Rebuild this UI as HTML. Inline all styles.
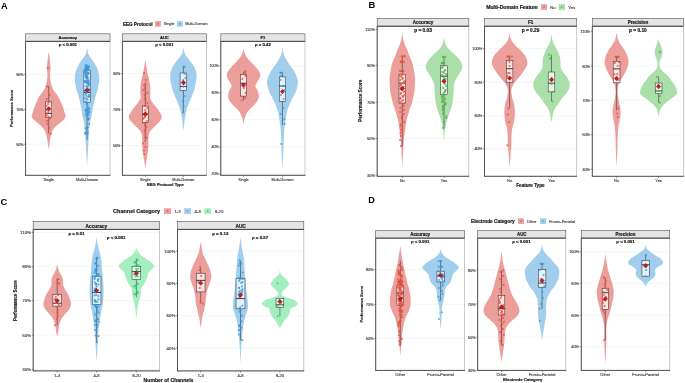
<!DOCTYPE html>
<html><head><meta charset="utf-8"><style>
html,body{margin:0;padding:0;background:#fff;width:685px;height:383px;overflow:hidden}
svg{display:block;will-change:transform}
</style></head><body>
<svg width="685" height="383" viewBox="0 0 685 383"><rect x="0" y="0" width="685" height="383" fill="#fff"/>
<text x="0.90" y="8.90" font-size="9.2" font-weight="bold" text-anchor="start" fill="#000" font-family="Liberation Sans, sans-serif" >A</text>
<text x="368.40" y="8.00" font-size="9.4" font-weight="bold" text-anchor="start" fill="#000" font-family="Liberation Sans, sans-serif" >B</text>
<text x="0.50" y="205.10" font-size="9.4" font-weight="bold" text-anchor="start" fill="#000" font-family="Liberation Sans, sans-serif" >C</text>
<text x="368.30" y="203.20" font-size="9.1" font-weight="bold" text-anchor="start" fill="#000" font-family="Liberation Sans, sans-serif" >D</text>
<line x1="25.6" y1="74.30" x2="110.0" y2="74.30" stroke="#EDEDED" stroke-width="0.5"/>
<line x1="25.6" y1="109.30" x2="110.0" y2="109.30" stroke="#EDEDED" stroke-width="0.5"/>
<line x1="25.6" y1="144.20" x2="110.0" y2="144.20" stroke="#EDEDED" stroke-width="0.5"/>
<path d="M48.70,52.20 C48.80,52.75 49.13,54.30 49.30,55.50 C49.47,56.70 49.52,57.80 49.70,59.40 C49.88,61.00 50.25,63.67 50.40,65.10 C50.55,66.53 50.67,66.55 50.60,68.00 C50.53,69.45 50.08,72.12 50.00,73.80 C49.92,75.48 50.03,77.07 50.10,78.10 C50.17,79.13 50.22,78.98 50.40,80.00 C50.58,81.02 50.83,82.80 51.20,84.20 C51.57,85.60 51.93,87.02 52.60,88.40 C53.27,89.78 54.25,91.12 55.20,92.50 C56.15,93.88 57.43,95.30 58.30,96.70 C59.17,98.10 59.75,99.50 60.40,100.90 C61.05,102.30 61.67,103.72 62.20,105.10 C62.73,106.48 63.15,107.82 63.60,109.20 C64.05,110.58 64.55,112.27 64.90,113.40 C65.25,114.53 65.83,115.03 65.70,116.00 C65.57,116.97 65.20,117.97 64.10,119.20 C63.00,120.43 60.67,122.02 59.10,123.40 C57.53,124.78 55.87,126.12 54.70,127.50 C53.53,128.88 52.75,130.30 52.10,131.70 C51.45,133.10 51.15,134.50 50.80,135.90 C50.45,137.30 50.22,138.72 50.00,140.10 C49.78,141.48 49.72,142.63 49.50,144.20 C49.28,145.77 48.83,148.62 48.70,149.50 L48.70,149.50 C48.57,148.62 48.12,145.77 47.90,144.20 C47.68,142.63 47.62,141.48 47.40,140.10 C47.18,138.72 46.95,137.30 46.60,135.90 C46.25,134.50 45.95,133.10 45.30,131.70 C44.65,130.30 43.87,128.88 42.70,127.50 C41.53,126.12 39.87,124.78 38.30,123.40 C36.73,122.02 34.40,120.43 33.30,119.20 C32.20,117.97 31.83,116.97 31.70,116.00 C31.57,115.03 32.15,114.53 32.50,113.40 C32.85,112.27 33.35,110.58 33.80,109.20 C34.25,107.82 34.67,106.48 35.20,105.10 C35.73,103.72 36.35,102.30 37.00,100.90 C37.65,99.50 38.23,98.10 39.10,96.70 C39.97,95.30 41.25,93.88 42.20,92.50 C43.15,91.12 44.13,89.78 44.80,88.40 C45.47,87.02 45.83,85.60 46.20,84.20 C46.57,82.80 46.82,81.02 47.00,80.00 C47.18,78.98 47.23,79.13 47.30,78.10 C47.37,77.07 47.48,75.48 47.40,73.80 C47.32,72.12 46.87,69.45 46.80,68.00 C46.73,66.55 46.85,66.53 47.00,65.10 C47.15,63.67 47.52,61.00 47.70,59.40 C47.88,57.80 47.93,56.70 48.10,55.50 C48.27,54.30 48.60,52.75 48.70,52.20 Z" fill="#EC9E9A" stroke="none"/>
<path d="M87.05,47.60 C87.13,48.00 87.38,49.03 87.55,50.00 C87.72,50.97 87.57,52.15 88.05,53.40 C88.53,54.65 89.53,56.12 90.45,57.50 C91.37,58.88 92.62,60.30 93.55,61.70 C94.48,63.10 95.33,64.50 96.05,65.90 C96.77,67.30 97.37,68.72 97.85,70.10 C98.33,71.48 98.72,72.82 98.95,74.20 C99.18,75.58 99.22,77.00 99.25,78.40 C99.28,79.80 99.25,81.63 99.15,82.60 C99.05,83.57 98.87,83.23 98.65,84.20 C98.43,85.17 98.17,87.02 97.85,88.40 C97.53,89.78 97.15,91.12 96.75,92.50 C96.35,93.88 95.85,95.30 95.45,96.70 C95.05,98.10 94.68,99.50 94.35,100.90 C94.02,102.30 93.73,103.72 93.45,105.10 C93.17,106.48 92.90,107.82 92.65,109.20 C92.40,110.58 92.18,112.00 91.95,113.40 C91.72,114.80 91.45,116.63 91.25,117.60 C91.05,118.57 90.97,118.23 90.75,119.20 C90.53,120.17 90.18,122.02 89.95,123.40 C89.72,124.78 89.48,126.12 89.35,127.50 C89.22,128.88 89.23,130.30 89.15,131.70 C89.07,133.10 88.95,134.50 88.85,135.90 C88.75,137.30 88.63,138.72 88.55,140.10 C88.47,141.48 88.43,142.82 88.35,144.20 C88.27,145.58 88.13,147.00 88.05,148.40 C87.97,149.80 87.93,151.00 87.85,152.60 C87.77,154.20 87.68,155.93 87.55,158.00 C87.42,160.07 87.13,163.83 87.05,165.00 L87.05,165.00 C86.97,163.83 86.68,160.07 86.55,158.00 C86.42,155.93 86.33,154.20 86.25,152.60 C86.17,151.00 86.13,149.80 86.05,148.40 C85.97,147.00 85.83,145.58 85.75,144.20 C85.67,142.82 85.63,141.48 85.55,140.10 C85.47,138.72 85.35,137.30 85.25,135.90 C85.15,134.50 85.03,133.10 84.95,131.70 C84.87,130.30 84.88,128.88 84.75,127.50 C84.62,126.12 84.38,124.78 84.15,123.40 C83.92,122.02 83.57,120.17 83.35,119.20 C83.13,118.23 83.05,118.57 82.85,117.60 C82.65,116.63 82.38,114.80 82.15,113.40 C81.92,112.00 81.70,110.58 81.45,109.20 C81.20,107.82 80.93,106.48 80.65,105.10 C80.37,103.72 80.08,102.30 79.75,100.90 C79.42,99.50 79.05,98.10 78.65,96.70 C78.25,95.30 77.75,93.88 77.35,92.50 C76.95,91.12 76.57,89.78 76.25,88.40 C75.93,87.02 75.67,85.17 75.45,84.20 C75.23,83.23 75.05,83.57 74.95,82.60 C74.85,81.63 74.82,79.80 74.85,78.40 C74.88,77.00 74.92,75.58 75.15,74.20 C75.38,72.82 75.77,71.48 76.25,70.10 C76.73,68.72 77.33,67.30 78.05,65.90 C78.77,64.50 79.62,63.10 80.55,61.70 C81.48,60.30 82.73,58.88 83.65,57.50 C84.57,56.12 85.57,54.65 86.05,53.40 C86.53,52.15 86.38,50.97 86.55,50.00 C86.72,49.03 86.97,48.00 87.05,47.60 Z" fill="#A0CEEC" stroke="none"/>
<line x1="48.70" y1="86.00" x2="48.70" y2="101.90" stroke="#222" stroke-width="0.5"/>
<line x1="48.70" y1="117.10" x2="48.70" y2="133.80" stroke="#222" stroke-width="0.5"/>
<rect x="45.65" y="101.90" width="6.10" height="15.20" fill="#fff" fill-opacity="0.7" stroke="#222" stroke-width="0.5"/>
<line x1="45.65" y1="113.40" x2="51.75" y2="113.40" stroke="#111" stroke-width="0.8"/>
<circle cx="47.85" cy="68.00" r="1.05" fill="#E74C3C" fill-opacity="0.8"/>
<circle cx="47.02" cy="86.50" r="1.05" fill="#E74C3C" fill-opacity="0.8"/>
<circle cx="49.42" cy="95.00" r="1.05" fill="#E74C3C" fill-opacity="0.8"/>
<circle cx="46.65" cy="99.00" r="1.05" fill="#E74C3C" fill-opacity="0.8"/>
<circle cx="48.87" cy="102.00" r="1.05" fill="#E74C3C" fill-opacity="0.8"/>
<circle cx="48.06" cy="104.00" r="1.05" fill="#E74C3C" fill-opacity="0.8"/>
<circle cx="46.58" cy="106.00" r="1.05" fill="#E74C3C" fill-opacity="0.8"/>
<circle cx="48.74" cy="108.00" r="1.05" fill="#E74C3C" fill-opacity="0.8"/>
<circle cx="46.48" cy="110.00" r="1.05" fill="#E74C3C" fill-opacity="0.8"/>
<circle cx="48.38" cy="112.00" r="1.05" fill="#E74C3C" fill-opacity="0.8"/>
<circle cx="46.64" cy="113.50" r="1.05" fill="#E74C3C" fill-opacity="0.8"/>
<circle cx="46.74" cy="115.00" r="1.05" fill="#E74C3C" fill-opacity="0.8"/>
<circle cx="48.34" cy="117.00" r="1.05" fill="#E74C3C" fill-opacity="0.8"/>
<circle cx="50.27" cy="118.50" r="1.05" fill="#E74C3C" fill-opacity="0.8"/>
<circle cx="46.89" cy="121.00" r="1.05" fill="#E74C3C" fill-opacity="0.8"/>
<circle cx="47.37" cy="124.00" r="1.05" fill="#E74C3C" fill-opacity="0.8"/>
<circle cx="49.31" cy="128.00" r="1.05" fill="#E74C3C" fill-opacity="0.8"/>
<circle cx="50.85" cy="133.80" r="1.05" fill="#E74C3C" fill-opacity="0.8"/>
<path d="M48.70,106.70 L50.90,108.90 L48.70,111.10 L46.50,108.90 Z" fill="#E8120C" stroke="#3a0a0a" stroke-width="0.45"/>
<line x1="87.05" y1="65.40" x2="87.05" y2="70.10" stroke="#222" stroke-width="0.5"/>
<line x1="87.05" y1="102.50" x2="87.05" y2="140.00" stroke="#222" stroke-width="0.5"/>
<rect x="83.90" y="70.10" width="6.30" height="32.40" fill="#fff" fill-opacity="0.7" stroke="#222" stroke-width="0.5"/>
<line x1="83.90" y1="92.50" x2="90.20" y2="92.50" stroke="#111" stroke-width="0.8"/>
<circle cx="86.60" cy="92.26" r="1.05" fill="#3498DB" fill-opacity="0.8"/>
<circle cx="85.05" cy="132.91" r="1.05" fill="#3498DB" fill-opacity="0.8"/>
<circle cx="86.12" cy="113.52" r="1.05" fill="#3498DB" fill-opacity="0.8"/>
<circle cx="85.37" cy="72.49" r="1.05" fill="#3498DB" fill-opacity="0.8"/>
<circle cx="88.44" cy="79.95" r="1.05" fill="#3498DB" fill-opacity="0.8"/>
<circle cx="87.41" cy="74.35" r="1.05" fill="#3498DB" fill-opacity="0.8"/>
<circle cx="86.49" cy="95.99" r="1.05" fill="#3498DB" fill-opacity="0.8"/>
<circle cx="85.13" cy="90.76" r="1.05" fill="#3498DB" fill-opacity="0.8"/>
<circle cx="85.76" cy="68.38" r="1.05" fill="#3498DB" fill-opacity="0.8"/>
<circle cx="86.73" cy="98.60" r="1.05" fill="#3498DB" fill-opacity="0.8"/>
<circle cx="87.43" cy="79.95" r="1.05" fill="#3498DB" fill-opacity="0.8"/>
<circle cx="86.17" cy="86.29" r="1.05" fill="#3498DB" fill-opacity="0.8"/>
<circle cx="87.93" cy="107.18" r="1.05" fill="#3498DB" fill-opacity="0.8"/>
<circle cx="87.38" cy="76.96" r="1.05" fill="#3498DB" fill-opacity="0.8"/>
<circle cx="88.70" cy="89.65" r="1.05" fill="#3498DB" fill-opacity="0.8"/>
<circle cx="86.12" cy="101.95" r="1.05" fill="#3498DB" fill-opacity="0.8"/>
<circle cx="85.37" cy="134.03" r="1.05" fill="#3498DB" fill-opacity="0.8"/>
<circle cx="88.18" cy="84.42" r="1.05" fill="#3498DB" fill-opacity="0.8"/>
<circle cx="87.00" cy="72.86" r="1.05" fill="#3498DB" fill-opacity="0.8"/>
<circle cx="87.79" cy="67.64" r="1.05" fill="#3498DB" fill-opacity="0.8"/>
<circle cx="87.37" cy="104.56" r="1.05" fill="#3498DB" fill-opacity="0.8"/>
<circle cx="86.23" cy="115.38" r="1.05" fill="#3498DB" fill-opacity="0.8"/>
<circle cx="87.47" cy="99.72" r="1.05" fill="#3498DB" fill-opacity="0.8"/>
<circle cx="86.86" cy="92.63" r="1.05" fill="#3498DB" fill-opacity="0.8"/>
<circle cx="89.01" cy="111.65" r="1.05" fill="#3498DB" fill-opacity="0.8"/>
<circle cx="87.77" cy="87.03" r="1.05" fill="#3498DB" fill-opacity="0.8"/>
<circle cx="87.94" cy="68.76" r="1.05" fill="#3498DB" fill-opacity="0.8"/>
<circle cx="89.22" cy="96.36" r="1.05" fill="#3498DB" fill-opacity="0.8"/>
<circle cx="86.10" cy="109.79" r="1.05" fill="#3498DB" fill-opacity="0.8"/>
<circle cx="87.79" cy="83.30" r="1.05" fill="#3498DB" fill-opacity="0.8"/>
<circle cx="86.88" cy="66.52" r="1.05" fill="#3498DB" fill-opacity="0.8"/>
<circle cx="85.37" cy="73.61" r="1.05" fill="#3498DB" fill-opacity="0.8"/>
<circle cx="88.23" cy="68.38" r="1.05" fill="#3498DB" fill-opacity="0.8"/>
<circle cx="85.94" cy="72.11" r="1.05" fill="#3498DB" fill-opacity="0.8"/>
<circle cx="88.68" cy="83.30" r="1.05" fill="#3498DB" fill-opacity="0.8"/>
<circle cx="86.83" cy="69.50" r="1.05" fill="#3498DB" fill-opacity="0.8"/>
<circle cx="88.74" cy="90.76" r="1.05" fill="#3498DB" fill-opacity="0.8"/>
<circle cx="88.65" cy="109.41" r="1.05" fill="#3498DB" fill-opacity="0.8"/>
<circle cx="86.68" cy="78.46" r="1.05" fill="#3498DB" fill-opacity="0.8"/>
<circle cx="88.74" cy="81.81" r="1.05" fill="#3498DB" fill-opacity="0.8"/>
<circle cx="85.51" cy="128.44" r="1.05" fill="#3498DB" fill-opacity="0.8"/>
<circle cx="85.87" cy="73.98" r="1.05" fill="#3498DB" fill-opacity="0.8"/>
<circle cx="86.98" cy="76.59" r="1.05" fill="#3498DB" fill-opacity="0.8"/>
<circle cx="86.01" cy="93.00" r="1.05" fill="#3498DB" fill-opacity="0.8"/>
<circle cx="86.69" cy="65.40" r="1.05" fill="#3498DB" fill-opacity="0.8"/>
<circle cx="87.34" cy="82.56" r="1.05" fill="#3498DB" fill-opacity="0.8"/>
<circle cx="87.89" cy="127.32" r="1.05" fill="#3498DB" fill-opacity="0.8"/>
<circle cx="87.57" cy="89.27" r="1.05" fill="#3498DB" fill-opacity="0.8"/>
<circle cx="85.09" cy="98.22" r="1.05" fill="#3498DB" fill-opacity="0.8"/>
<circle cx="88.28" cy="118.37" r="1.05" fill="#3498DB" fill-opacity="0.8"/>
<circle cx="88.36" cy="115.38" r="1.05" fill="#3498DB" fill-opacity="0.8"/>
<circle cx="86.61" cy="83.30" r="1.05" fill="#3498DB" fill-opacity="0.8"/>
<circle cx="87.64" cy="70.62" r="1.05" fill="#3498DB" fill-opacity="0.8"/>
<circle cx="85.15" cy="68.76" r="1.05" fill="#3498DB" fill-opacity="0.8"/>
<circle cx="85.56" cy="75.47" r="1.05" fill="#3498DB" fill-opacity="0.8"/>
<circle cx="85.08" cy="81.07" r="1.05" fill="#3498DB" fill-opacity="0.8"/>
<circle cx="85.52" cy="65.40" r="1.05" fill="#3498DB" fill-opacity="0.8"/>
<circle cx="86.45" cy="70.62" r="1.05" fill="#3498DB" fill-opacity="0.8"/>
<circle cx="88.70" cy="66.52" r="1.05" fill="#3498DB" fill-opacity="0.8"/>
<circle cx="85.50" cy="94.49" r="1.05" fill="#3498DB" fill-opacity="0.8"/>
<circle cx="86.38" cy="77.34" r="1.05" fill="#3498DB" fill-opacity="0.8"/>
<circle cx="85.39" cy="82.19" r="1.05" fill="#3498DB" fill-opacity="0.8"/>
<circle cx="89.22" cy="112.40" r="1.05" fill="#3498DB" fill-opacity="0.8"/>
<circle cx="86.98" cy="86.66" r="1.05" fill="#3498DB" fill-opacity="0.8"/>
<circle cx="85.30" cy="69.88" r="1.05" fill="#3498DB" fill-opacity="0.8"/>
<circle cx="86.01" cy="81.44" r="1.05" fill="#3498DB" fill-opacity="0.8"/>
<circle cx="85.56" cy="110.53" r="1.05" fill="#3498DB" fill-opacity="0.8"/>
<circle cx="89.03" cy="66.52" r="1.05" fill="#3498DB" fill-opacity="0.8"/>
<circle cx="85.50" cy="90.02" r="1.05" fill="#3498DB" fill-opacity="0.8"/>
<circle cx="84.97" cy="90.76" r="1.05" fill="#3498DB" fill-opacity="0.8"/>
<circle cx="89.16" cy="90.02" r="1.05" fill="#3498DB" fill-opacity="0.8"/>
<circle cx="87.91" cy="113.89" r="1.05" fill="#3498DB" fill-opacity="0.8"/>
<circle cx="86.46" cy="77.71" r="1.05" fill="#3498DB" fill-opacity="0.8"/>
<circle cx="88.25" cy="73.61" r="1.05" fill="#3498DB" fill-opacity="0.8"/>
<circle cx="88.28" cy="90.02" r="1.05" fill="#3498DB" fill-opacity="0.8"/>
<circle cx="85.83" cy="80.69" r="1.05" fill="#3498DB" fill-opacity="0.8"/>
<circle cx="89.18" cy="108.67" r="1.05" fill="#3498DB" fill-opacity="0.8"/>
<circle cx="88.40" cy="112.77" r="1.05" fill="#3498DB" fill-opacity="0.8"/>
<circle cx="88.11" cy="109.41" r="1.05" fill="#3498DB" fill-opacity="0.8"/>
<circle cx="87.13" cy="76.22" r="1.05" fill="#3498DB" fill-opacity="0.8"/>
<circle cx="84.98" cy="81.81" r="1.05" fill="#3498DB" fill-opacity="0.8"/>
<circle cx="86.08" cy="66.89" r="1.05" fill="#3498DB" fill-opacity="0.8"/>
<circle cx="87.90" cy="77.71" r="1.05" fill="#3498DB" fill-opacity="0.8"/>
<circle cx="86.82" cy="128.06" r="1.05" fill="#3498DB" fill-opacity="0.8"/>
<circle cx="89.20" cy="123.96" r="1.05" fill="#3498DB" fill-opacity="0.8"/>
<circle cx="86.45" cy="128.06" r="1.05" fill="#3498DB" fill-opacity="0.8"/>
<circle cx="85.85" cy="75.84" r="1.05" fill="#3498DB" fill-opacity="0.8"/>
<circle cx="85.75" cy="75.10" r="1.05" fill="#3498DB" fill-opacity="0.8"/>
<circle cx="88.81" cy="94.87" r="1.05" fill="#3498DB" fill-opacity="0.8"/>
<circle cx="86.96" cy="111.65" r="1.05" fill="#3498DB" fill-opacity="0.8"/>
<circle cx="88.37" cy="96.73" r="1.05" fill="#3498DB" fill-opacity="0.8"/>
<circle cx="87.76" cy="69.88" r="1.05" fill="#3498DB" fill-opacity="0.8"/>
<circle cx="88.29" cy="119.49" r="1.05" fill="#3498DB" fill-opacity="0.8"/>
<circle cx="86.95" cy="103.45" r="1.05" fill="#3498DB" fill-opacity="0.8"/>
<circle cx="88.32" cy="73.98" r="1.05" fill="#3498DB" fill-opacity="0.8"/>
<circle cx="88.37" cy="80.69" r="1.05" fill="#3498DB" fill-opacity="0.8"/>
<circle cx="86.59" cy="131.79" r="1.05" fill="#3498DB" fill-opacity="0.8"/>
<circle cx="89.02" cy="83.68" r="1.05" fill="#3498DB" fill-opacity="0.8"/>
<circle cx="85.60" cy="101.58" r="1.05" fill="#3498DB" fill-opacity="0.8"/>
<circle cx="85.52" cy="71.74" r="1.05" fill="#3498DB" fill-opacity="0.8"/>
<circle cx="88.40" cy="119.11" r="1.05" fill="#3498DB" fill-opacity="0.8"/>
<circle cx="88.49" cy="72.86" r="1.05" fill="#3498DB" fill-opacity="0.8"/>
<circle cx="87.74" cy="134.03" r="1.05" fill="#3498DB" fill-opacity="0.8"/>
<circle cx="87.26" cy="81.44" r="1.05" fill="#3498DB" fill-opacity="0.8"/>
<circle cx="84.91" cy="72.11" r="1.05" fill="#3498DB" fill-opacity="0.8"/>
<circle cx="87.71" cy="131.79" r="1.05" fill="#3498DB" fill-opacity="0.8"/>
<circle cx="88.96" cy="89.65" r="1.05" fill="#3498DB" fill-opacity="0.8"/>
<circle cx="88.69" cy="85.17" r="1.05" fill="#3498DB" fill-opacity="0.8"/>
<circle cx="85.78" cy="110.16" r="1.05" fill="#3498DB" fill-opacity="0.8"/>
<circle cx="86.14" cy="77.34" r="1.05" fill="#3498DB" fill-opacity="0.8"/>
<path d="M87.05,87.90 L89.25,90.10 L87.05,92.30 L84.85,90.10 Z" fill="#E8120C" stroke="#3a0a0a" stroke-width="0.45"/>
<rect x="25.6" y="41.3" width="84.40" height="134.00" fill="none" stroke="#BDBDBD" stroke-width="0.8"/>
<line x1="25.6" y1="41.3" x2="25.6" y2="175.3" stroke="#333" stroke-width="0.8"/>
<line x1="25.200000000000003" y1="175.3" x2="110.4" y2="175.3" stroke="#333" stroke-width="0.8"/>
<rect x="25.6" y="33.8" width="84.40" height="7.50" fill="#E4E4E4" stroke="#555" stroke-width="0.6"/>
<line x1="25.6" y1="41.3" x2="110.0" y2="41.3" stroke="#333" stroke-width="0.8"/>
<text x="67.80" y="39.03" font-size="4.1" font-weight="bold" text-anchor="middle" fill="#1a1a1a" stroke="#1a1a1a" stroke-width="0.2" font-family="Liberation Sans, sans-serif" >Accuracy</text>
<text x="67.80" y="46.35" font-size="4.3" font-weight="bold" text-anchor="middle" fill="#1a1a1a" stroke="#1a1a1a" stroke-width="0.2" font-family="Liberation Sans, sans-serif" >p &lt; 0.001</text>
<line x1="24.0" y1="74.30" x2="25.6" y2="74.30" stroke="#333" stroke-width="0.5"/>
<text x="23.40" y="75.80" font-size="3.6" font-weight="normal" text-anchor="end" fill="#333" stroke="#333" stroke-width="0.11" font-family="Liberation Sans, sans-serif" >90%</text>
<line x1="24.0" y1="109.30" x2="25.6" y2="109.30" stroke="#333" stroke-width="0.5"/>
<text x="23.40" y="110.80" font-size="3.6" font-weight="normal" text-anchor="end" fill="#333" stroke="#333" stroke-width="0.11" font-family="Liberation Sans, sans-serif" >70%</text>
<line x1="24.0" y1="144.20" x2="25.6" y2="144.20" stroke="#333" stroke-width="0.5"/>
<text x="23.40" y="145.70" font-size="3.6" font-weight="normal" text-anchor="end" fill="#333" stroke="#333" stroke-width="0.11" font-family="Liberation Sans, sans-serif" >50%</text>
<line x1="48.70" y1="175.3" x2="48.70" y2="176.9" stroke="#333" stroke-width="0.5"/>
<text x="48.70" y="180.65" font-size="3.75" font-weight="normal" text-anchor="middle" fill="#333" stroke="#333" stroke-width="0.11" font-family="Liberation Sans, sans-serif" >Single</text>
<line x1="87.05" y1="175.3" x2="87.05" y2="176.9" stroke="#333" stroke-width="0.5"/>
<text x="87.05" y="180.65" font-size="3.75" font-weight="normal" text-anchor="middle" fill="#333" stroke="#333" stroke-width="0.11" font-family="Liberation Sans, sans-serif" >Multi-Domain</text>
<line x1="122.4" y1="73.50" x2="206.4" y2="73.50" stroke="#EDEDED" stroke-width="0.5"/>
<line x1="122.4" y1="109.30" x2="206.4" y2="109.30" stroke="#EDEDED" stroke-width="0.5"/>
<line x1="122.4" y1="145.50" x2="206.4" y2="145.50" stroke="#EDEDED" stroke-width="0.5"/>
<path d="M145.30,59.00 C145.36,59.42 145.53,60.63 145.65,61.50 C145.77,62.37 145.82,63.05 146.00,64.20 C146.18,65.35 146.47,67.02 146.70,68.40 C146.93,69.78 147.12,71.12 147.40,72.50 C147.68,73.88 148.07,75.30 148.40,76.70 C148.73,78.10 149.13,79.50 149.40,80.90 C149.67,82.30 149.85,83.72 150.00,85.10 C150.15,86.48 150.27,87.82 150.30,89.20 C150.33,90.58 150.25,92.00 150.20,93.40 C150.15,94.80 149.95,96.63 150.00,97.60 C150.05,98.57 150.00,98.23 150.50,99.20 C151.00,100.17 152.00,102.02 153.00,103.40 C154.00,104.78 155.43,106.12 156.50,107.50 C157.57,108.88 158.53,110.30 159.40,111.70 C160.27,113.10 161.48,114.50 161.70,115.90 C161.92,117.30 161.48,118.72 160.70,120.10 C159.92,121.48 158.35,122.82 157.00,124.20 C155.65,125.58 153.72,127.27 152.60,128.40 C151.48,129.53 150.92,130.03 150.30,131.00 C149.68,131.97 149.22,132.97 148.90,134.20 C148.58,135.43 148.48,137.02 148.40,138.40 C148.32,139.78 148.40,141.12 148.40,142.50 C148.40,143.88 148.47,145.30 148.40,146.70 C148.33,148.10 148.18,149.50 148.00,150.90 C147.82,152.30 147.53,153.72 147.30,155.10 C147.07,156.48 146.82,157.82 146.60,159.20 C146.38,160.58 146.22,162.00 146.00,163.40 C145.78,164.80 145.42,166.90 145.30,167.60 L145.30,167.60 C145.18,166.90 144.82,164.80 144.60,163.40 C144.38,162.00 144.22,160.58 144.00,159.20 C143.78,157.82 143.53,156.48 143.30,155.10 C143.07,153.72 142.78,152.30 142.60,150.90 C142.42,149.50 142.27,148.10 142.20,146.70 C142.13,145.30 142.20,143.88 142.20,142.50 C142.20,141.12 142.28,139.78 142.20,138.40 C142.12,137.02 142.02,135.43 141.70,134.20 C141.38,132.97 140.92,131.97 140.30,131.00 C139.68,130.03 139.12,129.53 138.00,128.40 C136.88,127.27 134.95,125.58 133.60,124.20 C132.25,122.82 130.68,121.48 129.90,120.10 C129.12,118.72 128.68,117.30 128.90,115.90 C129.12,114.50 130.33,113.10 131.20,111.70 C132.07,110.30 133.03,108.88 134.10,107.50 C135.17,106.12 136.60,104.78 137.60,103.40 C138.60,102.02 139.60,100.17 140.10,99.20 C140.60,98.23 140.55,98.57 140.60,97.60 C140.65,96.63 140.45,94.80 140.40,93.40 C140.35,92.00 140.27,90.58 140.30,89.20 C140.33,87.82 140.45,86.48 140.60,85.10 C140.75,83.72 140.93,82.30 141.20,80.90 C141.47,79.50 141.87,78.10 142.20,76.70 C142.53,75.30 142.92,73.88 143.20,72.50 C143.48,71.12 143.67,69.78 143.90,68.40 C144.13,67.02 144.43,65.35 144.60,64.20 C144.78,63.05 144.83,62.37 144.95,61.50 C145.07,60.63 145.24,59.42 145.30,59.00 Z" fill="#EC9E9A" stroke="none"/>
<path d="M183.40,47.10 C183.48,47.58 183.68,48.95 183.90,50.00 C184.12,51.05 184.13,52.15 184.70,53.40 C185.27,54.65 186.30,56.12 187.30,57.50 C188.30,58.88 189.63,60.30 190.70,61.70 C191.77,63.10 192.88,64.50 193.70,65.90 C194.52,67.30 195.12,68.72 195.60,70.10 C196.08,71.48 196.45,72.82 196.60,74.20 C196.75,75.58 196.60,77.00 196.50,78.40 C196.40,79.80 196.17,81.63 196.00,82.60 C195.83,83.57 195.72,83.23 195.50,84.20 C195.28,85.17 195.05,87.02 194.70,88.40 C194.35,89.78 193.92,91.12 193.40,92.50 C192.88,93.88 192.20,95.30 191.60,96.70 C191.00,98.10 190.37,99.50 189.80,100.90 C189.23,102.30 188.70,103.72 188.20,105.10 C187.70,106.48 187.20,107.82 186.80,109.20 C186.40,110.58 186.10,112.00 185.80,113.40 C185.50,114.80 185.23,116.17 185.00,117.60 C184.77,119.03 184.57,120.60 184.40,122.00 C184.23,123.40 184.17,124.50 184.00,126.00 C183.83,127.50 183.50,130.17 183.40,131.00 L183.40,131.00 C183.30,130.17 182.97,127.50 182.80,126.00 C182.63,124.50 182.57,123.40 182.40,122.00 C182.23,120.60 182.03,119.03 181.80,117.60 C181.57,116.17 181.30,114.80 181.00,113.40 C180.70,112.00 180.40,110.58 180.00,109.20 C179.60,107.82 179.10,106.48 178.60,105.10 C178.10,103.72 177.57,102.30 177.00,100.90 C176.43,99.50 175.80,98.10 175.20,96.70 C174.60,95.30 173.92,93.88 173.40,92.50 C172.88,91.12 172.45,89.78 172.10,88.40 C171.75,87.02 171.52,85.17 171.30,84.20 C171.08,83.23 170.97,83.57 170.80,82.60 C170.63,81.63 170.40,79.80 170.30,78.40 C170.20,77.00 170.05,75.58 170.20,74.20 C170.35,72.82 170.72,71.48 171.20,70.10 C171.68,68.72 172.28,67.30 173.10,65.90 C173.92,64.50 175.03,63.10 176.10,61.70 C177.17,60.30 178.50,58.88 179.50,57.50 C180.50,56.12 181.53,54.65 182.10,53.40 C182.67,52.15 182.68,51.05 182.90,50.00 C183.12,48.95 183.32,47.58 183.40,47.10 Z" fill="#A0CEEC" stroke="none"/>
<line x1="145.30" y1="82.50" x2="145.30" y2="106.00" stroke="#222" stroke-width="0.5"/>
<line x1="145.30" y1="122.40" x2="145.30" y2="142.00" stroke="#222" stroke-width="0.5"/>
<rect x="142.30" y="106.00" width="6.00" height="16.40" fill="#fff" fill-opacity="0.7" stroke="#222" stroke-width="0.5"/>
<line x1="142.30" y1="114.00" x2="148.30" y2="114.00" stroke="#111" stroke-width="0.8"/>
<circle cx="144.05" cy="73.00" r="1.05" fill="#E74C3C" fill-opacity="0.8"/>
<circle cx="145.71" cy="80.00" r="1.05" fill="#E74C3C" fill-opacity="0.8"/>
<circle cx="144.14" cy="85.00" r="1.05" fill="#E74C3C" fill-opacity="0.8"/>
<circle cx="144.91" cy="88.00" r="1.05" fill="#E74C3C" fill-opacity="0.8"/>
<circle cx="143.53" cy="90.00" r="1.05" fill="#E74C3C" fill-opacity="0.8"/>
<circle cx="147.27" cy="93.00" r="1.05" fill="#E74C3C" fill-opacity="0.8"/>
<circle cx="144.60" cy="95.00" r="1.05" fill="#E74C3C" fill-opacity="0.8"/>
<circle cx="145.10" cy="98.00" r="1.05" fill="#E74C3C" fill-opacity="0.8"/>
<circle cx="145.70" cy="100.00" r="1.05" fill="#E74C3C" fill-opacity="0.8"/>
<circle cx="147.24" cy="103.00" r="1.05" fill="#E74C3C" fill-opacity="0.8"/>
<circle cx="144.92" cy="106.00" r="1.05" fill="#E74C3C" fill-opacity="0.8"/>
<circle cx="147.31" cy="108.00" r="1.05" fill="#E74C3C" fill-opacity="0.8"/>
<circle cx="145.31" cy="110.00" r="1.05" fill="#E74C3C" fill-opacity="0.8"/>
<circle cx="145.45" cy="112.00" r="1.05" fill="#E74C3C" fill-opacity="0.8"/>
<circle cx="145.41" cy="113.00" r="1.05" fill="#E74C3C" fill-opacity="0.8"/>
<circle cx="142.99" cy="115.00" r="1.05" fill="#E74C3C" fill-opacity="0.8"/>
<circle cx="145.01" cy="117.00" r="1.05" fill="#E74C3C" fill-opacity="0.8"/>
<circle cx="143.78" cy="118.00" r="1.05" fill="#E74C3C" fill-opacity="0.8"/>
<circle cx="142.92" cy="119.00" r="1.05" fill="#E74C3C" fill-opacity="0.8"/>
<circle cx="146.74" cy="121.00" r="1.05" fill="#E74C3C" fill-opacity="0.8"/>
<circle cx="143.73" cy="123.00" r="1.05" fill="#E74C3C" fill-opacity="0.8"/>
<circle cx="145.17" cy="125.00" r="1.05" fill="#E74C3C" fill-opacity="0.8"/>
<circle cx="146.38" cy="127.00" r="1.05" fill="#E74C3C" fill-opacity="0.8"/>
<circle cx="145.57" cy="129.00" r="1.05" fill="#E74C3C" fill-opacity="0.8"/>
<circle cx="144.46" cy="131.00" r="1.05" fill="#E74C3C" fill-opacity="0.8"/>
<circle cx="145.39" cy="134.00" r="1.05" fill="#E74C3C" fill-opacity="0.8"/>
<circle cx="145.57" cy="137.00" r="1.05" fill="#E74C3C" fill-opacity="0.8"/>
<circle cx="146.66" cy="138.00" r="1.05" fill="#E74C3C" fill-opacity="0.8"/>
<circle cx="143.41" cy="143.50" r="1.05" fill="#E74C3C" fill-opacity="0.8"/>
<circle cx="145.59" cy="147.00" r="1.05" fill="#E74C3C" fill-opacity="0.8"/>
<circle cx="144.09" cy="150.50" r="1.05" fill="#E74C3C" fill-opacity="0.8"/>
<circle cx="144.23" cy="154.00" r="1.05" fill="#E74C3C" fill-opacity="0.8"/>
<path d="M145.30,112.10 L147.50,114.30 L145.30,116.50 L143.10,114.30 Z" fill="#E8120C" stroke="#3a0a0a" stroke-width="0.45"/>
<line x1="183.40" y1="66.70" x2="183.40" y2="73.00" stroke="#222" stroke-width="0.5"/>
<line x1="183.40" y1="90.40" x2="183.40" y2="112.40" stroke="#222" stroke-width="0.5"/>
<rect x="180.10" y="73.00" width="6.60" height="17.40" fill="#fff" fill-opacity="0.7" stroke="#222" stroke-width="0.5"/>
<line x1="180.10" y1="86.50" x2="186.70" y2="86.50" stroke="#111" stroke-width="0.8"/>
<circle cx="184.71" cy="66.70" r="1.05" fill="#3498DB" fill-opacity="0.8"/>
<circle cx="183.44" cy="66.70" r="1.05" fill="#3498DB" fill-opacity="0.8"/>
<circle cx="183.70" cy="66.70" r="1.05" fill="#3498DB" fill-opacity="0.8"/>
<circle cx="184.65" cy="74.00" r="1.05" fill="#3498DB" fill-opacity="0.8"/>
<circle cx="185.38" cy="78.00" r="1.05" fill="#3498DB" fill-opacity="0.8"/>
<circle cx="183.13" cy="80.00" r="1.05" fill="#3498DB" fill-opacity="0.8"/>
<circle cx="183.94" cy="84.00" r="1.05" fill="#3498DB" fill-opacity="0.8"/>
<circle cx="183.43" cy="86.50" r="1.05" fill="#3498DB" fill-opacity="0.8"/>
<circle cx="183.46" cy="86.50" r="1.05" fill="#3498DB" fill-opacity="0.8"/>
<circle cx="184.33" cy="96.00" r="1.05" fill="#3498DB" fill-opacity="0.8"/>
<circle cx="183.17" cy="101.00" r="1.05" fill="#3498DB" fill-opacity="0.8"/>
<circle cx="183.56" cy="106.00" r="1.05" fill="#3498DB" fill-opacity="0.8"/>
<circle cx="183.29" cy="112.40" r="1.05" fill="#3498DB" fill-opacity="0.8"/>
<path d="M183.40,80.40 L185.60,82.60 L183.40,84.80 L181.20,82.60 Z" fill="#E8120C" stroke="#3a0a0a" stroke-width="0.45"/>
<rect x="122.4" y="41.3" width="84.00" height="134.00" fill="none" stroke="#BDBDBD" stroke-width="0.8"/>
<line x1="122.4" y1="41.3" x2="122.4" y2="175.3" stroke="#333" stroke-width="0.8"/>
<line x1="122.0" y1="175.3" x2="206.8" y2="175.3" stroke="#333" stroke-width="0.8"/>
<rect x="122.4" y="33.8" width="84.00" height="7.50" fill="#E4E4E4" stroke="#555" stroke-width="0.6"/>
<line x1="122.4" y1="41.3" x2="206.4" y2="41.3" stroke="#333" stroke-width="0.8"/>
<text x="164.40" y="39.03" font-size="4.1" font-weight="bold" text-anchor="middle" fill="#1a1a1a" stroke="#1a1a1a" stroke-width="0.2" font-family="Liberation Sans, sans-serif" >AUC</text>
<text x="164.40" y="46.35" font-size="4.3" font-weight="bold" text-anchor="middle" fill="#1a1a1a" stroke="#1a1a1a" stroke-width="0.2" font-family="Liberation Sans, sans-serif" >p &lt; 0.001</text>
<line x1="120.80000000000001" y1="73.50" x2="122.4" y2="73.50" stroke="#333" stroke-width="0.5"/>
<text x="120.20" y="75.00" font-size="3.6" font-weight="normal" text-anchor="end" fill="#333" stroke="#333" stroke-width="0.11" font-family="Liberation Sans, sans-serif" >90%</text>
<line x1="120.80000000000001" y1="109.30" x2="122.4" y2="109.30" stroke="#333" stroke-width="0.5"/>
<text x="120.20" y="110.80" font-size="3.6" font-weight="normal" text-anchor="end" fill="#333" stroke="#333" stroke-width="0.11" font-family="Liberation Sans, sans-serif" >70%</text>
<line x1="120.80000000000001" y1="145.50" x2="122.4" y2="145.50" stroke="#333" stroke-width="0.5"/>
<text x="120.20" y="147.00" font-size="3.6" font-weight="normal" text-anchor="end" fill="#333" stroke="#333" stroke-width="0.11" font-family="Liberation Sans, sans-serif" >50%</text>
<line x1="145.30" y1="175.3" x2="145.30" y2="176.9" stroke="#333" stroke-width="0.5"/>
<text x="145.30" y="180.65" font-size="3.75" font-weight="normal" text-anchor="middle" fill="#333" stroke="#333" stroke-width="0.11" font-family="Liberation Sans, sans-serif" >Single</text>
<line x1="183.40" y1="175.3" x2="183.40" y2="176.9" stroke="#333" stroke-width="0.5"/>
<text x="183.40" y="180.65" font-size="3.75" font-weight="normal" text-anchor="middle" fill="#333" stroke="#333" stroke-width="0.11" font-family="Liberation Sans, sans-serif" >Multi-Domain</text>
<line x1="220.8" y1="65.80" x2="305.0" y2="65.80" stroke="#EDEDED" stroke-width="0.5"/>
<line x1="220.8" y1="92.80" x2="305.0" y2="92.80" stroke="#EDEDED" stroke-width="0.5"/>
<line x1="220.8" y1="119.70" x2="305.0" y2="119.70" stroke="#EDEDED" stroke-width="0.5"/>
<line x1="220.8" y1="146.90" x2="305.0" y2="146.90" stroke="#EDEDED" stroke-width="0.5"/>
<line x1="220.8" y1="173.80" x2="305.0" y2="173.80" stroke="#EDEDED" stroke-width="0.5"/>
<path d="M243.50,48.10 C243.58,48.58 243.78,50.12 244.00,51.00 C244.22,51.88 244.32,52.32 244.80,53.40 C245.28,54.48 245.95,56.12 246.90,57.50 C247.85,58.88 249.22,60.30 250.50,61.70 C251.78,63.10 253.33,64.50 254.60,65.90 C255.87,67.30 257.18,68.72 258.10,70.10 C259.02,71.48 259.88,72.82 260.10,74.20 C260.32,75.58 259.93,77.03 259.40,78.40 C258.87,79.77 257.55,81.22 256.90,82.40 C256.25,83.58 255.68,84.65 255.50,85.50 C255.32,86.35 255.45,86.68 255.80,87.50 C256.15,88.32 257.10,89.23 257.60,90.40 C258.10,91.57 258.67,93.12 258.80,94.50 C258.93,95.88 258.88,97.30 258.40,98.70 C257.92,100.10 256.95,101.50 255.90,102.90 C254.85,104.30 253.42,105.72 252.10,107.10 C250.78,108.48 249.08,109.82 248.00,111.20 C246.92,112.58 246.20,114.00 245.60,115.40 C245.00,116.80 244.75,118.17 244.40,119.60 C244.05,121.03 243.65,123.27 243.50,124.00 L243.50,124.00 C243.35,123.27 242.95,121.03 242.60,119.60 C242.25,118.17 242.00,116.80 241.40,115.40 C240.80,114.00 240.08,112.58 239.00,111.20 C237.92,109.82 236.22,108.48 234.90,107.10 C233.58,105.72 232.15,104.30 231.10,102.90 C230.05,101.50 229.08,100.10 228.60,98.70 C228.12,97.30 228.07,95.88 228.20,94.50 C228.33,93.12 228.90,91.57 229.40,90.40 C229.90,89.23 230.85,88.32 231.20,87.50 C231.55,86.68 231.68,86.35 231.50,85.50 C231.32,84.65 230.75,83.58 230.10,82.40 C229.45,81.22 228.13,79.77 227.60,78.40 C227.07,77.03 226.68,75.58 226.90,74.20 C227.12,72.82 227.98,71.48 228.90,70.10 C229.82,68.72 231.13,67.30 232.40,65.90 C233.67,64.50 235.22,63.10 236.50,61.70 C237.78,60.30 239.15,58.88 240.10,57.50 C241.05,56.12 241.72,54.48 242.20,53.40 C242.68,52.32 242.78,51.88 243.00,51.00 C243.22,50.12 243.42,48.58 243.50,48.10 Z" fill="#EC9E9A" stroke="none"/>
<path d="M282.50,47.10 C282.57,47.58 282.73,48.95 282.90,50.00 C283.07,51.05 283.13,52.15 283.50,53.40 C283.87,54.65 284.42,56.12 285.10,57.50 C285.78,58.88 286.72,60.30 287.60,61.70 C288.48,63.10 289.43,64.50 290.40,65.90 C291.37,67.30 292.52,68.72 293.40,70.10 C294.28,71.48 295.05,72.82 295.70,74.20 C296.35,75.58 296.92,77.05 297.30,78.40 C297.68,79.75 297.98,81.00 298.00,82.30 C298.02,83.60 297.70,84.85 297.40,86.20 C297.10,87.55 296.70,89.02 296.20,90.40 C295.70,91.78 295.05,93.12 294.40,94.50 C293.75,95.88 293.00,97.30 292.30,98.70 C291.60,100.10 290.83,101.50 290.20,102.90 C289.57,104.30 289.02,105.72 288.50,107.10 C287.98,108.48 287.48,109.82 287.10,111.20 C286.72,112.58 286.45,114.00 286.20,115.40 C285.95,116.80 285.82,118.20 285.60,119.60 C285.38,121.00 285.15,121.67 284.90,123.80 C284.65,125.93 284.30,129.53 284.10,132.40 C283.90,135.27 283.82,138.07 283.70,141.00 C283.58,143.93 283.52,146.83 283.40,150.00 C283.28,153.17 283.15,157.00 283.00,160.00 C282.85,163.00 282.58,166.67 282.50,168.00 L282.50,168.00 C282.42,166.67 282.15,163.00 282.00,160.00 C281.85,157.00 281.72,153.17 281.60,150.00 C281.48,146.83 281.42,143.93 281.30,141.00 C281.18,138.07 281.10,135.27 280.90,132.40 C280.70,129.53 280.35,125.93 280.10,123.80 C279.85,121.67 279.62,121.00 279.40,119.60 C279.18,118.20 279.05,116.80 278.80,115.40 C278.55,114.00 278.28,112.58 277.90,111.20 C277.52,109.82 277.02,108.48 276.50,107.10 C275.98,105.72 275.43,104.30 274.80,102.90 C274.17,101.50 273.40,100.10 272.70,98.70 C272.00,97.30 271.25,95.88 270.60,94.50 C269.95,93.12 269.30,91.78 268.80,90.40 C268.30,89.02 267.90,87.55 267.60,86.20 C267.30,84.85 266.98,83.60 267.00,82.30 C267.02,81.00 267.32,79.75 267.70,78.40 C268.08,77.05 268.65,75.58 269.30,74.20 C269.95,72.82 270.72,71.48 271.60,70.10 C272.48,68.72 273.63,67.30 274.60,65.90 C275.57,64.50 276.52,63.10 277.40,61.70 C278.28,60.30 279.22,58.88 279.90,57.50 C280.58,56.12 281.13,54.65 281.50,53.40 C281.87,52.15 281.93,51.05 282.10,50.00 C282.27,48.95 282.43,47.58 282.50,47.10 Z" fill="#A0CEEC" stroke="none"/>
<line x1="243.50" y1="72.00" x2="243.50" y2="74.50" stroke="#222" stroke-width="0.5"/>
<line x1="243.50" y1="96.10" x2="243.50" y2="100.30" stroke="#222" stroke-width="0.5"/>
<rect x="240.55" y="74.50" width="5.90" height="21.60" fill="#fff" fill-opacity="0.7" stroke="#222" stroke-width="0.5"/>
<line x1="240.55" y1="83.30" x2="246.45" y2="83.30" stroke="#111" stroke-width="0.8"/>
<circle cx="245.62" cy="71.00" r="1.05" fill="#E74C3C" fill-opacity="0.8"/>
<circle cx="244.46" cy="72.00" r="1.05" fill="#E74C3C" fill-opacity="0.8"/>
<circle cx="245.31" cy="73.00" r="1.05" fill="#E74C3C" fill-opacity="0.8"/>
<circle cx="245.62" cy="76.00" r="1.05" fill="#E74C3C" fill-opacity="0.8"/>
<circle cx="242.35" cy="79.00" r="1.05" fill="#E74C3C" fill-opacity="0.8"/>
<circle cx="243.79" cy="88.00" r="1.05" fill="#E74C3C" fill-opacity="0.8"/>
<circle cx="245.63" cy="93.00" r="1.05" fill="#E74C3C" fill-opacity="0.8"/>
<circle cx="245.13" cy="98.00" r="1.05" fill="#E74C3C" fill-opacity="0.8"/>
<circle cx="241.76" cy="100.30" r="1.05" fill="#E74C3C" fill-opacity="0.8"/>
<path d="M243.50,82.90 L245.70,85.10 L243.50,87.30 L241.30,85.10 Z" fill="#E8120C" stroke="#3a0a0a" stroke-width="0.45"/>
<line x1="282.50" y1="72.70" x2="282.50" y2="76.90" stroke="#222" stroke-width="0.5"/>
<line x1="282.50" y1="101.30" x2="282.50" y2="125.20" stroke="#222" stroke-width="0.5"/>
<rect x="279.35" y="76.90" width="6.30" height="24.40" fill="#fff" fill-opacity="0.7" stroke="#222" stroke-width="0.5"/>
<line x1="279.35" y1="86.00" x2="285.65" y2="86.00" stroke="#111" stroke-width="0.8"/>
<circle cx="280.68" cy="72.70" r="1.05" fill="#3498DB" fill-opacity="0.8"/>
<circle cx="282.22" cy="72.70" r="1.05" fill="#3498DB" fill-opacity="0.8"/>
<circle cx="280.45" cy="72.70" r="1.05" fill="#3498DB" fill-opacity="0.8"/>
<circle cx="281.26" cy="76.00" r="1.05" fill="#3498DB" fill-opacity="0.8"/>
<circle cx="280.45" cy="80.00" r="1.05" fill="#3498DB" fill-opacity="0.8"/>
<circle cx="283.31" cy="86.00" r="1.05" fill="#3498DB" fill-opacity="0.8"/>
<circle cx="283.86" cy="86.00" r="1.05" fill="#3498DB" fill-opacity="0.8"/>
<circle cx="284.41" cy="90.00" r="1.05" fill="#3498DB" fill-opacity="0.8"/>
<circle cx="280.84" cy="95.00" r="1.05" fill="#3498DB" fill-opacity="0.8"/>
<circle cx="283.54" cy="99.00" r="1.05" fill="#3498DB" fill-opacity="0.8"/>
<circle cx="283.27" cy="108.00" r="1.05" fill="#3498DB" fill-opacity="0.8"/>
<circle cx="280.79" cy="114.00" r="1.05" fill="#3498DB" fill-opacity="0.8"/>
<circle cx="284.34" cy="119.00" r="1.05" fill="#3498DB" fill-opacity="0.8"/>
<circle cx="284.74" cy="124.00" r="1.05" fill="#3498DB" fill-opacity="0.8"/>
<circle cx="281.15" cy="144.00" r="1.05" fill="#3498DB" fill-opacity="0.8"/>
<path d="M282.50,89.40 L284.70,91.60 L282.50,93.80 L280.30,91.60 Z" fill="#E8120C" stroke="#3a0a0a" stroke-width="0.45"/>
<rect x="220.8" y="41.3" width="84.20" height="134.00" fill="none" stroke="#BDBDBD" stroke-width="0.8"/>
<line x1="220.8" y1="41.3" x2="220.8" y2="175.3" stroke="#333" stroke-width="0.8"/>
<line x1="220.4" y1="175.3" x2="305.4" y2="175.3" stroke="#333" stroke-width="0.8"/>
<rect x="220.8" y="33.8" width="84.20" height="7.50" fill="#E4E4E4" stroke="#555" stroke-width="0.6"/>
<line x1="220.8" y1="41.3" x2="305.0" y2="41.3" stroke="#333" stroke-width="0.8"/>
<text x="262.90" y="39.03" font-size="4.1" font-weight="bold" text-anchor="middle" fill="#1a1a1a" stroke="#1a1a1a" stroke-width="0.2" font-family="Liberation Sans, sans-serif" >F1</text>
<text x="262.90" y="46.35" font-size="4.3" font-weight="bold" text-anchor="middle" fill="#1a1a1a" stroke="#1a1a1a" stroke-width="0.2" font-family="Liberation Sans, sans-serif" >p = 0.42</text>
<line x1="219.20000000000002" y1="65.80" x2="220.8" y2="65.80" stroke="#333" stroke-width="0.5"/>
<text x="218.60" y="67.30" font-size="3.6" font-weight="normal" text-anchor="end" fill="#333" stroke="#333" stroke-width="0.11" font-family="Liberation Sans, sans-serif" >100%</text>
<line x1="219.20000000000002" y1="92.80" x2="220.8" y2="92.80" stroke="#333" stroke-width="0.5"/>
<text x="218.60" y="94.30" font-size="3.6" font-weight="normal" text-anchor="end" fill="#333" stroke="#333" stroke-width="0.11" font-family="Liberation Sans, sans-serif" >80%</text>
<line x1="219.20000000000002" y1="119.70" x2="220.8" y2="119.70" stroke="#333" stroke-width="0.5"/>
<text x="218.60" y="121.20" font-size="3.6" font-weight="normal" text-anchor="end" fill="#333" stroke="#333" stroke-width="0.11" font-family="Liberation Sans, sans-serif" >60%</text>
<line x1="219.20000000000002" y1="146.90" x2="220.8" y2="146.90" stroke="#333" stroke-width="0.5"/>
<text x="218.60" y="148.40" font-size="3.6" font-weight="normal" text-anchor="end" fill="#333" stroke="#333" stroke-width="0.11" font-family="Liberation Sans, sans-serif" >40%</text>
<line x1="219.20000000000002" y1="173.80" x2="220.8" y2="173.80" stroke="#333" stroke-width="0.5"/>
<text x="218.60" y="175.30" font-size="3.6" font-weight="normal" text-anchor="end" fill="#333" stroke="#333" stroke-width="0.11" font-family="Liberation Sans, sans-serif" >20%</text>
<line x1="243.50" y1="175.3" x2="243.50" y2="176.9" stroke="#333" stroke-width="0.5"/>
<text x="243.50" y="180.65" font-size="3.75" font-weight="normal" text-anchor="middle" fill="#333" stroke="#333" stroke-width="0.11" font-family="Liberation Sans, sans-serif" >Single</text>
<line x1="282.50" y1="175.3" x2="282.50" y2="176.9" stroke="#333" stroke-width="0.5"/>
<text x="282.50" y="180.65" font-size="3.75" font-weight="normal" text-anchor="middle" fill="#333" stroke="#333" stroke-width="0.11" font-family="Liberation Sans, sans-serif" >Multi-Domain</text>
<line x1="377.2" y1="29.60" x2="468.8" y2="29.60" stroke="#EDEDED" stroke-width="0.5"/>
<line x1="377.2" y1="65.40" x2="468.8" y2="65.40" stroke="#EDEDED" stroke-width="0.5"/>
<line x1="377.2" y1="102.30" x2="468.8" y2="102.30" stroke="#EDEDED" stroke-width="0.5"/>
<line x1="377.2" y1="138.50" x2="468.8" y2="138.50" stroke="#EDEDED" stroke-width="0.5"/>
<line x1="377.2" y1="175.00" x2="468.8" y2="175.00" stroke="#EDEDED" stroke-width="0.5"/>
<path d="M402.30,33.00 C402.38,33.50 402.63,34.83 402.80,36.00 C402.97,37.17 402.93,38.50 403.30,40.00 C403.67,41.50 404.33,43.33 405.00,45.00 C405.67,46.67 406.63,48.33 407.30,50.00 C407.97,51.67 408.35,53.33 409.00,55.00 C409.65,56.67 410.68,58.80 411.20,60.00 C411.72,61.20 411.77,61.13 412.10,62.20 C412.43,63.27 412.90,65.02 413.20,66.40 C413.50,67.78 413.65,69.12 413.90,70.50 C414.15,71.88 414.52,73.30 414.70,74.70 C414.88,76.10 414.95,77.50 415.00,78.90 C415.05,80.30 415.05,81.72 415.00,83.10 C414.95,84.48 414.80,85.82 414.70,87.20 C414.60,88.58 414.58,90.00 414.40,91.40 C414.22,92.80 413.88,94.30 413.60,95.60 C413.32,96.90 413.02,97.90 412.70,99.20 C412.38,100.50 412.10,102.02 411.70,103.40 C411.30,104.78 410.75,106.12 410.30,107.50 C409.85,108.88 409.43,110.30 409.00,111.70 C408.57,113.10 408.10,114.50 407.70,115.90 C407.30,117.30 406.90,118.72 406.60,120.10 C406.30,121.48 406.12,122.82 405.90,124.20 C405.68,125.58 405.48,127.00 405.30,128.40 C405.12,129.80 405.03,130.77 404.80,132.60 C404.57,134.43 404.13,137.07 403.90,139.40 C403.67,141.73 403.55,144.20 403.40,146.60 C403.25,149.00 403.12,151.57 403.00,153.80 C402.88,156.03 402.82,157.85 402.70,160.00 C402.58,162.15 402.37,165.58 402.30,166.70 L402.30,166.70 C402.23,165.58 402.02,162.15 401.90,160.00 C401.78,157.85 401.72,156.03 401.60,153.80 C401.48,151.57 401.35,149.00 401.20,146.60 C401.05,144.20 400.93,141.73 400.70,139.40 C400.47,137.07 400.03,134.43 399.80,132.60 C399.57,130.77 399.48,129.80 399.30,128.40 C399.12,127.00 398.92,125.58 398.70,124.20 C398.48,122.82 398.30,121.48 398.00,120.10 C397.70,118.72 397.30,117.30 396.90,115.90 C396.50,114.50 396.03,113.10 395.60,111.70 C395.17,110.30 394.75,108.88 394.30,107.50 C393.85,106.12 393.30,104.78 392.90,103.40 C392.50,102.02 392.22,100.50 391.90,99.20 C391.58,97.90 391.28,96.90 391.00,95.60 C390.72,94.30 390.38,92.80 390.20,91.40 C390.02,90.00 390.00,88.58 389.90,87.20 C389.80,85.82 389.65,84.48 389.60,83.10 C389.55,81.72 389.55,80.30 389.60,78.90 C389.65,77.50 389.72,76.10 389.90,74.70 C390.08,73.30 390.45,71.88 390.70,70.50 C390.95,69.12 391.10,67.78 391.40,66.40 C391.70,65.02 392.17,63.27 392.50,62.20 C392.83,61.13 392.88,61.20 393.40,60.00 C393.92,58.80 394.95,56.67 395.60,55.00 C396.25,53.33 396.63,51.67 397.30,50.00 C397.97,48.33 398.93,46.67 399.60,45.00 C400.27,43.33 400.93,41.50 401.30,40.00 C401.67,38.50 401.63,37.17 401.80,36.00 C401.97,34.83 402.22,33.50 402.30,33.00 Z" fill="#EC9E9A" stroke="none"/>
<path d="M444.05,37.60 C444.13,38.00 444.33,39.03 444.55,40.00 C444.77,40.97 444.85,42.15 445.35,43.40 C445.85,44.65 446.53,46.12 447.55,47.50 C448.57,48.88 450.03,50.30 451.45,51.70 C452.87,53.10 454.67,54.50 456.05,55.90 C457.43,57.30 458.77,58.72 459.75,60.10 C460.73,61.48 461.55,62.82 461.95,64.20 C462.35,65.58 462.43,67.07 462.15,68.40 C461.87,69.73 461.00,70.90 460.25,72.20 C459.50,73.50 458.48,74.83 457.65,76.20 C456.82,77.57 455.87,79.02 455.25,80.40 C454.63,81.78 454.20,83.12 453.95,84.50 C453.70,85.88 453.83,87.30 453.75,88.70 C453.67,90.10 453.55,91.50 453.45,92.90 C453.35,94.30 453.27,95.72 453.15,97.10 C453.03,98.48 452.95,99.85 452.75,101.20 C452.55,102.55 452.28,103.83 451.95,105.20 C451.62,106.57 451.20,108.03 450.75,109.40 C450.30,110.77 449.72,112.05 449.25,113.40 C448.78,114.75 448.38,116.12 447.95,117.50 C447.52,118.88 447.03,120.30 446.65,121.70 C446.27,123.10 445.93,124.50 445.65,125.90 C445.37,127.30 445.12,128.72 444.95,130.10 C444.78,131.48 444.80,132.30 444.65,134.20 C444.50,136.10 444.15,140.28 444.05,141.50 L444.05,141.50 C443.95,140.28 443.60,136.10 443.45,134.20 C443.30,132.30 443.32,131.48 443.15,130.10 C442.98,128.72 442.73,127.30 442.45,125.90 C442.17,124.50 441.83,123.10 441.45,121.70 C441.07,120.30 440.58,118.88 440.15,117.50 C439.72,116.12 439.32,114.75 438.85,113.40 C438.38,112.05 437.80,110.77 437.35,109.40 C436.90,108.03 436.48,106.57 436.15,105.20 C435.82,103.83 435.55,102.55 435.35,101.20 C435.15,99.85 435.07,98.48 434.95,97.10 C434.83,95.72 434.75,94.30 434.65,92.90 C434.55,91.50 434.43,90.10 434.35,88.70 C434.27,87.30 434.40,85.88 434.15,84.50 C433.90,83.12 433.47,81.78 432.85,80.40 C432.23,79.02 431.28,77.57 430.45,76.20 C429.62,74.83 428.60,73.50 427.85,72.20 C427.10,70.90 426.23,69.73 425.95,68.40 C425.67,67.07 425.75,65.58 426.15,64.20 C426.55,62.82 427.37,61.48 428.35,60.10 C429.33,58.72 430.67,57.30 432.05,55.90 C433.43,54.50 435.23,53.10 436.65,51.70 C438.07,50.30 439.53,48.88 440.55,47.50 C441.57,46.12 442.25,44.65 442.75,43.40 C443.25,42.15 443.33,40.97 443.55,40.00 C443.77,39.03 443.97,38.00 444.05,37.60 Z" fill="#ABDFA9" stroke="none"/>
<line x1="402.30" y1="56.30" x2="402.30" y2="74.20" stroke="#222" stroke-width="0.5"/>
<line x1="402.30" y1="103.10" x2="402.30" y2="146.60" stroke="#222" stroke-width="0.5"/>
<rect x="399.00" y="74.20" width="6.60" height="28.90" fill="#fff" fill-opacity="0.7" stroke="#222" stroke-width="0.5"/>
<line x1="399.00" y1="83.10" x2="405.60" y2="83.10" stroke="#111" stroke-width="0.8"/>
<circle cx="404.47" cy="56.30" r="1.05" fill="#E74C3C" fill-opacity="0.8"/>
<circle cx="401.81" cy="56.30" r="1.05" fill="#E74C3C" fill-opacity="0.8"/>
<circle cx="402.24" cy="56.30" r="1.05" fill="#E74C3C" fill-opacity="0.8"/>
<circle cx="404.65" cy="56.30" r="1.05" fill="#E74C3C" fill-opacity="0.8"/>
<circle cx="403.90" cy="61.70" r="1.05" fill="#E74C3C" fill-opacity="0.8"/>
<circle cx="400.68" cy="61.70" r="1.05" fill="#E74C3C" fill-opacity="0.8"/>
<circle cx="401.97" cy="61.70" r="1.05" fill="#E74C3C" fill-opacity="0.8"/>
<circle cx="402.37" cy="61.70" r="1.05" fill="#E74C3C" fill-opacity="0.8"/>
<circle cx="401.53" cy="61.70" r="1.05" fill="#E74C3C" fill-opacity="0.8"/>
<circle cx="400.84" cy="61.70" r="1.05" fill="#E74C3C" fill-opacity="0.8"/>
<circle cx="401.43" cy="71.10" r="1.05" fill="#E74C3C" fill-opacity="0.8"/>
<circle cx="403.37" cy="71.10" r="1.05" fill="#E74C3C" fill-opacity="0.8"/>
<circle cx="399.99" cy="71.10" r="1.05" fill="#E74C3C" fill-opacity="0.8"/>
<circle cx="402.56" cy="71.10" r="1.05" fill="#E74C3C" fill-opacity="0.8"/>
<circle cx="402.01" cy="75.00" r="1.05" fill="#E74C3C" fill-opacity="0.8"/>
<circle cx="399.99" cy="76.00" r="1.05" fill="#E74C3C" fill-opacity="0.8"/>
<circle cx="401.49" cy="77.00" r="1.05" fill="#E74C3C" fill-opacity="0.8"/>
<circle cx="402.89" cy="78.00" r="1.05" fill="#E74C3C" fill-opacity="0.8"/>
<circle cx="402.36" cy="79.00" r="1.05" fill="#E74C3C" fill-opacity="0.8"/>
<circle cx="400.21" cy="80.00" r="1.05" fill="#E74C3C" fill-opacity="0.8"/>
<circle cx="404.63" cy="81.00" r="1.05" fill="#E74C3C" fill-opacity="0.8"/>
<circle cx="403.68" cy="82.00" r="1.05" fill="#E74C3C" fill-opacity="0.8"/>
<circle cx="404.56" cy="83.00" r="1.05" fill="#E74C3C" fill-opacity="0.8"/>
<circle cx="400.40" cy="84.00" r="1.05" fill="#E74C3C" fill-opacity="0.8"/>
<circle cx="401.17" cy="85.00" r="1.05" fill="#E74C3C" fill-opacity="0.8"/>
<circle cx="400.09" cy="86.00" r="1.05" fill="#E74C3C" fill-opacity="0.8"/>
<circle cx="403.64" cy="87.00" r="1.05" fill="#E74C3C" fill-opacity="0.8"/>
<circle cx="401.20" cy="88.00" r="1.05" fill="#E74C3C" fill-opacity="0.8"/>
<circle cx="400.52" cy="89.00" r="1.05" fill="#E74C3C" fill-opacity="0.8"/>
<circle cx="401.93" cy="90.00" r="1.05" fill="#E74C3C" fill-opacity="0.8"/>
<circle cx="404.27" cy="91.00" r="1.05" fill="#E74C3C" fill-opacity="0.8"/>
<circle cx="403.83" cy="92.00" r="1.05" fill="#E74C3C" fill-opacity="0.8"/>
<circle cx="401.14" cy="93.00" r="1.05" fill="#E74C3C" fill-opacity="0.8"/>
<circle cx="400.62" cy="94.00" r="1.05" fill="#E74C3C" fill-opacity="0.8"/>
<circle cx="404.31" cy="95.00" r="1.05" fill="#E74C3C" fill-opacity="0.8"/>
<circle cx="402.64" cy="96.00" r="1.05" fill="#E74C3C" fill-opacity="0.8"/>
<circle cx="403.26" cy="97.00" r="1.05" fill="#E74C3C" fill-opacity="0.8"/>
<circle cx="400.33" cy="98.00" r="1.05" fill="#E74C3C" fill-opacity="0.8"/>
<circle cx="400.18" cy="99.00" r="1.05" fill="#E74C3C" fill-opacity="0.8"/>
<circle cx="403.20" cy="100.00" r="1.05" fill="#E74C3C" fill-opacity="0.8"/>
<circle cx="401.94" cy="101.00" r="1.05" fill="#E74C3C" fill-opacity="0.8"/>
<circle cx="400.25" cy="102.00" r="1.05" fill="#E74C3C" fill-opacity="0.8"/>
<circle cx="404.40" cy="103.00" r="1.05" fill="#E74C3C" fill-opacity="0.8"/>
<circle cx="402.95" cy="104.00" r="1.05" fill="#E74C3C" fill-opacity="0.8"/>
<circle cx="403.75" cy="106.00" r="1.05" fill="#E74C3C" fill-opacity="0.8"/>
<circle cx="400.30" cy="108.00" r="1.05" fill="#E74C3C" fill-opacity="0.8"/>
<circle cx="404.01" cy="110.00" r="1.05" fill="#E74C3C" fill-opacity="0.8"/>
<circle cx="400.22" cy="112.00" r="1.05" fill="#E74C3C" fill-opacity="0.8"/>
<circle cx="404.04" cy="114.00" r="1.05" fill="#E74C3C" fill-opacity="0.8"/>
<circle cx="402.08" cy="116.00" r="1.05" fill="#E74C3C" fill-opacity="0.8"/>
<circle cx="401.53" cy="118.00" r="1.05" fill="#E74C3C" fill-opacity="0.8"/>
<circle cx="402.55" cy="120.00" r="1.05" fill="#E74C3C" fill-opacity="0.8"/>
<circle cx="404.35" cy="122.00" r="1.05" fill="#E74C3C" fill-opacity="0.8"/>
<circle cx="401.19" cy="124.00" r="1.05" fill="#E74C3C" fill-opacity="0.8"/>
<circle cx="400.52" cy="126.00" r="1.05" fill="#E74C3C" fill-opacity="0.8"/>
<circle cx="402.43" cy="128.00" r="1.05" fill="#E74C3C" fill-opacity="0.8"/>
<circle cx="401.04" cy="130.00" r="1.05" fill="#E74C3C" fill-opacity="0.8"/>
<circle cx="400.43" cy="133.00" r="1.05" fill="#E74C3C" fill-opacity="0.8"/>
<circle cx="400.67" cy="136.00" r="1.05" fill="#E74C3C" fill-opacity="0.8"/>
<circle cx="400.14" cy="140.00" r="1.05" fill="#E74C3C" fill-opacity="0.8"/>
<circle cx="400.87" cy="146.00" r="1.05" fill="#E74C3C" fill-opacity="0.8"/>
<path d="M402.30,86.30 L404.50,88.50 L402.30,90.70 L400.10,88.50 Z" fill="#E8120C" stroke="#3a0a0a" stroke-width="0.45"/>
<line x1="444.05" y1="56.90" x2="444.05" y2="65.80" stroke="#222" stroke-width="0.5"/>
<line x1="444.05" y1="94.50" x2="444.05" y2="128.50" stroke="#222" stroke-width="0.5"/>
<rect x="440.65" y="65.80" width="6.80" height="28.70" fill="#fff" fill-opacity="0.7" stroke="#222" stroke-width="0.5"/>
<line x1="440.65" y1="76.20" x2="447.45" y2="76.20" stroke="#111" stroke-width="0.8"/>
<circle cx="443.15" cy="56.90" r="1.05" fill="#4DB04A" fill-opacity="0.8"/>
<circle cx="443.11" cy="56.90" r="1.05" fill="#4DB04A" fill-opacity="0.8"/>
<circle cx="445.30" cy="56.90" r="1.05" fill="#4DB04A" fill-opacity="0.8"/>
<circle cx="443.04" cy="63.10" r="1.05" fill="#4DB04A" fill-opacity="0.8"/>
<circle cx="444.05" cy="63.10" r="1.05" fill="#4DB04A" fill-opacity="0.8"/>
<circle cx="442.50" cy="63.10" r="1.05" fill="#4DB04A" fill-opacity="0.8"/>
<circle cx="443.32" cy="63.10" r="1.05" fill="#4DB04A" fill-opacity="0.8"/>
<circle cx="441.74" cy="63.10" r="1.05" fill="#4DB04A" fill-opacity="0.8"/>
<circle cx="442.85" cy="67.00" r="1.05" fill="#4DB04A" fill-opacity="0.8"/>
<circle cx="441.72" cy="68.00" r="1.05" fill="#4DB04A" fill-opacity="0.8"/>
<circle cx="445.17" cy="70.00" r="1.05" fill="#4DB04A" fill-opacity="0.8"/>
<circle cx="444.30" cy="71.00" r="1.05" fill="#4DB04A" fill-opacity="0.8"/>
<circle cx="442.56" cy="72.00" r="1.05" fill="#4DB04A" fill-opacity="0.8"/>
<circle cx="443.93" cy="73.00" r="1.05" fill="#4DB04A" fill-opacity="0.8"/>
<circle cx="446.14" cy="74.00" r="1.05" fill="#4DB04A" fill-opacity="0.8"/>
<circle cx="442.16" cy="75.00" r="1.05" fill="#4DB04A" fill-opacity="0.8"/>
<circle cx="445.58" cy="76.00" r="1.05" fill="#4DB04A" fill-opacity="0.8"/>
<circle cx="443.72" cy="77.00" r="1.05" fill="#4DB04A" fill-opacity="0.8"/>
<circle cx="444.03" cy="78.00" r="1.05" fill="#4DB04A" fill-opacity="0.8"/>
<circle cx="445.66" cy="79.00" r="1.05" fill="#4DB04A" fill-opacity="0.8"/>
<circle cx="443.54" cy="80.00" r="1.05" fill="#4DB04A" fill-opacity="0.8"/>
<circle cx="444.08" cy="82.00" r="1.05" fill="#4DB04A" fill-opacity="0.8"/>
<circle cx="444.95" cy="84.00" r="1.05" fill="#4DB04A" fill-opacity="0.8"/>
<circle cx="446.37" cy="86.00" r="1.05" fill="#4DB04A" fill-opacity="0.8"/>
<circle cx="443.29" cy="88.00" r="1.05" fill="#4DB04A" fill-opacity="0.8"/>
<circle cx="445.64" cy="90.00" r="1.05" fill="#4DB04A" fill-opacity="0.8"/>
<circle cx="445.04" cy="91.00" r="1.05" fill="#4DB04A" fill-opacity="0.8"/>
<circle cx="444.70" cy="92.00" r="1.05" fill="#4DB04A" fill-opacity="0.8"/>
<circle cx="443.59" cy="93.00" r="1.05" fill="#4DB04A" fill-opacity="0.8"/>
<circle cx="443.32" cy="95.00" r="1.05" fill="#4DB04A" fill-opacity="0.8"/>
<circle cx="441.91" cy="96.00" r="1.05" fill="#4DB04A" fill-opacity="0.8"/>
<circle cx="442.27" cy="97.00" r="1.05" fill="#4DB04A" fill-opacity="0.8"/>
<circle cx="441.99" cy="98.00" r="1.05" fill="#4DB04A" fill-opacity="0.8"/>
<circle cx="445.21" cy="99.00" r="1.05" fill="#4DB04A" fill-opacity="0.8"/>
<circle cx="442.88" cy="100.00" r="1.05" fill="#4DB04A" fill-opacity="0.8"/>
<circle cx="442.43" cy="101.00" r="1.05" fill="#4DB04A" fill-opacity="0.8"/>
<circle cx="442.06" cy="102.00" r="1.05" fill="#4DB04A" fill-opacity="0.8"/>
<circle cx="445.69" cy="103.00" r="1.05" fill="#4DB04A" fill-opacity="0.8"/>
<circle cx="445.83" cy="104.00" r="1.05" fill="#4DB04A" fill-opacity="0.8"/>
<circle cx="444.87" cy="105.00" r="1.05" fill="#4DB04A" fill-opacity="0.8"/>
<circle cx="443.00" cy="106.00" r="1.05" fill="#4DB04A" fill-opacity="0.8"/>
<circle cx="442.81" cy="107.00" r="1.05" fill="#4DB04A" fill-opacity="0.8"/>
<circle cx="443.06" cy="108.00" r="1.05" fill="#4DB04A" fill-opacity="0.8"/>
<circle cx="443.86" cy="109.00" r="1.05" fill="#4DB04A" fill-opacity="0.8"/>
<circle cx="442.41" cy="110.00" r="1.05" fill="#4DB04A" fill-opacity="0.8"/>
<circle cx="443.79" cy="112.00" r="1.05" fill="#4DB04A" fill-opacity="0.8"/>
<circle cx="442.91" cy="114.00" r="1.05" fill="#4DB04A" fill-opacity="0.8"/>
<circle cx="446.27" cy="116.00" r="1.05" fill="#4DB04A" fill-opacity="0.8"/>
<circle cx="446.32" cy="118.00" r="1.05" fill="#4DB04A" fill-opacity="0.8"/>
<circle cx="444.28" cy="122.00" r="1.05" fill="#4DB04A" fill-opacity="0.8"/>
<circle cx="442.82" cy="128.00" r="1.05" fill="#4DB04A" fill-opacity="0.8"/>
<path d="M444.05,79.00 L446.25,81.20 L444.05,83.40 L441.85,81.20 Z" fill="#E8120C" stroke="#3a0a0a" stroke-width="0.45"/>
<rect x="377.2" y="26.2" width="91.60" height="150.10" fill="none" stroke="#BDBDBD" stroke-width="0.8"/>
<line x1="377.2" y1="26.2" x2="377.2" y2="176.3" stroke="#333" stroke-width="0.8"/>
<line x1="376.8" y1="176.3" x2="469.2" y2="176.3" stroke="#333" stroke-width="0.8"/>
<rect x="377.2" y="18.3" width="91.60" height="7.90" fill="#E4E4E4" stroke="#555" stroke-width="0.6"/>
<line x1="377.2" y1="26.2" x2="468.8" y2="26.2" stroke="#333" stroke-width="0.8"/>
<text x="423.00" y="23.90" font-size="4.57" font-weight="bold" text-anchor="middle" fill="#1a1a1a" stroke="#1a1a1a" stroke-width="0.2" font-family="Liberation Sans, sans-serif" >Accuracy</text>
<text x="423.00" y="31.93" font-size="4.8" font-weight="bold" text-anchor="middle" fill="#1a1a1a" stroke="#1a1a1a" stroke-width="0.2" font-family="Liberation Sans, sans-serif" >p = 0.03</text>
<line x1="375.59999999999997" y1="29.60" x2="377.2" y2="29.60" stroke="#333" stroke-width="0.5"/>
<text x="375.00" y="31.22" font-size="3.95" font-weight="normal" text-anchor="end" fill="#333" stroke="#333" stroke-width="0.11" font-family="Liberation Sans, sans-serif" >110%</text>
<line x1="375.59999999999997" y1="65.40" x2="377.2" y2="65.40" stroke="#333" stroke-width="0.5"/>
<text x="375.00" y="67.02" font-size="3.95" font-weight="normal" text-anchor="end" fill="#333" stroke="#333" stroke-width="0.11" font-family="Liberation Sans, sans-serif" >90%</text>
<line x1="375.59999999999997" y1="102.30" x2="377.2" y2="102.30" stroke="#333" stroke-width="0.5"/>
<text x="375.00" y="103.92" font-size="3.95" font-weight="normal" text-anchor="end" fill="#333" stroke="#333" stroke-width="0.11" font-family="Liberation Sans, sans-serif" >70%</text>
<line x1="375.59999999999997" y1="138.50" x2="377.2" y2="138.50" stroke="#333" stroke-width="0.5"/>
<text x="375.00" y="140.12" font-size="3.95" font-weight="normal" text-anchor="end" fill="#333" stroke="#333" stroke-width="0.11" font-family="Liberation Sans, sans-serif" >50%</text>
<line x1="375.59999999999997" y1="175.00" x2="377.2" y2="175.00" stroke="#333" stroke-width="0.5"/>
<text x="375.00" y="176.62" font-size="3.95" font-weight="normal" text-anchor="end" fill="#333" stroke="#333" stroke-width="0.11" font-family="Liberation Sans, sans-serif" >30%</text>
<line x1="402.30" y1="176.3" x2="402.30" y2="177.9" stroke="#333" stroke-width="0.5"/>
<text x="402.30" y="181.74" font-size="4.0" font-weight="normal" text-anchor="middle" fill="#333" stroke="#333" stroke-width="0.11" font-family="Liberation Sans, sans-serif" >No</text>
<line x1="444.05" y1="176.3" x2="444.05" y2="177.9" stroke="#333" stroke-width="0.5"/>
<text x="444.05" y="181.74" font-size="4.0" font-weight="normal" text-anchor="middle" fill="#333" stroke="#333" stroke-width="0.11" font-family="Liberation Sans, sans-serif" >Yes</text>
<line x1="484.5" y1="48.50" x2="576.7" y2="48.50" stroke="#EDEDED" stroke-width="0.5"/>
<line x1="484.5" y1="82.10" x2="576.7" y2="82.10" stroke="#EDEDED" stroke-width="0.5"/>
<line x1="484.5" y1="115.70" x2="576.7" y2="115.70" stroke="#EDEDED" stroke-width="0.5"/>
<line x1="484.5" y1="148.80" x2="576.7" y2="148.80" stroke="#EDEDED" stroke-width="0.5"/>
<path d="M509.60,32.60 C509.67,33.00 509.82,34.03 510.00,35.00 C510.18,35.97 510.23,37.15 510.70,38.40 C511.17,39.65 511.82,41.12 512.80,42.50 C513.78,43.88 515.22,45.30 516.60,46.70 C517.98,48.10 519.77,49.50 521.10,50.90 C522.43,52.30 523.65,53.72 524.60,55.10 C525.55,56.48 526.33,57.82 526.80,59.20 C527.27,60.58 527.43,62.27 527.40,63.40 C527.37,64.53 527.02,65.03 526.60,66.00 C526.18,66.97 525.67,67.97 524.90,69.20 C524.13,70.43 523.00,72.02 522.00,73.40 C521.00,74.78 520.02,76.12 518.90,77.50 C517.78,78.88 516.35,80.30 515.30,81.70 C514.25,83.10 513.27,84.50 512.60,85.90 C511.93,87.30 511.47,88.72 511.30,90.10 C511.13,91.48 511.42,92.82 511.60,94.20 C511.78,95.58 512.18,97.35 512.40,98.40 C512.62,99.45 512.62,99.53 512.90,100.50 C513.18,101.47 513.80,102.88 514.10,104.20 C514.40,105.52 514.57,107.02 514.70,108.40 C514.83,109.78 514.90,111.12 514.90,112.50 C514.90,113.88 514.83,115.30 514.70,116.70 C514.57,118.10 514.37,119.50 514.10,120.90 C513.83,122.30 513.43,123.72 513.10,125.10 C512.77,126.48 512.33,127.82 512.10,129.20 C511.87,130.58 511.82,132.00 511.70,133.40 C511.58,134.80 511.43,135.93 511.40,137.60 C511.37,139.27 511.53,141.75 511.50,143.40 C511.47,145.05 511.33,146.12 511.20,147.50 C511.07,148.88 510.82,150.30 510.70,151.70 C510.58,153.10 510.58,154.50 510.50,155.90 C510.42,157.30 510.35,158.02 510.20,160.10 C510.05,162.18 509.70,167.02 509.60,168.40 L509.60,168.40 C509.50,167.02 509.15,162.18 509.00,160.10 C508.85,158.02 508.78,157.30 508.70,155.90 C508.62,154.50 508.62,153.10 508.50,151.70 C508.38,150.30 508.13,148.88 508.00,147.50 C507.87,146.12 507.73,145.05 507.70,143.40 C507.67,141.75 507.83,139.27 507.80,137.60 C507.77,135.93 507.62,134.80 507.50,133.40 C507.38,132.00 507.33,130.58 507.10,129.20 C506.87,127.82 506.43,126.48 506.10,125.10 C505.77,123.72 505.37,122.30 505.10,120.90 C504.83,119.50 504.63,118.10 504.50,116.70 C504.37,115.30 504.30,113.88 504.30,112.50 C504.30,111.12 504.37,109.78 504.50,108.40 C504.63,107.02 504.80,105.52 505.10,104.20 C505.40,102.88 506.02,101.47 506.30,100.50 C506.58,99.53 506.58,99.45 506.80,98.40 C507.02,97.35 507.42,95.58 507.60,94.20 C507.78,92.82 508.07,91.48 507.90,90.10 C507.73,88.72 507.27,87.30 506.60,85.90 C505.93,84.50 504.95,83.10 503.90,81.70 C502.85,80.30 501.42,78.88 500.30,77.50 C499.18,76.12 498.20,74.78 497.20,73.40 C496.20,72.02 495.07,70.43 494.30,69.20 C493.53,67.97 493.02,66.97 492.60,66.00 C492.18,65.03 491.83,64.53 491.80,63.40 C491.77,62.27 491.93,60.58 492.40,59.20 C492.87,57.82 493.65,56.48 494.60,55.10 C495.55,53.72 496.77,52.30 498.10,50.90 C499.43,49.50 501.22,48.10 502.60,46.70 C503.98,45.30 505.42,43.88 506.40,42.50 C507.38,41.12 508.03,39.65 508.50,38.40 C508.97,37.15 509.02,35.97 509.20,35.00 C509.38,34.03 509.53,33.00 509.60,32.60 Z" fill="#EC9E9A" stroke="none"/>
<path d="M551.50,34.10 C551.57,34.58 551.73,35.95 551.90,37.00 C552.07,38.05 552.13,39.15 552.50,40.40 C552.87,41.65 553.43,43.12 554.10,44.50 C554.77,45.88 555.80,47.30 556.50,48.70 C557.20,50.10 557.73,51.50 558.30,52.90 C558.87,54.30 559.53,55.72 559.90,57.10 C560.27,58.48 560.40,59.82 560.50,61.20 C560.60,62.58 560.45,64.27 560.50,65.40 C560.55,66.53 560.48,67.03 560.80,68.00 C561.12,68.97 561.57,69.97 562.40,71.20 C563.23,72.43 564.80,74.02 565.80,75.40 C566.80,76.78 567.75,78.12 568.40,79.50 C569.05,80.88 569.55,82.30 569.70,83.70 C569.85,85.10 569.72,86.50 569.30,87.90 C568.88,89.30 568.10,90.72 567.20,92.10 C566.30,93.48 565.02,94.82 563.90,96.20 C562.78,97.58 561.52,99.00 560.50,100.40 C559.48,101.80 558.70,103.30 557.80,104.60 C556.90,105.90 555.85,106.88 555.10,108.20 C554.35,109.52 553.77,110.82 553.30,112.50 C552.83,114.18 552.60,116.62 552.30,118.30 C552.00,119.98 551.63,121.88 551.50,122.60 L551.50,122.60 C551.37,121.88 551.00,119.98 550.70,118.30 C550.40,116.62 550.17,114.18 549.70,112.50 C549.23,110.82 548.65,109.52 547.90,108.20 C547.15,106.88 546.10,105.90 545.20,104.60 C544.30,103.30 543.52,101.80 542.50,100.40 C541.48,99.00 540.22,97.58 539.10,96.20 C537.98,94.82 536.70,93.48 535.80,92.10 C534.90,90.72 534.12,89.30 533.70,87.90 C533.28,86.50 533.15,85.10 533.30,83.70 C533.45,82.30 533.95,80.88 534.60,79.50 C535.25,78.12 536.20,76.78 537.20,75.40 C538.20,74.02 539.77,72.43 540.60,71.20 C541.43,69.97 541.88,68.97 542.20,68.00 C542.52,67.03 542.45,66.53 542.50,65.40 C542.55,64.27 542.40,62.58 542.50,61.20 C542.60,59.82 542.73,58.48 543.10,57.10 C543.47,55.72 544.13,54.30 544.70,52.90 C545.27,51.50 545.80,50.10 546.50,48.70 C547.20,47.30 548.23,45.88 548.90,44.50 C549.57,43.12 550.13,41.65 550.50,40.40 C550.87,39.15 550.93,38.05 551.10,37.00 C551.27,35.95 551.43,34.58 551.50,34.10 Z" fill="#ABDFA9" stroke="none"/>
<line x1="509.60" y1="56.60" x2="509.60" y2="60.30" stroke="#222" stroke-width="0.5"/>
<line x1="509.60" y1="82.20" x2="509.60" y2="107.80" stroke="#222" stroke-width="0.5"/>
<rect x="506.30" y="60.30" width="6.60" height="21.90" fill="#fff" fill-opacity="0.7" stroke="#222" stroke-width="0.5"/>
<line x1="506.30" y1="68.70" x2="512.90" y2="68.70" stroke="#111" stroke-width="0.8"/>
<circle cx="511.84" cy="56.60" r="1.05" fill="#E74C3C" fill-opacity="0.8"/>
<circle cx="508.69" cy="56.60" r="1.05" fill="#E74C3C" fill-opacity="0.8"/>
<circle cx="508.91" cy="56.60" r="1.05" fill="#E74C3C" fill-opacity="0.8"/>
<circle cx="507.21" cy="56.60" r="1.05" fill="#E74C3C" fill-opacity="0.8"/>
<circle cx="509.03" cy="60.00" r="1.05" fill="#E74C3C" fill-opacity="0.8"/>
<circle cx="509.48" cy="62.00" r="1.05" fill="#E74C3C" fill-opacity="0.8"/>
<circle cx="509.61" cy="66.00" r="1.05" fill="#E74C3C" fill-opacity="0.8"/>
<circle cx="508.16" cy="73.10" r="1.05" fill="#E74C3C" fill-opacity="0.8"/>
<circle cx="509.62" cy="73.10" r="1.05" fill="#E74C3C" fill-opacity="0.8"/>
<circle cx="507.22" cy="76.00" r="1.05" fill="#E74C3C" fill-opacity="0.8"/>
<circle cx="508.47" cy="108.50" r="1.05" fill="#E74C3C" fill-opacity="0.8"/>
<circle cx="507.63" cy="114.60" r="1.05" fill="#E74C3C" fill-opacity="0.8"/>
<circle cx="509.12" cy="122.00" r="1.05" fill="#E74C3C" fill-opacity="0.8"/>
<circle cx="507.40" cy="145.40" r="1.05" fill="#E74C3C" fill-opacity="0.8"/>
<path d="M509.60,75.90 L511.80,78.10 L509.60,80.30 L507.40,78.10 Z" fill="#E8120C" stroke="#3a0a0a" stroke-width="0.45"/>
<line x1="551.50" y1="54.80" x2="551.50" y2="72.00" stroke="#222" stroke-width="0.5"/>
<line x1="551.50" y1="91.90" x2="551.50" y2="101.30" stroke="#222" stroke-width="0.5"/>
<rect x="548.20" y="72.00" width="6.60" height="19.90" fill="#fff" fill-opacity="0.7" stroke="#222" stroke-width="0.5"/>
<line x1="548.20" y1="83.20" x2="554.80" y2="83.20" stroke="#111" stroke-width="0.8"/>
<circle cx="549.21" cy="54.80" r="1.05" fill="#4DB04A" fill-opacity="0.8"/>
<circle cx="550.56" cy="58.60" r="1.05" fill="#4DB04A" fill-opacity="0.8"/>
<circle cx="550.22" cy="58.60" r="1.05" fill="#4DB04A" fill-opacity="0.8"/>
<circle cx="551.91" cy="78.00" r="1.05" fill="#4DB04A" fill-opacity="0.8"/>
<circle cx="551.64" cy="84.00" r="1.05" fill="#4DB04A" fill-opacity="0.8"/>
<circle cx="552.70" cy="91.90" r="1.05" fill="#4DB04A" fill-opacity="0.8"/>
<circle cx="552.26" cy="101.30" r="1.05" fill="#4DB04A" fill-opacity="0.8"/>
<path d="M551.50,77.50 L553.70,79.70 L551.50,81.90 L549.30,79.70 Z" fill="#E8120C" stroke="#3a0a0a" stroke-width="0.45"/>
<rect x="484.5" y="26.2" width="92.20" height="150.10" fill="none" stroke="#BDBDBD" stroke-width="0.8"/>
<line x1="484.5" y1="26.2" x2="484.5" y2="176.3" stroke="#333" stroke-width="0.8"/>
<line x1="484.1" y1="176.3" x2="577.1" y2="176.3" stroke="#333" stroke-width="0.8"/>
<rect x="484.5" y="18.3" width="92.20" height="7.90" fill="#E4E4E4" stroke="#555" stroke-width="0.6"/>
<line x1="484.5" y1="26.2" x2="576.7" y2="26.2" stroke="#333" stroke-width="0.8"/>
<text x="530.60" y="23.90" font-size="4.57" font-weight="bold" text-anchor="middle" fill="#1a1a1a" stroke="#1a1a1a" stroke-width="0.2" font-family="Liberation Sans, sans-serif" >F1</text>
<text x="530.60" y="31.93" font-size="4.8" font-weight="bold" text-anchor="middle" fill="#1a1a1a" stroke="#1a1a1a" stroke-width="0.2" font-family="Liberation Sans, sans-serif" >p = 0.29</text>
<line x1="482.9" y1="48.50" x2="484.5" y2="48.50" stroke="#333" stroke-width="0.5"/>
<text x="482.30" y="50.12" font-size="3.95" font-weight="normal" text-anchor="end" fill="#333" stroke="#333" stroke-width="0.11" font-family="Liberation Sans, sans-serif" >100%</text>
<line x1="482.9" y1="82.10" x2="484.5" y2="82.10" stroke="#333" stroke-width="0.5"/>
<text x="482.30" y="83.72" font-size="3.95" font-weight="normal" text-anchor="end" fill="#333" stroke="#333" stroke-width="0.11" font-family="Liberation Sans, sans-serif" >80%</text>
<line x1="482.9" y1="115.70" x2="484.5" y2="115.70" stroke="#333" stroke-width="0.5"/>
<text x="482.30" y="117.32" font-size="3.95" font-weight="normal" text-anchor="end" fill="#333" stroke="#333" stroke-width="0.11" font-family="Liberation Sans, sans-serif" >60%</text>
<line x1="482.9" y1="148.80" x2="484.5" y2="148.80" stroke="#333" stroke-width="0.5"/>
<text x="482.30" y="150.42" font-size="3.95" font-weight="normal" text-anchor="end" fill="#333" stroke="#333" stroke-width="0.11" font-family="Liberation Sans, sans-serif" >40%</text>
<line x1="509.60" y1="176.3" x2="509.60" y2="177.9" stroke="#333" stroke-width="0.5"/>
<text x="509.60" y="181.74" font-size="4.0" font-weight="normal" text-anchor="middle" fill="#333" stroke="#333" stroke-width="0.11" font-family="Liberation Sans, sans-serif" >No</text>
<line x1="551.50" y1="176.3" x2="551.50" y2="177.9" stroke="#333" stroke-width="0.5"/>
<text x="551.50" y="181.74" font-size="4.0" font-weight="normal" text-anchor="middle" fill="#333" stroke="#333" stroke-width="0.11" font-family="Liberation Sans, sans-serif" >Yes</text>
<line x1="592.3" y1="31.20" x2="683.5" y2="31.20" stroke="#EDEDED" stroke-width="0.5"/>
<line x1="592.3" y1="66.00" x2="683.5" y2="66.00" stroke="#EDEDED" stroke-width="0.5"/>
<line x1="592.3" y1="100.20" x2="683.5" y2="100.20" stroke="#EDEDED" stroke-width="0.5"/>
<line x1="592.3" y1="134.80" x2="683.5" y2="134.80" stroke="#EDEDED" stroke-width="0.5"/>
<line x1="592.3" y1="169.30" x2="683.5" y2="169.30" stroke="#EDEDED" stroke-width="0.5"/>
<path d="M616.60,32.60 C616.67,33.00 616.82,34.03 617.00,35.00 C617.18,35.97 617.30,37.15 617.70,38.40 C618.10,39.65 618.65,41.12 619.40,42.50 C620.15,43.88 621.27,45.30 622.20,46.70 C623.13,48.10 624.18,49.50 625.00,50.90 C625.82,52.30 626.57,53.72 627.10,55.10 C627.63,56.48 627.97,57.82 628.20,59.20 C628.43,60.58 628.50,62.43 628.50,63.40 C628.50,64.37 628.48,64.03 628.20,65.00 C627.92,65.97 627.38,67.80 626.80,69.20 C626.22,70.60 625.45,72.02 624.70,73.40 C623.95,74.78 623.12,76.12 622.30,77.50 C621.48,78.88 620.47,80.30 619.80,81.70 C619.13,83.10 618.65,84.50 618.30,85.90 C617.95,87.30 617.80,88.72 617.70,90.10 C617.60,91.48 617.60,92.82 617.70,94.20 C617.80,95.58 618.13,97.35 618.30,98.40 C618.47,99.45 618.48,99.53 618.70,100.50 C618.92,101.47 619.33,102.88 619.60,104.20 C619.87,105.52 620.13,107.02 620.30,108.40 C620.47,109.78 620.60,111.12 620.60,112.50 C620.60,113.88 620.48,115.30 620.30,116.70 C620.12,118.10 619.77,119.50 619.50,120.90 C619.23,122.30 618.92,123.72 618.70,125.10 C618.48,126.48 618.33,127.82 618.20,129.20 C618.07,130.58 617.98,132.00 617.90,133.40 C617.82,134.80 617.77,135.67 617.70,137.60 C617.63,139.53 617.58,142.10 617.50,145.00 C617.42,147.90 617.35,151.33 617.20,155.00 C617.05,158.67 616.70,165.00 616.60,167.00 L616.60,167.00 C616.50,165.00 616.15,158.67 616.00,155.00 C615.85,151.33 615.78,147.90 615.70,145.00 C615.62,142.10 615.57,139.53 615.50,137.60 C615.43,135.67 615.38,134.80 615.30,133.40 C615.22,132.00 615.13,130.58 615.00,129.20 C614.87,127.82 614.72,126.48 614.50,125.10 C614.28,123.72 613.97,122.30 613.70,120.90 C613.43,119.50 613.08,118.10 612.90,116.70 C612.72,115.30 612.60,113.88 612.60,112.50 C612.60,111.12 612.73,109.78 612.90,108.40 C613.07,107.02 613.33,105.52 613.60,104.20 C613.87,102.88 614.28,101.47 614.50,100.50 C614.72,99.53 614.73,99.45 614.90,98.40 C615.07,97.35 615.40,95.58 615.50,94.20 C615.60,92.82 615.60,91.48 615.50,90.10 C615.40,88.72 615.25,87.30 614.90,85.90 C614.55,84.50 614.07,83.10 613.40,81.70 C612.73,80.30 611.72,78.88 610.90,77.50 C610.08,76.12 609.25,74.78 608.50,73.40 C607.75,72.02 606.98,70.60 606.40,69.20 C605.82,67.80 605.28,65.97 605.00,65.00 C604.72,64.03 604.70,64.37 604.70,63.40 C604.70,62.43 604.77,60.58 605.00,59.20 C605.23,57.82 605.57,56.48 606.10,55.10 C606.63,53.72 607.38,52.30 608.20,50.90 C609.02,49.50 610.07,48.10 611.00,46.70 C611.93,45.30 613.05,43.88 613.80,42.50 C614.55,41.12 615.10,39.65 615.50,38.40 C615.90,37.15 616.02,35.97 616.20,35.00 C616.38,34.03 616.53,33.00 616.60,32.60 Z" fill="#EC9E9A" stroke="none"/>
<path d="M658.60,38.60 C658.67,38.92 658.83,39.88 659.00,40.50 C659.17,41.12 659.23,41.32 659.60,42.30 C659.97,43.28 660.73,45.02 661.20,46.40 C661.67,47.78 662.18,49.55 662.40,50.60 C662.62,51.65 662.63,51.65 662.50,52.70 C662.37,53.75 662.03,55.50 661.60,56.90 C661.17,58.30 660.25,59.72 659.90,61.10 C659.55,62.48 659.30,63.82 659.50,65.20 C659.70,66.58 660.27,68.10 661.10,69.40 C661.93,70.70 663.30,71.87 664.50,73.00 C665.70,74.13 667.17,74.97 668.30,76.20 C669.43,77.43 670.30,79.02 671.30,80.40 C672.30,81.78 673.45,83.12 674.30,84.50 C675.15,85.88 675.95,87.30 676.40,88.70 C676.85,90.10 677.05,91.85 677.00,92.90 C676.95,93.95 676.68,94.30 676.10,95.00 C675.52,95.70 674.42,96.43 673.50,97.10 C672.58,97.77 671.58,98.32 670.60,99.00 C669.62,99.68 668.85,100.13 667.60,101.20 C666.35,102.27 664.33,104.00 663.10,105.40 C661.87,106.80 660.87,108.17 660.20,109.60 C659.53,111.03 659.37,112.77 659.10,114.00 C658.83,115.23 658.68,116.50 658.60,117.00 L658.60,117.00 C658.52,116.50 658.37,115.23 658.10,114.00 C657.83,112.77 657.67,111.03 657.00,109.60 C656.33,108.17 655.33,106.80 654.10,105.40 C652.87,104.00 650.85,102.27 649.60,101.20 C648.35,100.13 647.58,99.68 646.60,99.00 C645.62,98.32 644.62,97.77 643.70,97.10 C642.78,96.43 641.68,95.70 641.10,95.00 C640.52,94.30 640.25,93.95 640.20,92.90 C640.15,91.85 640.35,90.10 640.80,88.70 C641.25,87.30 642.05,85.88 642.90,84.50 C643.75,83.12 644.90,81.78 645.90,80.40 C646.90,79.02 647.77,77.43 648.90,76.20 C650.03,74.97 651.50,74.13 652.70,73.00 C653.90,71.87 655.27,70.70 656.10,69.40 C656.93,68.10 657.50,66.58 657.70,65.20 C657.90,63.82 657.65,62.48 657.30,61.10 C656.95,59.72 656.03,58.30 655.60,56.90 C655.17,55.50 654.83,53.75 654.70,52.70 C654.57,51.65 654.58,51.65 654.80,50.60 C655.02,49.55 655.53,47.78 656.00,46.40 C656.47,45.02 657.23,43.28 657.60,42.30 C657.97,41.32 658.03,41.12 658.20,40.50 C658.37,39.88 658.53,38.92 658.60,38.60 Z" fill="#ABDFA9" stroke="none"/>
<line x1="616.60" y1="56.90" x2="616.60" y2="61.30" stroke="#222" stroke-width="0.5"/>
<line x1="616.60" y1="82.80" x2="616.60" y2="110.40" stroke="#222" stroke-width="0.5"/>
<rect x="613.20" y="61.30" width="6.80" height="21.50" fill="#fff" fill-opacity="0.7" stroke="#222" stroke-width="0.5"/>
<line x1="613.20" y1="68.90" x2="620.00" y2="68.90" stroke="#111" stroke-width="0.8"/>
<circle cx="617.64" cy="56.90" r="1.05" fill="#E74C3C" fill-opacity="0.8"/>
<circle cx="618.42" cy="56.90" r="1.05" fill="#E74C3C" fill-opacity="0.8"/>
<circle cx="616.07" cy="56.90" r="1.05" fill="#E74C3C" fill-opacity="0.8"/>
<circle cx="615.77" cy="56.90" r="1.05" fill="#E74C3C" fill-opacity="0.8"/>
<circle cx="618.93" cy="62.00" r="1.05" fill="#E74C3C" fill-opacity="0.8"/>
<circle cx="614.92" cy="63.00" r="1.05" fill="#E74C3C" fill-opacity="0.8"/>
<circle cx="617.68" cy="66.00" r="1.05" fill="#E74C3C" fill-opacity="0.8"/>
<circle cx="617.29" cy="74.20" r="1.05" fill="#E74C3C" fill-opacity="0.8"/>
<circle cx="614.41" cy="74.20" r="1.05" fill="#E74C3C" fill-opacity="0.8"/>
<circle cx="618.21" cy="80.00" r="1.05" fill="#E74C3C" fill-opacity="0.8"/>
<circle cx="618.48" cy="108.50" r="1.05" fill="#E74C3C" fill-opacity="0.8"/>
<circle cx="617.21" cy="113.50" r="1.05" fill="#E74C3C" fill-opacity="0.8"/>
<circle cx="617.72" cy="117.00" r="1.05" fill="#E74C3C" fill-opacity="0.8"/>
<path d="M616.60,76.20 L618.80,78.40 L616.60,80.60 L614.40,78.40 Z" fill="#E8120C" stroke="#3a0a0a" stroke-width="0.45"/>
<line x1="658.60" y1="76.70" x2="658.60" y2="83.00" stroke="#222" stroke-width="0.5"/>
<line x1="658.60" y1="93.70" x2="658.60" y2="102.80" stroke="#222" stroke-width="0.5"/>
<rect x="655.20" y="83.00" width="6.80" height="10.70" fill="#fff" fill-opacity="0.7" stroke="#222" stroke-width="0.5"/>
<line x1="655.20" y1="91.00" x2="662.00" y2="91.00" stroke="#111" stroke-width="0.8"/>
<circle cx="660.10" cy="51.90" r="1.05" fill="#4DB04A" fill-opacity="0.8"/>
<circle cx="656.87" cy="76.70" r="1.05" fill="#4DB04A" fill-opacity="0.8"/>
<circle cx="658.71" cy="85.00" r="1.05" fill="#4DB04A" fill-opacity="0.8"/>
<circle cx="658.62" cy="91.00" r="1.05" fill="#4DB04A" fill-opacity="0.8"/>
<circle cx="660.21" cy="96.00" r="1.05" fill="#4DB04A" fill-opacity="0.8"/>
<circle cx="660.06" cy="102.80" r="1.05" fill="#4DB04A" fill-opacity="0.8"/>
<path d="M658.60,84.40 L660.80,86.60 L658.60,88.80 L656.40,86.60 Z" fill="#E8120C" stroke="#3a0a0a" stroke-width="0.45"/>
<rect x="592.3" y="26.2" width="91.20" height="150.10" fill="none" stroke="#BDBDBD" stroke-width="0.8"/>
<line x1="592.3" y1="26.2" x2="592.3" y2="176.3" stroke="#333" stroke-width="0.8"/>
<line x1="591.9" y1="176.3" x2="683.9" y2="176.3" stroke="#333" stroke-width="0.8"/>
<rect x="592.3" y="18.3" width="91.20" height="7.90" fill="#E4E4E4" stroke="#555" stroke-width="0.6"/>
<line x1="592.3" y1="26.2" x2="683.5" y2="26.2" stroke="#333" stroke-width="0.8"/>
<text x="637.90" y="23.90" font-size="4.57" font-weight="bold" text-anchor="middle" fill="#1a1a1a" stroke="#1a1a1a" stroke-width="0.2" font-family="Liberation Sans, sans-serif" >Precision</text>
<text x="637.90" y="31.93" font-size="4.8" font-weight="bold" text-anchor="middle" fill="#1a1a1a" stroke="#1a1a1a" stroke-width="0.2" font-family="Liberation Sans, sans-serif" >p = 0.10</text>
<line x1="590.6999999999999" y1="31.20" x2="592.3" y2="31.20" stroke="#333" stroke-width="0.5"/>
<text x="590.10" y="32.82" font-size="3.95" font-weight="normal" text-anchor="end" fill="#333" stroke="#333" stroke-width="0.11" font-family="Liberation Sans, sans-serif" >110%</text>
<line x1="590.6999999999999" y1="66.00" x2="592.3" y2="66.00" stroke="#333" stroke-width="0.5"/>
<text x="590.10" y="67.62" font-size="3.95" font-weight="normal" text-anchor="end" fill="#333" stroke="#333" stroke-width="0.11" font-family="Liberation Sans, sans-serif" >90%</text>
<line x1="590.6999999999999" y1="100.20" x2="592.3" y2="100.20" stroke="#333" stroke-width="0.5"/>
<text x="590.10" y="101.82" font-size="3.95" font-weight="normal" text-anchor="end" fill="#333" stroke="#333" stroke-width="0.11" font-family="Liberation Sans, sans-serif" >70%</text>
<line x1="590.6999999999999" y1="134.80" x2="592.3" y2="134.80" stroke="#333" stroke-width="0.5"/>
<text x="590.10" y="136.42" font-size="3.95" font-weight="normal" text-anchor="end" fill="#333" stroke="#333" stroke-width="0.11" font-family="Liberation Sans, sans-serif" >50%</text>
<line x1="590.6999999999999" y1="169.30" x2="592.3" y2="169.30" stroke="#333" stroke-width="0.5"/>
<text x="590.10" y="170.92" font-size="3.95" font-weight="normal" text-anchor="end" fill="#333" stroke="#333" stroke-width="0.11" font-family="Liberation Sans, sans-serif" >30%</text>
<line x1="616.60" y1="176.3" x2="616.60" y2="177.9" stroke="#333" stroke-width="0.5"/>
<text x="616.60" y="181.74" font-size="4.0" font-weight="normal" text-anchor="middle" fill="#333" stroke="#333" stroke-width="0.11" font-family="Liberation Sans, sans-serif" >No</text>
<line x1="658.60" y1="176.3" x2="658.60" y2="177.9" stroke="#333" stroke-width="0.5"/>
<text x="658.60" y="181.74" font-size="4.0" font-weight="normal" text-anchor="middle" fill="#333" stroke="#333" stroke-width="0.11" font-family="Liberation Sans, sans-serif" >Yes</text>
<line x1="33.2" y1="232.40" x2="159.5" y2="232.40" stroke="#EDEDED" stroke-width="0.5"/>
<line x1="33.2" y1="266.60" x2="159.5" y2="266.60" stroke="#EDEDED" stroke-width="0.5"/>
<line x1="33.2" y1="300.60" x2="159.5" y2="300.60" stroke="#EDEDED" stroke-width="0.5"/>
<line x1="33.2" y1="335.20" x2="159.5" y2="335.20" stroke="#EDEDED" stroke-width="0.5"/>
<line x1="33.2" y1="369.40" x2="159.5" y2="369.40" stroke="#EDEDED" stroke-width="0.5"/>
<path d="M57.20,264.10 C57.27,264.42 57.45,265.30 57.60,266.00 C57.75,266.70 57.77,267.23 58.10,268.30 C58.43,269.37 58.95,271.02 59.60,272.40 C60.25,273.78 61.43,275.20 62.00,276.60 C62.57,278.00 62.83,279.40 63.00,280.80 C63.17,282.20 62.68,283.60 63.00,285.00 C63.32,286.40 64.15,287.82 64.90,289.20 C65.65,290.58 66.77,291.92 67.50,293.30 C68.23,294.68 68.77,296.10 69.30,297.50 C69.83,298.90 70.43,300.62 70.70,301.70 C70.97,302.78 70.92,303.22 70.90,304.00 C70.88,304.78 71.03,305.32 70.60,306.40 C70.17,307.48 69.32,309.12 68.30,310.50 C67.28,311.88 65.65,313.30 64.50,314.70 C63.35,316.10 62.20,317.50 61.40,318.90 C60.60,320.30 60.12,321.72 59.70,323.10 C59.28,324.48 59.13,325.82 58.90,327.20 C58.67,328.58 58.58,329.83 58.30,331.40 C58.02,332.97 57.38,335.73 57.20,336.60 L57.20,336.60 C57.02,335.73 56.38,332.97 56.10,331.40 C55.82,329.83 55.73,328.58 55.50,327.20 C55.27,325.82 55.12,324.48 54.70,323.10 C54.28,321.72 53.80,320.30 53.00,318.90 C52.20,317.50 51.05,316.10 49.90,314.70 C48.75,313.30 47.12,311.88 46.10,310.50 C45.08,309.12 44.23,307.48 43.80,306.40 C43.37,305.32 43.52,304.78 43.50,304.00 C43.48,303.22 43.43,302.78 43.70,301.70 C43.97,300.62 44.57,298.90 45.10,297.50 C45.63,296.10 46.17,294.68 46.90,293.30 C47.63,291.92 48.75,290.58 49.50,289.20 C50.25,287.82 51.08,286.40 51.40,285.00 C51.72,283.60 51.23,282.20 51.40,280.80 C51.57,279.40 51.83,278.00 52.40,276.60 C52.97,275.20 54.15,273.78 54.80,272.40 C55.45,271.02 55.97,269.37 56.30,268.30 C56.63,267.23 56.65,266.70 56.80,266.00 C56.95,265.30 57.13,264.42 57.20,264.10 Z" fill="#EC9E9A" stroke="none"/>
<path d="M96.60,237.00 C96.67,237.50 96.87,239.12 97.00,240.00 C97.13,240.88 97.20,241.23 97.40,242.30 C97.60,243.37 97.90,245.02 98.20,246.40 C98.50,247.78 98.83,249.20 99.20,250.60 C99.57,252.00 100.08,253.40 100.40,254.80 C100.72,256.20 100.88,257.60 101.10,259.00 C101.32,260.40 101.57,261.82 101.70,263.20 C101.83,264.58 101.82,265.92 101.90,267.30 C101.98,268.68 102.08,270.10 102.20,271.50 C102.32,272.90 102.45,274.22 102.60,275.70 C102.75,277.18 102.97,278.93 103.10,280.40 C103.23,281.87 103.32,283.12 103.40,284.50 C103.48,285.88 103.57,287.30 103.60,288.70 C103.63,290.10 103.63,291.50 103.60,292.90 C103.57,294.30 103.48,295.72 103.40,297.10 C103.32,298.48 103.23,299.82 103.10,301.20 C102.97,302.58 102.83,304.00 102.60,305.40 C102.37,306.80 102.00,308.10 101.70,309.60 C101.40,311.10 101.08,312.92 100.80,314.40 C100.52,315.88 100.22,317.12 100.00,318.50 C99.78,319.88 99.70,321.30 99.50,322.70 C99.30,324.10 98.98,325.50 98.80,326.90 C98.62,328.30 98.50,329.72 98.40,331.10 C98.30,332.48 98.28,333.82 98.20,335.20 C98.12,336.58 97.98,338.00 97.90,339.40 C97.82,340.80 97.80,341.83 97.70,343.60 C97.60,345.37 97.42,347.93 97.30,350.00 C97.18,352.07 97.12,354.05 97.00,356.00 C96.88,357.95 96.67,360.75 96.60,361.70 L96.60,361.70 C96.53,360.75 96.32,357.95 96.20,356.00 C96.08,354.05 96.02,352.07 95.90,350.00 C95.78,347.93 95.60,345.37 95.50,343.60 C95.40,341.83 95.38,340.80 95.30,339.40 C95.22,338.00 95.08,336.58 95.00,335.20 C94.92,333.82 94.90,332.48 94.80,331.10 C94.70,329.72 94.58,328.30 94.40,326.90 C94.22,325.50 93.90,324.10 93.70,322.70 C93.50,321.30 93.42,319.88 93.20,318.50 C92.98,317.12 92.68,315.88 92.40,314.40 C92.12,312.92 91.80,311.10 91.50,309.60 C91.20,308.10 90.83,306.80 90.60,305.40 C90.37,304.00 90.23,302.58 90.10,301.20 C89.97,299.82 89.88,298.48 89.80,297.10 C89.72,295.72 89.63,294.30 89.60,292.90 C89.57,291.50 89.57,290.10 89.60,288.70 C89.63,287.30 89.72,285.88 89.80,284.50 C89.88,283.12 89.97,281.87 90.10,280.40 C90.23,278.93 90.45,277.18 90.60,275.70 C90.75,274.22 90.88,272.90 91.00,271.50 C91.12,270.10 91.22,268.68 91.30,267.30 C91.38,265.92 91.37,264.58 91.50,263.20 C91.63,261.82 91.88,260.40 92.10,259.00 C92.32,257.60 92.48,256.20 92.80,254.80 C93.12,253.40 93.63,252.00 94.00,250.60 C94.37,249.20 94.70,247.78 95.00,246.40 C95.30,245.02 95.60,243.37 95.80,242.30 C96.00,241.23 96.07,240.88 96.20,240.00 C96.33,239.12 96.53,237.50 96.60,237.00 Z" fill="#A0CEEC" stroke="none"/>
<path d="M136.40,247.60 C136.50,247.92 136.73,248.88 137.00,249.50 C137.27,250.12 137.32,250.32 138.00,251.30 C138.68,252.28 139.50,254.02 141.10,255.40 C142.70,256.78 145.68,258.20 147.60,259.60 C149.52,261.00 151.52,262.75 152.60,263.80 C153.68,264.85 154.02,265.20 154.10,265.90 C154.18,266.60 153.97,266.95 153.10,268.00 C152.23,269.05 149.85,270.82 148.90,272.20 C147.95,273.58 147.88,274.95 147.40,276.30 C146.92,277.65 146.58,278.93 146.00,280.30 C145.42,281.67 144.68,283.15 143.90,284.50 C143.12,285.85 141.83,287.07 141.30,288.40 C140.77,289.73 140.87,291.12 140.70,292.50 C140.53,293.88 140.57,295.30 140.30,296.70 C140.03,298.10 139.47,299.50 139.10,300.90 C138.73,302.30 138.38,303.72 138.10,305.10 C137.82,306.48 137.58,307.82 137.40,309.20 C137.22,310.58 137.17,311.83 137.00,313.40 C136.83,314.97 136.50,317.73 136.40,318.60 L136.40,318.60 C136.30,317.73 135.97,314.97 135.80,313.40 C135.63,311.83 135.58,310.58 135.40,309.20 C135.22,307.82 134.98,306.48 134.70,305.10 C134.42,303.72 134.07,302.30 133.70,300.90 C133.33,299.50 132.77,298.10 132.50,296.70 C132.23,295.30 132.27,293.88 132.10,292.50 C131.93,291.12 132.03,289.73 131.50,288.40 C130.97,287.07 129.68,285.85 128.90,284.50 C128.12,283.15 127.38,281.67 126.80,280.30 C126.22,278.93 125.88,277.65 125.40,276.30 C124.92,274.95 124.85,273.58 123.90,272.20 C122.95,270.82 120.57,269.05 119.70,268.00 C118.83,266.95 118.62,266.60 118.70,265.90 C118.78,265.20 119.12,264.85 120.20,263.80 C121.28,262.75 123.28,261.00 125.20,259.60 C127.12,258.20 130.10,256.78 131.70,255.40 C133.30,254.02 134.12,252.28 134.80,251.30 C135.48,250.32 135.53,250.12 135.80,249.50 C136.07,248.88 136.30,247.92 136.40,247.60 Z" fill="#A5EEBF" stroke="none"/>
<line x1="57.20" y1="279.20" x2="57.20" y2="294.40" stroke="#222" stroke-width="0.5"/>
<line x1="57.20" y1="306.10" x2="57.20" y2="325.20" stroke="#222" stroke-width="0.5"/>
<rect x="52.90" y="294.40" width="8.60" height="11.70" fill="#fff" fill-opacity="0.7" stroke="#222" stroke-width="0.5"/>
<line x1="52.90" y1="303.20" x2="61.50" y2="303.20" stroke="#111" stroke-width="0.8"/>
<circle cx="58.77" cy="279.20" r="1.05" fill="#E74C3C" fill-opacity="0.8"/>
<circle cx="57.60" cy="279.20" r="1.05" fill="#E74C3C" fill-opacity="0.8"/>
<circle cx="59.09" cy="283.40" r="1.05" fill="#E74C3C" fill-opacity="0.8"/>
<circle cx="58.08" cy="283.40" r="1.05" fill="#E74C3C" fill-opacity="0.8"/>
<circle cx="58.13" cy="295.00" r="1.05" fill="#E74C3C" fill-opacity="0.8"/>
<circle cx="55.90" cy="297.00" r="1.05" fill="#E74C3C" fill-opacity="0.8"/>
<circle cx="54.95" cy="299.00" r="1.05" fill="#E74C3C" fill-opacity="0.8"/>
<circle cx="55.44" cy="300.00" r="1.05" fill="#E74C3C" fill-opacity="0.8"/>
<circle cx="56.53" cy="302.00" r="1.05" fill="#E74C3C" fill-opacity="0.8"/>
<circle cx="55.30" cy="303.00" r="1.05" fill="#E74C3C" fill-opacity="0.8"/>
<circle cx="58.81" cy="305.00" r="1.05" fill="#E74C3C" fill-opacity="0.8"/>
<circle cx="57.48" cy="307.00" r="1.05" fill="#E74C3C" fill-opacity="0.8"/>
<circle cx="57.81" cy="310.00" r="1.05" fill="#E74C3C" fill-opacity="0.8"/>
<circle cx="57.81" cy="313.00" r="1.05" fill="#E74C3C" fill-opacity="0.8"/>
<circle cx="58.07" cy="316.00" r="1.05" fill="#E74C3C" fill-opacity="0.8"/>
<circle cx="57.15" cy="319.00" r="1.05" fill="#E74C3C" fill-opacity="0.8"/>
<circle cx="54.82" cy="325.20" r="1.05" fill="#E74C3C" fill-opacity="0.8"/>
<path d="M57.20,298.40 L59.40,300.60 L57.20,302.80 L55.00,300.60 Z" fill="#E8120C" stroke="#3a0a0a" stroke-width="0.45"/>
<line x1="96.60" y1="257.90" x2="96.60" y2="276.20" stroke="#222" stroke-width="0.5"/>
<line x1="96.60" y1="304.60" x2="96.60" y2="342.30" stroke="#222" stroke-width="0.5"/>
<rect x="92.25" y="276.20" width="8.70" height="28.40" fill="#fff" fill-opacity="0.7" stroke="#222" stroke-width="0.5"/>
<line x1="92.25" y1="292.50" x2="100.95" y2="292.50" stroke="#111" stroke-width="0.8"/>
<circle cx="97.69" cy="310.65" r="1.05" fill="#3498DB" fill-opacity="0.8"/>
<circle cx="96.75" cy="292.08" r="1.05" fill="#3498DB" fill-opacity="0.8"/>
<circle cx="94.69" cy="300.94" r="1.05" fill="#3498DB" fill-opacity="0.8"/>
<circle cx="95.51" cy="306.01" r="1.05" fill="#3498DB" fill-opacity="0.8"/>
<circle cx="95.57" cy="263.81" r="1.05" fill="#3498DB" fill-opacity="0.8"/>
<circle cx="95.30" cy="305.59" r="1.05" fill="#3498DB" fill-opacity="0.8"/>
<circle cx="98.69" cy="306.43" r="1.05" fill="#3498DB" fill-opacity="0.8"/>
<circle cx="96.08" cy="291.24" r="1.05" fill="#3498DB" fill-opacity="0.8"/>
<circle cx="97.41" cy="290.39" r="1.05" fill="#3498DB" fill-opacity="0.8"/>
<circle cx="97.11" cy="308.12" r="1.05" fill="#3498DB" fill-opacity="0.8"/>
<circle cx="94.74" cy="300.10" r="1.05" fill="#3498DB" fill-opacity="0.8"/>
<circle cx="95.52" cy="269.72" r="1.05" fill="#3498DB" fill-opacity="0.8"/>
<circle cx="95.74" cy="306.43" r="1.05" fill="#3498DB" fill-opacity="0.8"/>
<circle cx="94.45" cy="295.46" r="1.05" fill="#3498DB" fill-opacity="0.8"/>
<circle cx="95.58" cy="262.96" r="1.05" fill="#3498DB" fill-opacity="0.8"/>
<circle cx="97.45" cy="301.79" r="1.05" fill="#3498DB" fill-opacity="0.8"/>
<circle cx="95.68" cy="302.21" r="1.05" fill="#3498DB" fill-opacity="0.8"/>
<circle cx="96.44" cy="292.50" r="1.05" fill="#3498DB" fill-opacity="0.8"/>
<circle cx="94.92" cy="289.97" r="1.05" fill="#3498DB" fill-opacity="0.8"/>
<circle cx="95.28" cy="320.36" r="1.05" fill="#3498DB" fill-opacity="0.8"/>
<circle cx="98.52" cy="335.97" r="1.05" fill="#3498DB" fill-opacity="0.8"/>
<circle cx="96.42" cy="259.17" r="1.05" fill="#3498DB" fill-opacity="0.8"/>
<circle cx="98.66" cy="312.76" r="1.05" fill="#3498DB" fill-opacity="0.8"/>
<circle cx="95.58" cy="288.71" r="1.05" fill="#3498DB" fill-opacity="0.8"/>
<circle cx="98.56" cy="273.94" r="1.05" fill="#3498DB" fill-opacity="0.8"/>
<circle cx="96.96" cy="273.94" r="1.05" fill="#3498DB" fill-opacity="0.8"/>
<circle cx="96.71" cy="269.29" r="1.05" fill="#3498DB" fill-opacity="0.8"/>
<circle cx="94.98" cy="330.06" r="1.05" fill="#3498DB" fill-opacity="0.8"/>
<circle cx="96.64" cy="312.76" r="1.05" fill="#3498DB" fill-opacity="0.8"/>
<circle cx="97.49" cy="319.51" r="1.05" fill="#3498DB" fill-opacity="0.8"/>
<circle cx="98.35" cy="275.62" r="1.05" fill="#3498DB" fill-opacity="0.8"/>
<circle cx="94.51" cy="290.82" r="1.05" fill="#3498DB" fill-opacity="0.8"/>
<circle cx="96.56" cy="257.90" r="1.05" fill="#3498DB" fill-opacity="0.8"/>
<circle cx="95.73" cy="288.71" r="1.05" fill="#3498DB" fill-opacity="0.8"/>
<circle cx="95.91" cy="268.87" r="1.05" fill="#3498DB" fill-opacity="0.8"/>
<circle cx="98.10" cy="281.11" r="1.05" fill="#3498DB" fill-opacity="0.8"/>
<circle cx="97.70" cy="257.90" r="1.05" fill="#3498DB" fill-opacity="0.8"/>
<circle cx="94.93" cy="314.45" r="1.05" fill="#3498DB" fill-opacity="0.8"/>
<circle cx="97.54" cy="325.00" r="1.05" fill="#3498DB" fill-opacity="0.8"/>
<circle cx="95.68" cy="321.62" r="1.05" fill="#3498DB" fill-opacity="0.8"/>
<circle cx="96.13" cy="284.49" r="1.05" fill="#3498DB" fill-opacity="0.8"/>
<circle cx="96.99" cy="342.30" r="1.05" fill="#3498DB" fill-opacity="0.8"/>
<circle cx="96.28" cy="283.64" r="1.05" fill="#3498DB" fill-opacity="0.8"/>
<circle cx="94.61" cy="278.16" r="1.05" fill="#3498DB" fill-opacity="0.8"/>
<circle cx="98.07" cy="265.92" r="1.05" fill="#3498DB" fill-opacity="0.8"/>
<circle cx="98.52" cy="279.00" r="1.05" fill="#3498DB" fill-opacity="0.8"/>
<circle cx="95.57" cy="276.47" r="1.05" fill="#3498DB" fill-opacity="0.8"/>
<circle cx="95.24" cy="292.50" r="1.05" fill="#3498DB" fill-opacity="0.8"/>
<circle cx="98.61" cy="284.49" r="1.05" fill="#3498DB" fill-opacity="0.8"/>
<circle cx="97.97" cy="319.09" r="1.05" fill="#3498DB" fill-opacity="0.8"/>
<circle cx="98.42" cy="299.26" r="1.05" fill="#3498DB" fill-opacity="0.8"/>
<circle cx="96.82" cy="327.53" r="1.05" fill="#3498DB" fill-opacity="0.8"/>
<circle cx="94.62" cy="305.16" r="1.05" fill="#3498DB" fill-opacity="0.8"/>
<circle cx="96.38" cy="306.01" r="1.05" fill="#3498DB" fill-opacity="0.8"/>
<circle cx="97.24" cy="307.27" r="1.05" fill="#3498DB" fill-opacity="0.8"/>
<circle cx="94.62" cy="279.00" r="1.05" fill="#3498DB" fill-opacity="0.8"/>
<circle cx="94.96" cy="325.00" r="1.05" fill="#3498DB" fill-opacity="0.8"/>
<circle cx="95.91" cy="289.97" r="1.05" fill="#3498DB" fill-opacity="0.8"/>
<circle cx="97.65" cy="279.84" r="1.05" fill="#3498DB" fill-opacity="0.8"/>
<circle cx="95.54" cy="335.55" r="1.05" fill="#3498DB" fill-opacity="0.8"/>
<circle cx="95.72" cy="300.94" r="1.05" fill="#3498DB" fill-opacity="0.8"/>
<circle cx="96.14" cy="295.04" r="1.05" fill="#3498DB" fill-opacity="0.8"/>
<circle cx="95.11" cy="270.98" r="1.05" fill="#3498DB" fill-opacity="0.8"/>
<circle cx="98.39" cy="273.94" r="1.05" fill="#3498DB" fill-opacity="0.8"/>
<circle cx="95.37" cy="291.66" r="1.05" fill="#3498DB" fill-opacity="0.8"/>
<circle cx="98.78" cy="322.04" r="1.05" fill="#3498DB" fill-opacity="0.8"/>
<circle cx="95.01" cy="288.71" r="1.05" fill="#3498DB" fill-opacity="0.8"/>
<circle cx="94.80" cy="272.67" r="1.05" fill="#3498DB" fill-opacity="0.8"/>
<circle cx="94.80" cy="282.38" r="1.05" fill="#3498DB" fill-opacity="0.8"/>
<circle cx="95.54" cy="276.05" r="1.05" fill="#3498DB" fill-opacity="0.8"/>
<circle cx="98.30" cy="295.88" r="1.05" fill="#3498DB" fill-opacity="0.8"/>
<circle cx="96.22" cy="306.85" r="1.05" fill="#3498DB" fill-opacity="0.8"/>
<circle cx="96.71" cy="286.60" r="1.05" fill="#3498DB" fill-opacity="0.8"/>
<circle cx="95.89" cy="284.49" r="1.05" fill="#3498DB" fill-opacity="0.8"/>
<circle cx="95.62" cy="262.96" r="1.05" fill="#3498DB" fill-opacity="0.8"/>
<path d="M96.60,288.40 L98.80,290.60 L96.60,292.80 L94.40,290.60 Z" fill="#E8120C" stroke="#3a0a0a" stroke-width="0.45"/>
<line x1="136.40" y1="258.60" x2="136.40" y2="266.40" stroke="#222" stroke-width="0.5"/>
<line x1="136.40" y1="279.50" x2="136.40" y2="297.20" stroke="#222" stroke-width="0.5"/>
<rect x="132.05" y="266.40" width="8.70" height="13.10" fill="#fff" fill-opacity="0.7" stroke="#222" stroke-width="0.5"/>
<line x1="132.05" y1="271.60" x2="140.75" y2="271.60" stroke="#111" stroke-width="0.8"/>
<circle cx="134.75" cy="294.11" r="1.05" fill="#2ECC71" fill-opacity="0.8"/>
<circle cx="136.97" cy="271.72" r="1.05" fill="#2ECC71" fill-opacity="0.8"/>
<circle cx="135.15" cy="285.81" r="1.05" fill="#2ECC71" fill-opacity="0.8"/>
<circle cx="135.29" cy="265.93" r="1.05" fill="#2ECC71" fill-opacity="0.8"/>
<circle cx="136.16" cy="269.02" r="1.05" fill="#2ECC71" fill-opacity="0.8"/>
<circle cx="137.93" cy="292.95" r="1.05" fill="#2ECC71" fill-opacity="0.8"/>
<circle cx="134.30" cy="286.39" r="1.05" fill="#2ECC71" fill-opacity="0.8"/>
<circle cx="137.32" cy="259.76" r="1.05" fill="#2ECC71" fill-opacity="0.8"/>
<circle cx="136.28" cy="287.94" r="1.05" fill="#2ECC71" fill-opacity="0.8"/>
<circle cx="134.20" cy="274.43" r="1.05" fill="#2ECC71" fill-opacity="0.8"/>
<circle cx="138.28" cy="268.83" r="1.05" fill="#2ECC71" fill-opacity="0.8"/>
<circle cx="137.96" cy="283.88" r="1.05" fill="#2ECC71" fill-opacity="0.8"/>
<circle cx="135.29" cy="294.50" r="1.05" fill="#2ECC71" fill-opacity="0.8"/>
<circle cx="134.88" cy="262.07" r="1.05" fill="#2ECC71" fill-opacity="0.8"/>
<circle cx="137.20" cy="272.30" r="1.05" fill="#2ECC71" fill-opacity="0.8"/>
<circle cx="137.38" cy="291.80" r="1.05" fill="#2ECC71" fill-opacity="0.8"/>
<circle cx="137.57" cy="276.55" r="1.05" fill="#2ECC71" fill-opacity="0.8"/>
<circle cx="136.63" cy="270.37" r="1.05" fill="#2ECC71" fill-opacity="0.8"/>
<circle cx="137.64" cy="259.95" r="1.05" fill="#2ECC71" fill-opacity="0.8"/>
<circle cx="138.25" cy="265.16" r="1.05" fill="#2ECC71" fill-opacity="0.8"/>
<circle cx="135.54" cy="276.36" r="1.05" fill="#2ECC71" fill-opacity="0.8"/>
<circle cx="135.31" cy="262.65" r="1.05" fill="#2ECC71" fill-opacity="0.8"/>
<circle cx="137.27" cy="276.16" r="1.05" fill="#2ECC71" fill-opacity="0.8"/>
<circle cx="134.51" cy="262.07" r="1.05" fill="#2ECC71" fill-opacity="0.8"/>
<circle cx="136.76" cy="272.30" r="1.05" fill="#2ECC71" fill-opacity="0.8"/>
<path d="M136.40,271.00 L138.60,273.20 L136.40,275.40 L134.20,273.20 Z" fill="#E8120C" stroke="#3a0a0a" stroke-width="0.45"/>
<rect x="33.2" y="229.4" width="126.30" height="141.50" fill="none" stroke="#BDBDBD" stroke-width="0.8"/>
<line x1="33.2" y1="229.4" x2="33.2" y2="370.9" stroke="#333" stroke-width="0.8"/>
<line x1="32.800000000000004" y1="370.9" x2="159.9" y2="370.9" stroke="#333" stroke-width="0.8"/>
<rect x="33.2" y="221.6" width="126.30" height="7.80" fill="#E4E4E4" stroke="#555" stroke-width="0.6"/>
<line x1="33.2" y1="229.4" x2="159.5" y2="229.4" stroke="#333" stroke-width="0.8"/>
<text x="96.35" y="227.93" font-size="4.8" font-weight="bold" text-anchor="middle" fill="#1a1a1a" stroke="#1a1a1a" stroke-width="0.2" font-family="Liberation Sans, sans-serif" >Accuracy</text>
<text x="76.50" y="235.08" font-size="4.4" font-weight="bold" text-anchor="middle" fill="#1a1a1a" stroke="#1a1a1a" stroke-width="0.2" font-family="Liberation Sans, sans-serif" >p = 0.01</text>
<text x="116.20" y="238.98" font-size="4.4" font-weight="bold" text-anchor="middle" fill="#1a1a1a" stroke="#1a1a1a" stroke-width="0.2" font-family="Liberation Sans, sans-serif" >p &lt; 0.001</text>
<line x1="31.6" y1="232.40" x2="33.2" y2="232.40" stroke="#333" stroke-width="0.5"/>
<text x="31.00" y="234.18" font-size="4.4" font-weight="normal" text-anchor="end" fill="#333" stroke="#333" stroke-width="0.11" font-family="Liberation Sans, sans-serif" >110%</text>
<line x1="31.6" y1="266.60" x2="33.2" y2="266.60" stroke="#333" stroke-width="0.5"/>
<text x="31.00" y="268.38" font-size="4.4" font-weight="normal" text-anchor="end" fill="#333" stroke="#333" stroke-width="0.11" font-family="Liberation Sans, sans-serif" >90%</text>
<line x1="31.6" y1="300.60" x2="33.2" y2="300.60" stroke="#333" stroke-width="0.5"/>
<text x="31.00" y="302.38" font-size="4.4" font-weight="normal" text-anchor="end" fill="#333" stroke="#333" stroke-width="0.11" font-family="Liberation Sans, sans-serif" >70%</text>
<line x1="31.6" y1="335.20" x2="33.2" y2="335.20" stroke="#333" stroke-width="0.5"/>
<text x="31.00" y="336.98" font-size="4.4" font-weight="normal" text-anchor="end" fill="#333" stroke="#333" stroke-width="0.11" font-family="Liberation Sans, sans-serif" >50%</text>
<line x1="31.6" y1="369.40" x2="33.2" y2="369.40" stroke="#333" stroke-width="0.5"/>
<text x="31.00" y="371.18" font-size="4.4" font-weight="normal" text-anchor="end" fill="#333" stroke="#333" stroke-width="0.11" font-family="Liberation Sans, sans-serif" >30%</text>
<line x1="57.20" y1="370.9" x2="57.20" y2="372.5" stroke="#333" stroke-width="0.5"/>
<text x="57.20" y="376.81" font-size="4.2" font-weight="normal" text-anchor="middle" fill="#333" stroke="#333" stroke-width="0.11" font-family="Liberation Sans, sans-serif" >1-3</text>
<line x1="96.60" y1="370.9" x2="96.60" y2="372.5" stroke="#333" stroke-width="0.5"/>
<text x="96.60" y="376.81" font-size="4.2" font-weight="normal" text-anchor="middle" fill="#333" stroke="#333" stroke-width="0.11" font-family="Liberation Sans, sans-serif" >4-8</text>
<line x1="136.40" y1="370.9" x2="136.40" y2="372.5" stroke="#333" stroke-width="0.5"/>
<text x="136.40" y="376.81" font-size="4.2" font-weight="normal" text-anchor="middle" fill="#333" stroke="#333" stroke-width="0.11" font-family="Liberation Sans, sans-serif" >9-20</text>
<line x1="177.5" y1="251.20" x2="303.8" y2="251.20" stroke="#EDEDED" stroke-width="0.5"/>
<line x1="177.5" y1="283.30" x2="303.8" y2="283.30" stroke="#EDEDED" stroke-width="0.5"/>
<line x1="177.5" y1="315.70" x2="303.8" y2="315.70" stroke="#EDEDED" stroke-width="0.5"/>
<line x1="177.5" y1="347.90" x2="303.8" y2="347.90" stroke="#EDEDED" stroke-width="0.5"/>
<path d="M200.70,241.60 C200.77,242.00 200.97,243.22 201.10,244.00 C201.23,244.78 201.33,245.23 201.50,246.30 C201.67,247.37 201.80,249.02 202.10,250.40 C202.40,251.78 202.80,253.20 203.30,254.60 C203.80,256.00 204.45,257.40 205.10,258.80 C205.75,260.20 206.53,261.60 207.20,263.00 C207.87,264.40 208.55,265.82 209.10,267.20 C209.65,268.58 210.15,269.92 210.50,271.30 C210.85,272.68 211.07,274.38 211.20,275.50 C211.33,276.62 211.40,277.22 211.30,278.00 C211.20,278.78 210.93,279.13 210.60,280.20 C210.27,281.27 209.77,283.02 209.30,284.40 C208.83,285.78 208.22,287.12 207.80,288.50 C207.38,289.88 207.10,291.30 206.80,292.70 C206.50,294.10 206.17,295.50 206.00,296.90 C205.83,298.30 205.93,299.72 205.80,301.10 C205.67,302.48 205.47,303.82 205.20,305.20 C204.93,306.58 204.53,308.00 204.20,309.40 C203.87,310.80 203.55,312.17 203.20,313.60 C202.85,315.03 202.40,316.43 202.10,318.00 C201.80,319.57 201.63,321.30 201.40,323.00 C201.17,324.70 200.82,327.33 200.70,328.20 L200.70,328.20 C200.58,327.33 200.23,324.70 200.00,323.00 C199.77,321.30 199.60,319.57 199.30,318.00 C199.00,316.43 198.55,315.03 198.20,313.60 C197.85,312.17 197.53,310.80 197.20,309.40 C196.87,308.00 196.47,306.58 196.20,305.20 C195.93,303.82 195.73,302.48 195.60,301.10 C195.47,299.72 195.57,298.30 195.40,296.90 C195.23,295.50 194.90,294.10 194.60,292.70 C194.30,291.30 194.02,289.88 193.60,288.50 C193.18,287.12 192.57,285.78 192.10,284.40 C191.63,283.02 191.13,281.27 190.80,280.20 C190.47,279.13 190.20,278.78 190.10,278.00 C190.00,277.22 190.07,276.62 190.20,275.50 C190.33,274.38 190.55,272.68 190.90,271.30 C191.25,269.92 191.75,268.58 192.30,267.20 C192.85,265.82 193.53,264.40 194.20,263.00 C194.87,261.60 195.65,260.20 196.30,258.80 C196.95,257.40 197.60,256.00 198.10,254.60 C198.60,253.20 199.00,251.78 199.30,250.40 C199.60,249.02 199.73,247.37 199.90,246.30 C200.07,245.23 200.17,244.78 200.30,244.00 C200.43,243.22 200.63,242.00 200.70,241.60 Z" fill="#EC9E9A" stroke="none"/>
<path d="M240.50,237.00 C240.55,237.50 240.70,239.12 240.80,240.00 C240.90,240.88 240.95,241.23 241.10,242.30 C241.25,243.37 241.48,245.02 241.70,246.40 C241.92,247.78 242.15,249.20 242.40,250.60 C242.65,252.00 242.97,253.40 243.20,254.80 C243.43,256.20 243.63,257.60 243.80,259.00 C243.97,260.40 244.10,261.82 244.20,263.20 C244.30,264.58 244.32,265.92 244.40,267.30 C244.48,268.68 244.60,270.10 244.70,271.50 C244.80,272.90 244.85,274.22 245.00,275.70 C245.15,277.18 245.45,278.93 245.60,280.40 C245.75,281.87 245.82,283.12 245.90,284.50 C245.98,285.88 245.98,287.30 246.10,288.70 C246.22,290.10 246.42,291.50 246.60,292.90 C246.78,294.30 247.02,295.72 247.20,297.10 C247.38,298.48 247.57,299.82 247.70,301.20 C247.83,302.58 247.97,304.27 248.00,305.40 C248.03,306.53 248.00,307.20 247.90,308.00 C247.80,308.80 247.70,309.13 247.40,310.20 C247.10,311.27 246.53,313.02 246.10,314.40 C245.67,315.78 245.18,317.12 244.80,318.50 C244.42,319.88 244.10,321.30 243.80,322.70 C243.50,324.10 243.20,325.50 243.00,326.90 C242.80,328.30 242.72,329.72 242.60,331.10 C242.48,332.48 242.40,333.82 242.30,335.20 C242.20,336.58 242.13,338.00 242.00,339.40 C241.87,340.80 241.65,341.83 241.50,343.60 C241.35,345.37 241.22,347.77 241.10,350.00 C240.98,352.23 240.90,354.67 240.80,357.00 C240.70,359.33 240.55,362.83 240.50,364.00 L240.50,364.00 C240.45,362.83 240.30,359.33 240.20,357.00 C240.10,354.67 240.02,352.23 239.90,350.00 C239.78,347.77 239.65,345.37 239.50,343.60 C239.35,341.83 239.13,340.80 239.00,339.40 C238.87,338.00 238.80,336.58 238.70,335.20 C238.60,333.82 238.52,332.48 238.40,331.10 C238.28,329.72 238.20,328.30 238.00,326.90 C237.80,325.50 237.50,324.10 237.20,322.70 C236.90,321.30 236.58,319.88 236.20,318.50 C235.82,317.12 235.33,315.78 234.90,314.40 C234.47,313.02 233.90,311.27 233.60,310.20 C233.30,309.13 233.20,308.80 233.10,308.00 C233.00,307.20 232.97,306.53 233.00,305.40 C233.03,304.27 233.17,302.58 233.30,301.20 C233.43,299.82 233.62,298.48 233.80,297.10 C233.98,295.72 234.22,294.30 234.40,292.90 C234.58,291.50 234.78,290.10 234.90,288.70 C235.02,287.30 235.02,285.88 235.10,284.50 C235.18,283.12 235.25,281.87 235.40,280.40 C235.55,278.93 235.85,277.18 236.00,275.70 C236.15,274.22 236.20,272.90 236.30,271.50 C236.40,270.10 236.52,268.68 236.60,267.30 C236.68,265.92 236.70,264.58 236.80,263.20 C236.90,261.82 237.03,260.40 237.20,259.00 C237.37,257.60 237.57,256.20 237.80,254.80 C238.03,253.40 238.35,252.00 238.60,250.60 C238.85,249.20 239.08,247.78 239.30,246.40 C239.52,245.02 239.75,243.37 239.90,242.30 C240.05,241.23 240.10,240.88 240.20,240.00 C240.30,239.12 240.45,237.50 240.50,237.00 Z" fill="#A0CEEC" stroke="none"/>
<path d="M279.90,270.10 C279.97,270.42 280.13,271.30 280.30,272.00 C280.47,272.70 280.05,273.23 280.90,274.30 C281.75,275.37 284.13,277.02 285.40,278.40 C286.67,279.78 287.93,281.55 288.50,282.60 C289.07,283.65 288.98,284.05 288.80,284.70 C288.62,285.35 288.03,285.80 287.40,286.50 C286.77,287.20 285.75,288.15 285.00,288.90 C284.25,289.65 283.45,290.30 282.90,291.00 C282.35,291.70 281.83,292.40 281.70,293.10 C281.57,293.80 281.57,294.58 282.10,295.20 C282.63,295.82 283.70,296.28 284.90,296.80 C286.10,297.32 287.75,297.75 289.30,298.30 C290.85,298.85 292.90,299.45 294.20,300.10 C295.50,300.75 296.50,301.50 297.10,302.20 C297.70,302.90 298.15,303.60 297.80,304.30 C297.45,305.00 296.15,305.72 295.00,306.40 C293.85,307.08 291.72,307.72 290.90,308.40 C290.08,309.08 290.28,309.80 290.10,310.50 C289.92,311.20 290.20,311.55 289.80,312.60 C289.40,313.65 288.65,315.40 287.70,316.80 C286.75,318.20 285.13,319.60 284.10,321.00 C283.07,322.40 282.20,323.98 281.50,325.20 C280.80,326.42 280.17,327.78 279.90,328.30 L279.90,328.30 C279.63,327.78 279.00,326.42 278.30,325.20 C277.60,323.98 276.73,322.40 275.70,321.00 C274.67,319.60 273.05,318.20 272.10,316.80 C271.15,315.40 270.40,313.65 270.00,312.60 C269.60,311.55 269.88,311.20 269.70,310.50 C269.52,309.80 269.72,309.08 268.90,308.40 C268.08,307.72 265.95,307.08 264.80,306.40 C263.65,305.72 262.35,305.00 262.00,304.30 C261.65,303.60 262.10,302.90 262.70,302.20 C263.30,301.50 264.30,300.75 265.60,300.10 C266.90,299.45 268.95,298.85 270.50,298.30 C272.05,297.75 273.70,297.32 274.90,296.80 C276.10,296.28 277.17,295.82 277.70,295.20 C278.23,294.58 278.23,293.80 278.10,293.10 C277.97,292.40 277.45,291.70 276.90,291.00 C276.35,290.30 275.55,289.65 274.80,288.90 C274.05,288.15 273.03,287.20 272.40,286.50 C271.77,285.80 271.18,285.35 271.00,284.70 C270.82,284.05 270.73,283.65 271.30,282.60 C271.87,281.55 273.13,279.78 274.40,278.40 C275.67,277.02 278.05,275.37 278.90,274.30 C279.75,273.23 279.33,272.70 279.50,272.00 C279.67,271.30 279.83,270.42 279.90,270.10 Z" fill="#A5EEBF" stroke="none"/>
<line x1="200.70" y1="267.40" x2="200.70" y2="273.20" stroke="#222" stroke-width="0.5"/>
<line x1="200.70" y1="291.90" x2="200.70" y2="303.70" stroke="#222" stroke-width="0.5"/>
<rect x="196.35" y="273.20" width="8.70" height="18.70" fill="#fff" fill-opacity="0.7" stroke="#222" stroke-width="0.5"/>
<line x1="196.35" y1="280.40" x2="205.05" y2="280.40" stroke="#111" stroke-width="0.8"/>
<circle cx="200.16" cy="266.80" r="1.05" fill="#E74C3C" fill-opacity="0.8"/>
<circle cx="199.37" cy="270.00" r="1.05" fill="#E74C3C" fill-opacity="0.8"/>
<circle cx="201.19" cy="276.00" r="1.05" fill="#E74C3C" fill-opacity="0.8"/>
<circle cx="198.35" cy="282.00" r="1.05" fill="#E74C3C" fill-opacity="0.8"/>
<circle cx="199.75" cy="288.00" r="1.05" fill="#E74C3C" fill-opacity="0.8"/>
<circle cx="200.51" cy="302.00" r="1.05" fill="#E74C3C" fill-opacity="0.8"/>
<circle cx="202.90" cy="303.70" r="1.05" fill="#E74C3C" fill-opacity="0.8"/>
<path d="M200.70,280.90 L202.90,283.10 L200.70,285.30 L198.50,283.10 Z" fill="#E8120C" stroke="#3a0a0a" stroke-width="0.45"/>
<line x1="240.50" y1="260.50" x2="240.50" y2="278.50" stroke="#222" stroke-width="0.5"/>
<line x1="240.50" y1="308.80" x2="240.50" y2="340.50" stroke="#222" stroke-width="0.5"/>
<rect x="236.05" y="278.50" width="8.90" height="30.30" fill="#fff" fill-opacity="0.7" stroke="#222" stroke-width="0.5"/>
<line x1="236.05" y1="298.60" x2="244.95" y2="298.60" stroke="#111" stroke-width="0.8"/>
<circle cx="242.19" cy="305.70" r="1.05" fill="#3498DB" fill-opacity="0.8"/>
<circle cx="239.33" cy="296.90" r="1.05" fill="#3498DB" fill-opacity="0.8"/>
<circle cx="242.53" cy="282.10" r="1.05" fill="#3498DB" fill-opacity="0.8"/>
<circle cx="239.65" cy="308.90" r="1.05" fill="#3498DB" fill-opacity="0.8"/>
<circle cx="240.49" cy="262.50" r="1.05" fill="#3498DB" fill-opacity="0.8"/>
<circle cx="240.15" cy="307.30" r="1.05" fill="#3498DB" fill-opacity="0.8"/>
<circle cx="241.24" cy="282.90" r="1.05" fill="#3498DB" fill-opacity="0.8"/>
<circle cx="239.30" cy="326.10" r="1.05" fill="#3498DB" fill-opacity="0.8"/>
<circle cx="239.79" cy="263.70" r="1.05" fill="#3498DB" fill-opacity="0.8"/>
<circle cx="241.30" cy="293.70" r="1.05" fill="#3498DB" fill-opacity="0.8"/>
<circle cx="241.81" cy="278.50" r="1.05" fill="#3498DB" fill-opacity="0.8"/>
<circle cx="240.52" cy="310.50" r="1.05" fill="#3498DB" fill-opacity="0.8"/>
<circle cx="242.57" cy="278.90" r="1.05" fill="#3498DB" fill-opacity="0.8"/>
<circle cx="241.91" cy="286.50" r="1.05" fill="#3498DB" fill-opacity="0.8"/>
<circle cx="239.27" cy="280.90" r="1.05" fill="#3498DB" fill-opacity="0.8"/>
<circle cx="239.60" cy="311.70" r="1.05" fill="#3498DB" fill-opacity="0.8"/>
<circle cx="240.48" cy="330.50" r="1.05" fill="#3498DB" fill-opacity="0.8"/>
<circle cx="239.28" cy="277.70" r="1.05" fill="#3498DB" fill-opacity="0.8"/>
<circle cx="241.23" cy="293.30" r="1.05" fill="#3498DB" fill-opacity="0.8"/>
<circle cx="238.94" cy="330.10" r="1.05" fill="#3498DB" fill-opacity="0.8"/>
<circle cx="239.24" cy="292.10" r="1.05" fill="#3498DB" fill-opacity="0.8"/>
<circle cx="238.92" cy="334.50" r="1.05" fill="#3498DB" fill-opacity="0.8"/>
<circle cx="238.56" cy="265.70" r="1.05" fill="#3498DB" fill-opacity="0.8"/>
<circle cx="242.25" cy="292.10" r="1.05" fill="#3498DB" fill-opacity="0.8"/>
<circle cx="241.52" cy="321.30" r="1.05" fill="#3498DB" fill-opacity="0.8"/>
<circle cx="242.40" cy="340.10" r="1.05" fill="#3498DB" fill-opacity="0.8"/>
<circle cx="239.12" cy="287.70" r="1.05" fill="#3498DB" fill-opacity="0.8"/>
<circle cx="241.58" cy="327.70" r="1.05" fill="#3498DB" fill-opacity="0.8"/>
<circle cx="241.22" cy="263.70" r="1.05" fill="#3498DB" fill-opacity="0.8"/>
<circle cx="239.95" cy="290.90" r="1.05" fill="#3498DB" fill-opacity="0.8"/>
<circle cx="239.04" cy="288.10" r="1.05" fill="#3498DB" fill-opacity="0.8"/>
<circle cx="239.53" cy="260.50" r="1.05" fill="#3498DB" fill-opacity="0.8"/>
<circle cx="242.50" cy="289.30" r="1.05" fill="#3498DB" fill-opacity="0.8"/>
<circle cx="242.54" cy="272.50" r="1.05" fill="#3498DB" fill-opacity="0.8"/>
<circle cx="239.87" cy="279.30" r="1.05" fill="#3498DB" fill-opacity="0.8"/>
<circle cx="241.92" cy="315.70" r="1.05" fill="#3498DB" fill-opacity="0.8"/>
<circle cx="238.52" cy="294.50" r="1.05" fill="#3498DB" fill-opacity="0.8"/>
<circle cx="239.94" cy="296.90" r="1.05" fill="#3498DB" fill-opacity="0.8"/>
<circle cx="239.15" cy="325.30" r="1.05" fill="#3498DB" fill-opacity="0.8"/>
<circle cx="242.25" cy="290.10" r="1.05" fill="#3498DB" fill-opacity="0.8"/>
<path d="M240.50,292.80 L242.70,295.00 L240.50,297.20 L238.30,295.00 Z" fill="#E8120C" stroke="#3a0a0a" stroke-width="0.45"/>
<line x1="279.90" y1="298.30" x2="279.90" y2="298.30" stroke="#222" stroke-width="0.5"/>
<line x1="279.90" y1="307.20" x2="279.90" y2="316.30" stroke="#222" stroke-width="0.5"/>
<rect x="276.05" y="298.30" width="7.70" height="8.90" fill="#fff" fill-opacity="0.7" stroke="#222" stroke-width="0.5"/>
<line x1="276.05" y1="304.80" x2="283.75" y2="304.80" stroke="#111" stroke-width="0.8"/>
<circle cx="277.65" cy="283.30" r="1.05" fill="#2ECC71" fill-opacity="0.8"/>
<circle cx="279.47" cy="300.00" r="1.05" fill="#2ECC71" fill-opacity="0.8"/>
<circle cx="281.40" cy="302.00" r="1.05" fill="#2ECC71" fill-opacity="0.8"/>
<circle cx="281.18" cy="304.00" r="1.05" fill="#2ECC71" fill-opacity="0.8"/>
<circle cx="277.70" cy="306.00" r="1.05" fill="#2ECC71" fill-opacity="0.8"/>
<circle cx="277.67" cy="316.30" r="1.05" fill="#2ECC71" fill-opacity="0.8"/>
<path d="M279.90,299.40 L282.10,301.60 L279.90,303.80 L277.70,301.60 Z" fill="#E8120C" stroke="#3a0a0a" stroke-width="0.45"/>
<rect x="177.5" y="229.4" width="126.30" height="141.50" fill="none" stroke="#BDBDBD" stroke-width="0.8"/>
<line x1="177.5" y1="229.4" x2="177.5" y2="370.9" stroke="#333" stroke-width="0.8"/>
<line x1="177.1" y1="370.9" x2="304.2" y2="370.9" stroke="#333" stroke-width="0.8"/>
<rect x="177.5" y="221.6" width="126.30" height="7.80" fill="#E4E4E4" stroke="#555" stroke-width="0.6"/>
<line x1="177.5" y1="229.4" x2="303.8" y2="229.4" stroke="#333" stroke-width="0.8"/>
<text x="240.65" y="227.93" font-size="4.8" font-weight="bold" text-anchor="middle" fill="#1a1a1a" stroke="#1a1a1a" stroke-width="0.2" font-family="Liberation Sans, sans-serif" >AUC</text>
<text x="220.30" y="234.98" font-size="4.4" font-weight="bold" text-anchor="middle" fill="#1a1a1a" stroke="#1a1a1a" stroke-width="0.2" font-family="Liberation Sans, sans-serif" >p = 0.12</text>
<text x="260.10" y="239.18" font-size="4.4" font-weight="bold" text-anchor="middle" fill="#1a1a1a" stroke="#1a1a1a" stroke-width="0.2" font-family="Liberation Sans, sans-serif" >p = 0.57</text>
<line x1="175.9" y1="251.20" x2="177.5" y2="251.20" stroke="#333" stroke-width="0.5"/>
<text x="175.30" y="252.98" font-size="4.4" font-weight="normal" text-anchor="end" fill="#333" stroke="#333" stroke-width="0.11" font-family="Liberation Sans, sans-serif" >100%</text>
<line x1="175.9" y1="283.30" x2="177.5" y2="283.30" stroke="#333" stroke-width="0.5"/>
<text x="175.30" y="285.08" font-size="4.4" font-weight="normal" text-anchor="end" fill="#333" stroke="#333" stroke-width="0.11" font-family="Liberation Sans, sans-serif" >80%</text>
<line x1="175.9" y1="315.70" x2="177.5" y2="315.70" stroke="#333" stroke-width="0.5"/>
<text x="175.30" y="317.48" font-size="4.4" font-weight="normal" text-anchor="end" fill="#333" stroke="#333" stroke-width="0.11" font-family="Liberation Sans, sans-serif" >60%</text>
<line x1="175.9" y1="347.90" x2="177.5" y2="347.90" stroke="#333" stroke-width="0.5"/>
<text x="175.30" y="349.68" font-size="4.4" font-weight="normal" text-anchor="end" fill="#333" stroke="#333" stroke-width="0.11" font-family="Liberation Sans, sans-serif" >40%</text>
<line x1="200.70" y1="370.9" x2="200.70" y2="372.5" stroke="#333" stroke-width="0.5"/>
<text x="200.70" y="376.81" font-size="4.2" font-weight="normal" text-anchor="middle" fill="#333" stroke="#333" stroke-width="0.11" font-family="Liberation Sans, sans-serif" >1-3</text>
<line x1="240.50" y1="370.9" x2="240.50" y2="372.5" stroke="#333" stroke-width="0.5"/>
<text x="240.50" y="376.81" font-size="4.2" font-weight="normal" text-anchor="middle" fill="#333" stroke="#333" stroke-width="0.11" font-family="Liberation Sans, sans-serif" >4-8</text>
<line x1="279.90" y1="370.9" x2="279.90" y2="372.5" stroke="#333" stroke-width="0.5"/>
<text x="279.90" y="376.81" font-size="4.2" font-weight="normal" text-anchor="middle" fill="#333" stroke="#333" stroke-width="0.11" font-family="Liberation Sans, sans-serif" >9-20</text>
<line x1="375.7" y1="269.80" x2="464.6" y2="269.80" stroke="#EDEDED" stroke-width="0.5"/>
<line x1="375.7" y1="304.40" x2="464.6" y2="304.40" stroke="#EDEDED" stroke-width="0.5"/>
<line x1="375.7" y1="338.20" x2="464.6" y2="338.20" stroke="#EDEDED" stroke-width="0.5"/>
<path d="M400.30,246.00 C400.37,246.42 400.58,247.62 400.70,248.50 C400.82,249.38 400.82,250.15 401.00,251.30 C401.18,252.45 401.57,254.02 401.80,255.40 C402.03,256.78 402.18,258.20 402.40,259.60 C402.62,261.00 402.83,262.40 403.10,263.80 C403.37,265.20 403.68,266.60 404.00,268.00 C404.32,269.40 404.70,270.82 405.00,272.20 C405.30,273.58 405.48,274.92 405.80,276.30 C406.12,277.68 406.58,279.10 406.90,280.50 C407.22,281.90 407.47,283.75 407.70,284.70 C407.93,285.65 408.02,285.25 408.30,286.20 C408.58,287.15 409.08,289.02 409.40,290.40 C409.72,291.78 409.98,293.12 410.20,294.50 C410.42,295.88 410.62,297.30 410.70,298.70 C410.78,300.10 410.78,301.50 410.70,302.90 C410.62,304.30 410.53,305.72 410.20,307.10 C409.87,308.48 409.30,309.82 408.70,311.20 C408.10,312.58 407.12,314.27 406.60,315.40 C406.08,316.53 406.00,316.87 405.60,318.00 C405.20,319.13 404.58,320.80 404.20,322.20 C403.82,323.60 403.55,325.02 403.30,326.40 C403.05,327.78 402.90,329.12 402.70,330.50 C402.50,331.88 402.23,333.30 402.10,334.70 C401.97,336.10 401.98,337.50 401.90,338.90 C401.82,340.30 401.73,341.72 401.60,343.10 C401.47,344.48 401.25,345.88 401.10,347.20 C400.95,348.52 400.83,349.60 400.70,351.00 C400.57,352.40 400.37,354.83 400.30,355.60 L400.30,355.60 C400.23,354.83 400.03,352.40 399.90,351.00 C399.77,349.60 399.65,348.52 399.50,347.20 C399.35,345.88 399.13,344.48 399.00,343.10 C398.87,341.72 398.78,340.30 398.70,338.90 C398.62,337.50 398.63,336.10 398.50,334.70 C398.37,333.30 398.10,331.88 397.90,330.50 C397.70,329.12 397.55,327.78 397.30,326.40 C397.05,325.02 396.78,323.60 396.40,322.20 C396.02,320.80 395.40,319.13 395.00,318.00 C394.60,316.87 394.52,316.53 394.00,315.40 C393.48,314.27 392.50,312.58 391.90,311.20 C391.30,309.82 390.73,308.48 390.40,307.10 C390.07,305.72 389.98,304.30 389.90,302.90 C389.82,301.50 389.82,300.10 389.90,298.70 C389.98,297.30 390.18,295.88 390.40,294.50 C390.62,293.12 390.88,291.78 391.20,290.40 C391.52,289.02 392.02,287.15 392.30,286.20 C392.58,285.25 392.67,285.65 392.90,284.70 C393.13,283.75 393.38,281.90 393.70,280.50 C394.02,279.10 394.48,277.68 394.80,276.30 C395.12,274.92 395.30,273.58 395.60,272.20 C395.90,270.82 396.28,269.40 396.60,268.00 C396.92,266.60 397.23,265.20 397.50,263.80 C397.77,262.40 397.98,261.00 398.20,259.60 C398.42,258.20 398.57,256.78 398.80,255.40 C399.03,254.02 399.42,252.45 399.60,251.30 C399.78,250.15 399.78,249.38 399.90,248.50 C400.02,247.62 400.23,246.42 400.30,246.00 Z" fill="#EC9E9A" stroke="none"/>
<path d="M440.60,249.10 C440.68,249.42 440.88,250.30 441.10,251.00 C441.32,251.70 441.07,252.23 441.90,253.30 C442.73,254.37 444.27,256.02 446.10,257.40 C447.93,258.78 450.95,260.20 452.90,261.60 C454.85,263.00 456.82,264.75 457.80,265.80 C458.78,266.85 458.93,267.20 458.80,267.90 C458.67,268.60 457.97,268.95 457.00,270.00 C456.03,271.05 453.85,272.82 453.00,274.20 C452.15,275.58 452.30,277.00 451.90,278.30 C451.50,279.60 451.07,281.03 450.60,282.00 C450.13,282.97 449.72,283.40 449.10,284.10 C448.48,284.80 447.53,285.50 446.90,286.20 C446.27,286.90 445.70,287.27 445.30,288.30 C444.90,289.33 444.67,291.02 444.50,292.40 C444.33,293.78 444.47,295.20 444.30,296.60 C444.13,298.00 443.82,299.40 443.50,300.80 C443.18,302.20 442.68,303.60 442.40,305.00 C442.12,306.40 441.92,307.82 441.80,309.20 C441.68,310.58 441.75,311.92 441.70,313.30 C441.65,314.68 441.58,316.10 441.50,317.50 C441.42,318.90 441.30,320.28 441.20,321.70 C441.10,323.12 441.00,324.62 440.90,326.00 C440.80,327.38 440.65,329.33 440.60,330.00 L440.60,330.00 C440.55,329.33 440.40,327.38 440.30,326.00 C440.20,324.62 440.10,323.12 440.00,321.70 C439.90,320.28 439.78,318.90 439.70,317.50 C439.62,316.10 439.55,314.68 439.50,313.30 C439.45,311.92 439.52,310.58 439.40,309.20 C439.28,307.82 439.08,306.40 438.80,305.00 C438.52,303.60 438.02,302.20 437.70,300.80 C437.38,299.40 437.07,298.00 436.90,296.60 C436.73,295.20 436.87,293.78 436.70,292.40 C436.53,291.02 436.30,289.33 435.90,288.30 C435.50,287.27 434.93,286.90 434.30,286.20 C433.67,285.50 432.72,284.80 432.10,284.10 C431.48,283.40 431.07,282.97 430.60,282.00 C430.13,281.03 429.70,279.60 429.30,278.30 C428.90,277.00 429.05,275.58 428.20,274.20 C427.35,272.82 425.17,271.05 424.20,270.00 C423.23,268.95 422.53,268.60 422.40,267.90 C422.27,267.20 422.42,266.85 423.40,265.80 C424.38,264.75 426.35,263.00 428.30,261.60 C430.25,260.20 433.27,258.78 435.10,257.40 C436.93,256.02 438.47,254.37 439.30,253.30 C440.13,252.23 439.88,251.70 440.10,251.00 C440.32,250.30 440.52,249.42 440.60,249.10 Z" fill="#A0CEEC" stroke="none"/>
<line x1="400.30" y1="260.70" x2="400.30" y2="285.10" stroke="#222" stroke-width="0.5"/>
<line x1="400.30" y1="305.50" x2="400.30" y2="345.70" stroke="#222" stroke-width="0.5"/>
<rect x="396.90" y="285.10" width="6.80" height="20.40" fill="#fff" fill-opacity="0.7" stroke="#222" stroke-width="0.5"/>
<line x1="396.90" y1="293.00" x2="403.70" y2="293.00" stroke="#111" stroke-width="0.8"/>
<circle cx="402.15" cy="270.05" r="1.05" fill="#E74C3C" fill-opacity="0.8"/>
<circle cx="401.39" cy="285.77" r="1.05" fill="#E74C3C" fill-opacity="0.8"/>
<circle cx="399.59" cy="322.75" r="1.05" fill="#E74C3C" fill-opacity="0.8"/>
<circle cx="402.31" cy="286.62" r="1.05" fill="#E74C3C" fill-opacity="0.8"/>
<circle cx="399.25" cy="304.05" r="1.05" fill="#E74C3C" fill-opacity="0.8"/>
<circle cx="399.49" cy="308.72" r="1.05" fill="#E74C3C" fill-opacity="0.8"/>
<circle cx="398.12" cy="287.05" r="1.05" fill="#E74C3C" fill-opacity="0.8"/>
<circle cx="402.13" cy="310.85" r="1.05" fill="#E74C3C" fill-opacity="0.8"/>
<circle cx="402.25" cy="304.90" r="1.05" fill="#E74C3C" fill-opacity="0.8"/>
<circle cx="399.13" cy="264.95" r="1.05" fill="#E74C3C" fill-opacity="0.8"/>
<circle cx="402.31" cy="297.25" r="1.05" fill="#E74C3C" fill-opacity="0.8"/>
<circle cx="399.80" cy="331.67" r="1.05" fill="#E74C3C" fill-opacity="0.8"/>
<circle cx="399.99" cy="285.35" r="1.05" fill="#E74C3C" fill-opacity="0.8"/>
<circle cx="402.18" cy="298.10" r="1.05" fill="#E74C3C" fill-opacity="0.8"/>
<circle cx="401.63" cy="281.10" r="1.05" fill="#E74C3C" fill-opacity="0.8"/>
<circle cx="401.72" cy="310.00" r="1.05" fill="#E74C3C" fill-opacity="0.8"/>
<circle cx="400.77" cy="312.12" r="1.05" fill="#E74C3C" fill-opacity="0.8"/>
<circle cx="399.51" cy="290.02" r="1.05" fill="#E74C3C" fill-opacity="0.8"/>
<circle cx="401.54" cy="291.72" r="1.05" fill="#E74C3C" fill-opacity="0.8"/>
<circle cx="398.97" cy="271.75" r="1.05" fill="#E74C3C" fill-opacity="0.8"/>
<circle cx="399.19" cy="310.85" r="1.05" fill="#E74C3C" fill-opacity="0.8"/>
<circle cx="398.25" cy="270.47" r="1.05" fill="#E74C3C" fill-opacity="0.8"/>
<circle cx="399.53" cy="301.07" r="1.05" fill="#E74C3C" fill-opacity="0.8"/>
<circle cx="401.99" cy="338.90" r="1.05" fill="#E74C3C" fill-opacity="0.8"/>
<circle cx="399.27" cy="341.02" r="1.05" fill="#E74C3C" fill-opacity="0.8"/>
<circle cx="398.52" cy="272.60" r="1.05" fill="#E74C3C" fill-opacity="0.8"/>
<circle cx="401.22" cy="298.52" r="1.05" fill="#E74C3C" fill-opacity="0.8"/>
<circle cx="399.13" cy="295.97" r="1.05" fill="#E74C3C" fill-opacity="0.8"/>
<circle cx="400.83" cy="294.70" r="1.05" fill="#E74C3C" fill-opacity="0.8"/>
<circle cx="401.39" cy="306.60" r="1.05" fill="#E74C3C" fill-opacity="0.8"/>
<circle cx="401.02" cy="317.22" r="1.05" fill="#E74C3C" fill-opacity="0.8"/>
<circle cx="401.80" cy="276.00" r="1.05" fill="#E74C3C" fill-opacity="0.8"/>
<circle cx="400.59" cy="287.90" r="1.05" fill="#E74C3C" fill-opacity="0.8"/>
<circle cx="401.35" cy="292.15" r="1.05" fill="#E74C3C" fill-opacity="0.8"/>
<circle cx="399.19" cy="281.95" r="1.05" fill="#E74C3C" fill-opacity="0.8"/>
<circle cx="398.77" cy="285.35" r="1.05" fill="#E74C3C" fill-opacity="0.8"/>
<circle cx="400.64" cy="321.05" r="1.05" fill="#E74C3C" fill-opacity="0.8"/>
<circle cx="399.84" cy="290.02" r="1.05" fill="#E74C3C" fill-opacity="0.8"/>
<circle cx="400.33" cy="342.73" r="1.05" fill="#E74C3C" fill-opacity="0.8"/>
<circle cx="401.66" cy="284.07" r="1.05" fill="#E74C3C" fill-opacity="0.8"/>
<circle cx="402.46" cy="305.75" r="1.05" fill="#E74C3C" fill-opacity="0.8"/>
<circle cx="400.19" cy="274.30" r="1.05" fill="#E74C3C" fill-opacity="0.8"/>
<circle cx="401.80" cy="315.10" r="1.05" fill="#E74C3C" fill-opacity="0.8"/>
<circle cx="398.28" cy="324.88" r="1.05" fill="#E74C3C" fill-opacity="0.8"/>
<circle cx="398.62" cy="287.90" r="1.05" fill="#E74C3C" fill-opacity="0.8"/>
<circle cx="402.38" cy="281.52" r="1.05" fill="#E74C3C" fill-opacity="0.8"/>
<circle cx="402.19" cy="302.35" r="1.05" fill="#E74C3C" fill-opacity="0.8"/>
<circle cx="401.91" cy="292.15" r="1.05" fill="#E74C3C" fill-opacity="0.8"/>
<circle cx="399.24" cy="295.97" r="1.05" fill="#E74C3C" fill-opacity="0.8"/>
<circle cx="402.26" cy="312.12" r="1.05" fill="#E74C3C" fill-opacity="0.8"/>
<circle cx="400.72" cy="274.72" r="1.05" fill="#E74C3C" fill-opacity="0.8"/>
<circle cx="399.06" cy="304.05" r="1.05" fill="#E74C3C" fill-opacity="0.8"/>
<circle cx="398.72" cy="292.15" r="1.05" fill="#E74C3C" fill-opacity="0.8"/>
<circle cx="399.22" cy="282.38" r="1.05" fill="#E74C3C" fill-opacity="0.8"/>
<circle cx="400.97" cy="303.20" r="1.05" fill="#E74C3C" fill-opacity="0.8"/>
<circle cx="398.15" cy="282.38" r="1.05" fill="#E74C3C" fill-opacity="0.8"/>
<circle cx="401.08" cy="290.02" r="1.05" fill="#E74C3C" fill-opacity="0.8"/>
<circle cx="399.47" cy="281.10" r="1.05" fill="#E74C3C" fill-opacity="0.8"/>
<circle cx="401.60" cy="282.38" r="1.05" fill="#E74C3C" fill-opacity="0.8"/>
<circle cx="398.38" cy="300.65" r="1.05" fill="#E74C3C" fill-opacity="0.8"/>
<circle cx="399.84" cy="274.30" r="1.05" fill="#E74C3C" fill-opacity="0.8"/>
<circle cx="400.91" cy="300.65" r="1.05" fill="#E74C3C" fill-opacity="0.8"/>
<circle cx="398.82" cy="273.02" r="1.05" fill="#E74C3C" fill-opacity="0.8"/>
<circle cx="399.90" cy="307.88" r="1.05" fill="#E74C3C" fill-opacity="0.8"/>
<circle cx="399.45" cy="287.47" r="1.05" fill="#E74C3C" fill-opacity="0.8"/>
<circle cx="399.47" cy="331.67" r="1.05" fill="#E74C3C" fill-opacity="0.8"/>
<circle cx="399.67" cy="301.50" r="1.05" fill="#E74C3C" fill-opacity="0.8"/>
<circle cx="401.90" cy="294.70" r="1.05" fill="#E74C3C" fill-opacity="0.8"/>
<circle cx="399.70" cy="344.42" r="1.05" fill="#E74C3C" fill-opacity="0.8"/>
<circle cx="401.30" cy="281.95" r="1.05" fill="#E74C3C" fill-opacity="0.8"/>
<circle cx="398.13" cy="282.38" r="1.05" fill="#E74C3C" fill-opacity="0.8"/>
<circle cx="399.96" cy="323.18" r="1.05" fill="#E74C3C" fill-opacity="0.8"/>
<circle cx="399.89" cy="315.10" r="1.05" fill="#E74C3C" fill-opacity="0.8"/>
<circle cx="400.13" cy="320.62" r="1.05" fill="#E74C3C" fill-opacity="0.8"/>
<circle cx="398.17" cy="279.40" r="1.05" fill="#E74C3C" fill-opacity="0.8"/>
<circle cx="400.92" cy="301.07" r="1.05" fill="#E74C3C" fill-opacity="0.8"/>
<circle cx="398.49" cy="324.02" r="1.05" fill="#E74C3C" fill-opacity="0.8"/>
<circle cx="399.73" cy="304.05" r="1.05" fill="#E74C3C" fill-opacity="0.8"/>
<circle cx="398.74" cy="298.52" r="1.05" fill="#E74C3C" fill-opacity="0.8"/>
<circle cx="400.39" cy="287.47" r="1.05" fill="#E74C3C" fill-opacity="0.8"/>
<circle cx="398.58" cy="326.57" r="1.05" fill="#E74C3C" fill-opacity="0.8"/>
<circle cx="401.64" cy="298.10" r="1.05" fill="#E74C3C" fill-opacity="0.8"/>
<circle cx="398.97" cy="335.07" r="1.05" fill="#E74C3C" fill-opacity="0.8"/>
<circle cx="402.25" cy="276.43" r="1.05" fill="#E74C3C" fill-opacity="0.8"/>
<circle cx="400.22" cy="337.20" r="1.05" fill="#E74C3C" fill-opacity="0.8"/>
<circle cx="402.18" cy="269.20" r="1.05" fill="#E74C3C" fill-opacity="0.8"/>
<circle cx="402.08" cy="293.00" r="1.05" fill="#E74C3C" fill-opacity="0.8"/>
<circle cx="401.73" cy="304.05" r="1.05" fill="#E74C3C" fill-opacity="0.8"/>
<circle cx="401.56" cy="279.40" r="1.05" fill="#E74C3C" fill-opacity="0.8"/>
<circle cx="399.88" cy="283.65" r="1.05" fill="#E74C3C" fill-opacity="0.8"/>
<circle cx="401.75" cy="317.22" r="1.05" fill="#E74C3C" fill-opacity="0.8"/>
<circle cx="399.06" cy="281.10" r="1.05" fill="#E74C3C" fill-opacity="0.8"/>
<circle cx="400.38" cy="293.85" r="1.05" fill="#E74C3C" fill-opacity="0.8"/>
<circle cx="398.64" cy="293.00" r="1.05" fill="#E74C3C" fill-opacity="0.8"/>
<circle cx="401.29" cy="285.35" r="1.05" fill="#E74C3C" fill-opacity="0.8"/>
<circle cx="398.28" cy="322.32" r="1.05" fill="#E74C3C" fill-opacity="0.8"/>
<circle cx="401.43" cy="301.50" r="1.05" fill="#E74C3C" fill-opacity="0.8"/>
<circle cx="401.79" cy="267.07" r="1.05" fill="#E74C3C" fill-opacity="0.8"/>
<circle cx="400.74" cy="275.57" r="1.05" fill="#E74C3C" fill-opacity="0.8"/>
<circle cx="400.86" cy="300.65" r="1.05" fill="#E74C3C" fill-opacity="0.8"/>
<circle cx="399.95" cy="288.75" r="1.05" fill="#E74C3C" fill-opacity="0.8"/>
<circle cx="399.97" cy="302.35" r="1.05" fill="#E74C3C" fill-opacity="0.8"/>
<circle cx="400.07" cy="305.75" r="1.05" fill="#E74C3C" fill-opacity="0.8"/>
<circle cx="398.20" cy="295.55" r="1.05" fill="#E74C3C" fill-opacity="0.8"/>
<circle cx="400.25" cy="304.05" r="1.05" fill="#E74C3C" fill-opacity="0.8"/>
<circle cx="401.46" cy="284.50" r="1.05" fill="#E74C3C" fill-opacity="0.8"/>
<circle cx="400.12" cy="312.55" r="1.05" fill="#E74C3C" fill-opacity="0.8"/>
<circle cx="400.18" cy="280.68" r="1.05" fill="#E74C3C" fill-opacity="0.8"/>
<circle cx="398.67" cy="274.72" r="1.05" fill="#E74C3C" fill-opacity="0.8"/>
<circle cx="398.50" cy="295.12" r="1.05" fill="#E74C3C" fill-opacity="0.8"/>
<path d="M400.30,296.50 L402.50,298.70 L400.30,300.90 L398.10,298.70 Z" fill="#E8120C" stroke="#3a0a0a" stroke-width="0.45"/>
<line x1="440.60" y1="261.10" x2="440.60" y2="271.20" stroke="#222" stroke-width="0.5"/>
<line x1="440.60" y1="282.00" x2="440.60" y2="300.30" stroke="#222" stroke-width="0.5"/>
<rect x="436.95" y="271.20" width="7.30" height="10.80" fill="#fff" fill-opacity="0.7" stroke="#222" stroke-width="0.5"/>
<line x1="436.95" y1="276.00" x2="444.25" y2="276.00" stroke="#111" stroke-width="0.8"/>
<circle cx="440.32" cy="261.10" r="1.05" fill="#3498DB" fill-opacity="0.8"/>
<circle cx="440.65" cy="261.10" r="1.05" fill="#3498DB" fill-opacity="0.8"/>
<circle cx="438.40" cy="261.10" r="1.05" fill="#3498DB" fill-opacity="0.8"/>
<circle cx="441.25" cy="261.10" r="1.05" fill="#3498DB" fill-opacity="0.8"/>
<circle cx="438.59" cy="266.80" r="1.05" fill="#3498DB" fill-opacity="0.8"/>
<circle cx="441.72" cy="266.80" r="1.05" fill="#3498DB" fill-opacity="0.8"/>
<circle cx="441.93" cy="266.80" r="1.05" fill="#3498DB" fill-opacity="0.8"/>
<circle cx="440.66" cy="266.80" r="1.05" fill="#3498DB" fill-opacity="0.8"/>
<circle cx="438.46" cy="271.00" r="1.05" fill="#3498DB" fill-opacity="0.8"/>
<circle cx="440.62" cy="272.00" r="1.05" fill="#3498DB" fill-opacity="0.8"/>
<circle cx="440.01" cy="273.00" r="1.05" fill="#3498DB" fill-opacity="0.8"/>
<circle cx="442.76" cy="274.00" r="1.05" fill="#3498DB" fill-opacity="0.8"/>
<circle cx="438.85" cy="275.00" r="1.05" fill="#3498DB" fill-opacity="0.8"/>
<circle cx="442.31" cy="276.00" r="1.05" fill="#3498DB" fill-opacity="0.8"/>
<circle cx="442.98" cy="277.00" r="1.05" fill="#3498DB" fill-opacity="0.8"/>
<circle cx="441.71" cy="278.00" r="1.05" fill="#3498DB" fill-opacity="0.8"/>
<circle cx="442.11" cy="279.00" r="1.05" fill="#3498DB" fill-opacity="0.8"/>
<circle cx="439.13" cy="280.00" r="1.05" fill="#3498DB" fill-opacity="0.8"/>
<circle cx="442.91" cy="281.00" r="1.05" fill="#3498DB" fill-opacity="0.8"/>
<circle cx="440.56" cy="282.00" r="1.05" fill="#3498DB" fill-opacity="0.8"/>
<circle cx="442.79" cy="284.00" r="1.05" fill="#3498DB" fill-opacity="0.8"/>
<circle cx="442.60" cy="286.00" r="1.05" fill="#3498DB" fill-opacity="0.8"/>
<circle cx="438.99" cy="288.00" r="1.05" fill="#3498DB" fill-opacity="0.8"/>
<circle cx="441.98" cy="291.00" r="1.05" fill="#3498DB" fill-opacity="0.8"/>
<circle cx="442.67" cy="294.00" r="1.05" fill="#3498DB" fill-opacity="0.8"/>
<circle cx="438.51" cy="297.00" r="1.05" fill="#3498DB" fill-opacity="0.8"/>
<circle cx="439.88" cy="300.30" r="1.05" fill="#3498DB" fill-opacity="0.8"/>
<circle cx="441.83" cy="312.20" r="1.05" fill="#3498DB" fill-opacity="0.8"/>
<circle cx="438.96" cy="319.00" r="1.05" fill="#3498DB" fill-opacity="0.8"/>
<path d="M440.60,273.20 L442.80,275.40 L440.60,277.60 L438.40,275.40 Z" fill="#E8120C" stroke="#3a0a0a" stroke-width="0.45"/>
<rect x="375.7" y="238.1" width="88.90" height="132.30" fill="none" stroke="#BDBDBD" stroke-width="0.8"/>
<line x1="375.7" y1="238.1" x2="375.7" y2="370.4" stroke="#333" stroke-width="0.8"/>
<line x1="375.3" y1="370.4" x2="465.0" y2="370.4" stroke="#333" stroke-width="0.8"/>
<rect x="375.7" y="230.5" width="88.90" height="7.60" fill="#E4E4E4" stroke="#555" stroke-width="0.6"/>
<line x1="375.7" y1="238.1" x2="464.6" y2="238.1" stroke="#333" stroke-width="0.8"/>
<text x="420.15" y="235.89" font-size="4.42" font-weight="bold" text-anchor="middle" fill="#1a1a1a" stroke="#1a1a1a" stroke-width="0.2" font-family="Liberation Sans, sans-serif" >Accuracy</text>
<text x="420.10" y="242.76" font-size="4.33" font-weight="bold" text-anchor="middle" fill="#1a1a1a" stroke="#1a1a1a" stroke-width="0.2" font-family="Liberation Sans, sans-serif" >p &lt; 0.001</text>
<line x1="374.09999999999997" y1="269.80" x2="375.7" y2="269.80" stroke="#333" stroke-width="0.5"/>
<text x="373.50" y="271.40" font-size="3.9" font-weight="normal" text-anchor="end" fill="#333" stroke="#333" stroke-width="0.11" font-family="Liberation Sans, sans-serif" >90%</text>
<line x1="374.09999999999997" y1="304.40" x2="375.7" y2="304.40" stroke="#333" stroke-width="0.5"/>
<text x="373.50" y="306.00" font-size="3.9" font-weight="normal" text-anchor="end" fill="#333" stroke="#333" stroke-width="0.11" font-family="Liberation Sans, sans-serif" >70%</text>
<line x1="374.09999999999997" y1="338.20" x2="375.7" y2="338.20" stroke="#333" stroke-width="0.5"/>
<text x="373.50" y="339.80" font-size="3.9" font-weight="normal" text-anchor="end" fill="#333" stroke="#333" stroke-width="0.11" font-family="Liberation Sans, sans-serif" >50%</text>
<line x1="400.30" y1="370.4" x2="400.30" y2="372.0" stroke="#333" stroke-width="0.5"/>
<text x="400.30" y="375.94" font-size="4.0" font-weight="normal" text-anchor="middle" fill="#333" stroke="#333" stroke-width="0.11" font-family="Liberation Sans, sans-serif" >Other</text>
<line x1="440.60" y1="370.4" x2="440.60" y2="372.0" stroke="#333" stroke-width="0.5"/>
<text x="440.60" y="375.94" font-size="4.0" font-weight="normal" text-anchor="middle" fill="#333" stroke="#333" stroke-width="0.11" font-family="Liberation Sans, sans-serif" >Fronto-Parietal</text>
<line x1="477.7" y1="270.10" x2="565.8" y2="270.10" stroke="#EDEDED" stroke-width="0.5"/>
<line x1="477.7" y1="303.90" x2="565.8" y2="303.90" stroke="#EDEDED" stroke-width="0.5"/>
<line x1="477.7" y1="337.20" x2="565.8" y2="337.20" stroke="#EDEDED" stroke-width="0.5"/>
<line x1="477.7" y1="370.40" x2="565.8" y2="370.40" stroke="#EDEDED" stroke-width="0.5"/>
<path d="M501.50,251.60 C501.57,252.00 501.78,253.22 501.90,254.00 C502.02,254.78 502.08,255.23 502.20,256.30 C502.32,257.37 502.38,259.02 502.60,260.40 C502.82,261.78 503.18,263.20 503.50,264.60 C503.82,266.00 504.13,267.40 504.50,268.80 C504.87,270.20 505.32,271.60 505.70,273.00 C506.08,274.40 506.43,275.82 506.80,277.20 C507.17,278.58 507.53,279.92 507.90,281.30 C508.27,282.68 508.63,284.10 509.00,285.50 C509.37,286.90 509.62,288.22 510.10,289.70 C510.58,291.18 511.25,292.93 511.90,294.40 C512.55,295.87 513.22,297.12 514.00,298.50 C514.78,299.88 515.80,301.30 516.60,302.70 C517.40,304.10 518.33,305.50 518.80,306.90 C519.27,308.30 519.55,309.72 519.40,311.10 C519.25,312.48 518.90,313.82 517.90,315.20 C516.90,316.58 514.63,318.27 513.40,319.40 C512.17,320.53 511.33,321.20 510.50,322.00 C509.67,322.80 509.20,323.13 508.40,324.20 C507.60,325.27 506.27,327.02 505.70,328.40 C505.13,329.78 505.17,331.12 505.00,332.50 C504.83,333.88 504.78,335.30 504.70,336.70 C504.62,338.10 504.60,339.50 504.50,340.90 C504.40,342.30 504.28,343.72 504.10,345.10 C503.92,346.48 503.62,347.82 503.40,349.20 C503.18,350.58 503.00,352.00 502.80,353.40 C502.60,354.80 502.42,356.17 502.20,357.60 C501.98,359.03 501.62,361.27 501.50,362.00 L501.50,362.00 C501.38,361.27 501.02,359.03 500.80,357.60 C500.58,356.17 500.40,354.80 500.20,353.40 C500.00,352.00 499.82,350.58 499.60,349.20 C499.38,347.82 499.08,346.48 498.90,345.10 C498.72,343.72 498.60,342.30 498.50,340.90 C498.40,339.50 498.38,338.10 498.30,336.70 C498.22,335.30 498.17,333.88 498.00,332.50 C497.83,331.12 497.87,329.78 497.30,328.40 C496.73,327.02 495.40,325.27 494.60,324.20 C493.80,323.13 493.33,322.80 492.50,322.00 C491.67,321.20 490.83,320.53 489.60,319.40 C488.37,318.27 486.10,316.58 485.10,315.20 C484.10,313.82 483.75,312.48 483.60,311.10 C483.45,309.72 483.73,308.30 484.20,306.90 C484.67,305.50 485.60,304.10 486.40,302.70 C487.20,301.30 488.22,299.88 489.00,298.50 C489.78,297.12 490.45,295.87 491.10,294.40 C491.75,292.93 492.42,291.18 492.90,289.70 C493.38,288.22 493.63,286.90 494.00,285.50 C494.37,284.10 494.73,282.68 495.10,281.30 C495.47,279.92 495.83,278.58 496.20,277.20 C496.57,275.82 496.92,274.40 497.30,273.00 C497.68,271.60 498.13,270.20 498.50,268.80 C498.87,267.40 499.18,266.00 499.50,264.60 C499.82,263.20 500.18,261.78 500.40,260.40 C500.62,259.02 500.68,257.37 500.80,256.30 C500.92,255.23 500.98,254.78 501.10,254.00 C501.22,253.22 501.43,252.00 501.50,251.60 Z" fill="#EC9E9A" stroke="none"/>
<path d="M542.05,244.10 C542.13,244.58 542.32,245.95 542.55,247.00 C542.78,248.05 542.80,249.15 543.45,250.40 C544.10,251.65 545.25,253.12 546.45,254.50 C547.65,255.88 549.35,257.30 550.65,258.70 C551.95,260.10 553.05,261.50 554.25,262.90 C555.45,264.30 557.02,265.72 557.85,267.10 C558.68,268.48 559.07,269.82 559.25,271.20 C559.43,272.58 559.15,274.00 558.95,275.40 C558.75,276.80 558.43,278.47 558.05,279.60 C557.67,280.73 557.25,281.07 556.65,282.20 C556.05,283.33 555.35,285.02 554.45,286.40 C553.55,287.78 552.20,289.12 551.25,290.50 C550.30,291.88 549.48,293.30 548.75,294.70 C548.02,296.10 547.25,297.50 546.85,298.90 C546.45,300.30 546.48,301.72 546.35,303.10 C546.22,304.48 546.08,305.82 546.05,307.20 C546.02,308.58 546.17,310.00 546.15,311.40 C546.13,312.80 546.07,314.25 545.95,315.60 C545.83,316.95 545.73,317.77 545.45,319.50 C545.17,321.23 544.65,323.75 544.25,326.00 C543.85,328.25 543.42,330.73 543.05,333.00 C542.68,335.27 542.22,338.50 542.05,339.60 L542.05,339.60 C541.88,338.50 541.42,335.27 541.05,333.00 C540.68,330.73 540.25,328.25 539.85,326.00 C539.45,323.75 538.93,321.23 538.65,319.50 C538.37,317.77 538.27,316.95 538.15,315.60 C538.03,314.25 537.97,312.80 537.95,311.40 C537.93,310.00 538.08,308.58 538.05,307.20 C538.02,305.82 537.88,304.48 537.75,303.10 C537.62,301.72 537.65,300.30 537.25,298.90 C536.85,297.50 536.08,296.10 535.35,294.70 C534.62,293.30 533.80,291.88 532.85,290.50 C531.90,289.12 530.55,287.78 529.65,286.40 C528.75,285.02 528.05,283.33 527.45,282.20 C526.85,281.07 526.43,280.73 526.05,279.60 C525.67,278.47 525.35,276.80 525.15,275.40 C524.95,274.00 524.67,272.58 524.85,271.20 C525.03,269.82 525.42,268.48 526.25,267.10 C527.08,265.72 528.65,264.30 529.85,262.90 C531.05,261.50 532.15,260.10 533.45,258.70 C534.75,257.30 536.45,255.88 537.65,254.50 C538.85,253.12 540.00,251.65 540.65,250.40 C541.30,249.15 541.32,248.05 541.55,247.00 C541.78,245.95 541.97,244.58 542.05,244.10 Z" fill="#A0CEEC" stroke="none"/>
<line x1="501.50" y1="270.40" x2="501.50" y2="295.40" stroke="#222" stroke-width="0.5"/>
<line x1="501.50" y1="315.00" x2="501.50" y2="345.00" stroke="#222" stroke-width="0.5"/>
<rect x="498.20" y="295.40" width="6.60" height="19.60" fill="#fff" fill-opacity="0.7" stroke="#222" stroke-width="0.5"/>
<line x1="498.20" y1="308.50" x2="504.80" y2="308.50" stroke="#111" stroke-width="0.8"/>
<circle cx="503.40" cy="270.40" r="1.05" fill="#E74C3C" fill-opacity="0.8"/>
<circle cx="500.42" cy="272.00" r="1.05" fill="#E74C3C" fill-opacity="0.8"/>
<circle cx="503.02" cy="276.00" r="1.05" fill="#E74C3C" fill-opacity="0.8"/>
<circle cx="499.79" cy="279.00" r="1.05" fill="#E74C3C" fill-opacity="0.8"/>
<circle cx="501.51" cy="282.00" r="1.05" fill="#E74C3C" fill-opacity="0.8"/>
<circle cx="503.52" cy="285.00" r="1.05" fill="#E74C3C" fill-opacity="0.8"/>
<circle cx="500.10" cy="289.00" r="1.05" fill="#E74C3C" fill-opacity="0.8"/>
<circle cx="500.36" cy="292.00" r="1.05" fill="#E74C3C" fill-opacity="0.8"/>
<circle cx="501.53" cy="296.00" r="1.05" fill="#E74C3C" fill-opacity="0.8"/>
<circle cx="500.63" cy="298.00" r="1.05" fill="#E74C3C" fill-opacity="0.8"/>
<circle cx="499.28" cy="300.00" r="1.05" fill="#E74C3C" fill-opacity="0.8"/>
<circle cx="499.97" cy="302.00" r="1.05" fill="#E74C3C" fill-opacity="0.8"/>
<circle cx="499.87" cy="303.00" r="1.05" fill="#E74C3C" fill-opacity="0.8"/>
<circle cx="503.59" cy="305.00" r="1.05" fill="#E74C3C" fill-opacity="0.8"/>
<circle cx="502.36" cy="306.00" r="1.05" fill="#E74C3C" fill-opacity="0.8"/>
<circle cx="503.40" cy="307.00" r="1.05" fill="#E74C3C" fill-opacity="0.8"/>
<circle cx="499.91" cy="308.00" r="1.05" fill="#E74C3C" fill-opacity="0.8"/>
<circle cx="502.87" cy="309.00" r="1.05" fill="#E74C3C" fill-opacity="0.8"/>
<circle cx="499.65" cy="310.00" r="1.05" fill="#E74C3C" fill-opacity="0.8"/>
<circle cx="501.65" cy="311.00" r="1.05" fill="#E74C3C" fill-opacity="0.8"/>
<circle cx="502.15" cy="312.00" r="1.05" fill="#E74C3C" fill-opacity="0.8"/>
<circle cx="500.83" cy="313.00" r="1.05" fill="#E74C3C" fill-opacity="0.8"/>
<circle cx="503.29" cy="314.00" r="1.05" fill="#E74C3C" fill-opacity="0.8"/>
<circle cx="501.76" cy="315.00" r="1.05" fill="#E74C3C" fill-opacity="0.8"/>
<circle cx="501.88" cy="316.00" r="1.05" fill="#E74C3C" fill-opacity="0.8"/>
<circle cx="503.34" cy="318.00" r="1.05" fill="#E74C3C" fill-opacity="0.8"/>
<circle cx="499.60" cy="320.00" r="1.05" fill="#E74C3C" fill-opacity="0.8"/>
<circle cx="503.87" cy="322.00" r="1.05" fill="#E74C3C" fill-opacity="0.8"/>
<circle cx="502.12" cy="324.00" r="1.05" fill="#E74C3C" fill-opacity="0.8"/>
<circle cx="500.99" cy="326.00" r="1.05" fill="#E74C3C" fill-opacity="0.8"/>
<circle cx="502.93" cy="329.00" r="1.05" fill="#E74C3C" fill-opacity="0.8"/>
<circle cx="500.37" cy="332.00" r="1.05" fill="#E74C3C" fill-opacity="0.8"/>
<circle cx="503.85" cy="335.00" r="1.05" fill="#E74C3C" fill-opacity="0.8"/>
<circle cx="501.87" cy="338.00" r="1.05" fill="#E74C3C" fill-opacity="0.8"/>
<circle cx="500.83" cy="341.00" r="1.05" fill="#E74C3C" fill-opacity="0.8"/>
<circle cx="502.77" cy="345.00" r="1.05" fill="#E74C3C" fill-opacity="0.8"/>
<path d="M501.50,304.70 L503.70,306.90 L501.50,309.10 L499.30,306.90 Z" fill="#E8120C" stroke="#3a0a0a" stroke-width="0.45"/>
<line x1="542.05" y1="263.90" x2="542.05" y2="269.70" stroke="#222" stroke-width="0.5"/>
<line x1="542.05" y1="287.20" x2="542.05" y2="308.80" stroke="#222" stroke-width="0.5"/>
<rect x="538.25" y="269.70" width="7.60" height="17.50" fill="#fff" fill-opacity="0.7" stroke="#222" stroke-width="0.5"/>
<line x1="538.25" y1="283.00" x2="545.85" y2="283.00" stroke="#111" stroke-width="0.8"/>
<circle cx="541.77" cy="263.90" r="1.05" fill="#3498DB" fill-opacity="0.8"/>
<circle cx="540.50" cy="263.90" r="1.05" fill="#3498DB" fill-opacity="0.8"/>
<circle cx="543.22" cy="263.90" r="1.05" fill="#3498DB" fill-opacity="0.8"/>
<circle cx="539.88" cy="270.00" r="1.05" fill="#3498DB" fill-opacity="0.8"/>
<circle cx="543.59" cy="275.00" r="1.05" fill="#3498DB" fill-opacity="0.8"/>
<circle cx="540.87" cy="279.00" r="1.05" fill="#3498DB" fill-opacity="0.8"/>
<circle cx="542.72" cy="283.00" r="1.05" fill="#3498DB" fill-opacity="0.8"/>
<circle cx="544.37" cy="286.00" r="1.05" fill="#3498DB" fill-opacity="0.8"/>
<circle cx="542.46" cy="292.00" r="1.05" fill="#3498DB" fill-opacity="0.8"/>
<circle cx="542.84" cy="298.00" r="1.05" fill="#3498DB" fill-opacity="0.8"/>
<circle cx="541.15" cy="304.00" r="1.05" fill="#3498DB" fill-opacity="0.8"/>
<circle cx="539.66" cy="308.80" r="1.05" fill="#3498DB" fill-opacity="0.8"/>
<circle cx="539.81" cy="320.80" r="1.05" fill="#3498DB" fill-opacity="0.8"/>
<path d="M542.05,278.40 L544.25,280.60 L542.05,282.80 L539.85,280.60 Z" fill="#E8120C" stroke="#3a0a0a" stroke-width="0.45"/>
<rect x="477.7" y="238.1" width="88.10" height="132.30" fill="none" stroke="#BDBDBD" stroke-width="0.8"/>
<line x1="477.7" y1="238.1" x2="477.7" y2="370.4" stroke="#333" stroke-width="0.8"/>
<line x1="477.3" y1="370.4" x2="566.1999999999999" y2="370.4" stroke="#333" stroke-width="0.8"/>
<rect x="477.7" y="230.5" width="88.10" height="7.60" fill="#E4E4E4" stroke="#555" stroke-width="0.6"/>
<line x1="477.7" y1="238.1" x2="565.8" y2="238.1" stroke="#333" stroke-width="0.8"/>
<text x="521.75" y="235.89" font-size="4.42" font-weight="bold" text-anchor="middle" fill="#1a1a1a" stroke="#1a1a1a" stroke-width="0.2" font-family="Liberation Sans, sans-serif" >AUC</text>
<text x="521.40" y="243.16" font-size="4.33" font-weight="bold" text-anchor="middle" fill="#1a1a1a" stroke="#1a1a1a" stroke-width="0.2" font-family="Liberation Sans, sans-serif" >p &lt; 0.001</text>
<line x1="476.09999999999997" y1="270.10" x2="477.7" y2="270.10" stroke="#333" stroke-width="0.5"/>
<text x="475.50" y="271.70" font-size="3.9" font-weight="normal" text-anchor="end" fill="#333" stroke="#333" stroke-width="0.11" font-family="Liberation Sans, sans-serif" >90%</text>
<line x1="476.09999999999997" y1="303.90" x2="477.7" y2="303.90" stroke="#333" stroke-width="0.5"/>
<text x="475.50" y="305.50" font-size="3.9" font-weight="normal" text-anchor="end" fill="#333" stroke="#333" stroke-width="0.11" font-family="Liberation Sans, sans-serif" >70%</text>
<line x1="476.09999999999997" y1="337.20" x2="477.7" y2="337.20" stroke="#333" stroke-width="0.5"/>
<text x="475.50" y="338.80" font-size="3.9" font-weight="normal" text-anchor="end" fill="#333" stroke="#333" stroke-width="0.11" font-family="Liberation Sans, sans-serif" >50%</text>
<line x1="476.09999999999997" y1="370.40" x2="477.7" y2="370.40" stroke="#333" stroke-width="0.5"/>
<text x="475.50" y="372.00" font-size="3.9" font-weight="normal" text-anchor="end" fill="#333" stroke="#333" stroke-width="0.11" font-family="Liberation Sans, sans-serif" >30%</text>
<line x1="501.50" y1="370.4" x2="501.50" y2="372.0" stroke="#333" stroke-width="0.5"/>
<text x="501.50" y="375.94" font-size="4.0" font-weight="normal" text-anchor="middle" fill="#333" stroke="#333" stroke-width="0.11" font-family="Liberation Sans, sans-serif" >Other</text>
<line x1="542.05" y1="370.4" x2="542.05" y2="372.0" stroke="#333" stroke-width="0.5"/>
<text x="542.05" y="375.94" font-size="4.0" font-weight="normal" text-anchor="middle" fill="#333" stroke="#333" stroke-width="0.11" font-family="Liberation Sans, sans-serif" >Fronto-Parietal</text>
<line x1="581.3" y1="251.80" x2="669.7" y2="251.80" stroke="#EDEDED" stroke-width="0.5"/>
<line x1="581.3" y1="283.40" x2="669.7" y2="283.40" stroke="#EDEDED" stroke-width="0.5"/>
<line x1="581.3" y1="315.20" x2="669.7" y2="315.20" stroke="#EDEDED" stroke-width="0.5"/>
<line x1="581.3" y1="346.70" x2="669.7" y2="346.70" stroke="#EDEDED" stroke-width="0.5"/>
<path d="M605.30,254.10 C605.35,254.42 605.50,255.30 605.60,256.00 C605.70,256.70 605.75,257.23 605.90,258.30 C606.05,259.37 606.28,261.02 606.50,262.40 C606.72,263.78 606.90,265.20 607.20,266.60 C607.50,268.00 607.90,269.40 608.30,270.80 C608.70,272.20 609.17,273.60 609.60,275.00 C610.03,276.40 610.47,277.82 610.90,279.20 C611.33,280.58 611.82,281.92 612.20,283.30 C612.58,284.68 612.93,286.10 613.20,287.50 C613.47,288.90 613.75,290.22 613.80,291.70 C613.85,293.18 613.67,294.93 613.50,296.40 C613.33,297.87 613.10,299.12 612.80,300.50 C612.50,301.88 612.05,303.30 611.70,304.70 C611.35,306.10 611.05,307.50 610.70,308.90 C610.35,310.30 610.00,311.72 609.60,313.10 C609.20,314.48 608.70,315.82 608.30,317.20 C607.90,318.58 607.50,320.00 607.20,321.40 C606.90,322.80 606.65,323.88 606.50,325.60 C606.35,327.32 606.32,329.25 606.30,331.70 C606.28,334.15 606.43,337.67 606.40,340.30 C606.37,342.93 606.20,345.05 606.10,347.50 C606.00,349.95 605.93,352.25 605.80,355.00 C605.67,357.75 605.38,362.50 605.30,364.00 L605.30,364.00 C605.22,362.50 604.93,357.75 604.80,355.00 C604.67,352.25 604.60,349.95 604.50,347.50 C604.40,345.05 604.23,342.93 604.20,340.30 C604.17,337.67 604.32,334.15 604.30,331.70 C604.28,329.25 604.25,327.32 604.10,325.60 C603.95,323.88 603.70,322.80 603.40,321.40 C603.10,320.00 602.70,318.58 602.30,317.20 C601.90,315.82 601.40,314.48 601.00,313.10 C600.60,311.72 600.25,310.30 599.90,308.90 C599.55,307.50 599.25,306.10 598.90,304.70 C598.55,303.30 598.10,301.88 597.80,300.50 C597.50,299.12 597.27,297.87 597.10,296.40 C596.93,294.93 596.75,293.18 596.80,291.70 C596.85,290.22 597.13,288.90 597.40,287.50 C597.67,286.10 598.02,284.68 598.40,283.30 C598.78,281.92 599.27,280.58 599.70,279.20 C600.13,277.82 600.57,276.40 601.00,275.00 C601.43,273.60 601.90,272.20 602.30,270.80 C602.70,269.40 603.10,268.00 603.40,266.60 C603.70,265.20 603.88,263.78 604.10,262.40 C604.32,261.02 604.55,259.37 604.70,258.30 C604.85,257.23 604.90,256.70 605.00,256.00 C605.10,255.30 605.25,254.42 605.30,254.10 Z" fill="#EC9E9A" stroke="none"/>
<path d="M645.60,244.60 C645.70,245.00 645.92,246.22 646.20,247.00 C646.48,247.78 646.23,248.23 647.30,249.30 C648.37,250.37 650.65,252.02 652.60,253.40 C654.55,254.78 657.37,256.42 659.00,257.60 C660.63,258.78 661.72,259.68 662.40,260.50 C663.08,261.32 663.15,261.83 663.10,262.50 C663.05,263.17 662.68,263.92 662.10,264.50 C661.52,265.08 660.52,265.42 659.60,266.00 C658.68,266.58 657.38,267.30 656.60,268.00 C655.82,268.70 655.13,269.50 654.90,270.20 C654.67,270.90 655.08,271.52 655.20,272.20 C655.32,272.88 655.70,273.58 655.60,274.30 C655.50,275.02 655.10,275.80 654.60,276.50 C654.10,277.20 653.57,277.65 652.60,278.50 C651.63,279.35 649.77,280.68 648.80,281.60 C647.83,282.52 647.33,283.18 646.80,284.00 C646.27,284.82 645.80,286.08 645.60,286.50 L645.60,286.50 C645.40,286.08 644.93,284.82 644.40,284.00 C643.87,283.18 643.37,282.52 642.40,281.60 C641.43,280.68 639.57,279.35 638.60,278.50 C637.63,277.65 637.10,277.20 636.60,276.50 C636.10,275.80 635.70,275.02 635.60,274.30 C635.50,273.58 635.88,272.88 636.00,272.20 C636.12,271.52 636.53,270.90 636.30,270.20 C636.07,269.50 635.38,268.70 634.60,268.00 C633.82,267.30 632.52,266.58 631.60,266.00 C630.68,265.42 629.68,265.08 629.10,264.50 C628.52,263.92 628.15,263.17 628.10,262.50 C628.05,261.83 628.12,261.32 628.80,260.50 C629.48,259.68 630.57,258.78 632.20,257.60 C633.83,256.42 636.65,254.78 638.60,253.40 C640.55,252.02 642.83,250.37 643.90,249.30 C644.97,248.23 644.72,247.78 645.00,247.00 C645.28,246.22 645.50,245.00 645.60,244.60 Z" fill="#A0CEEC" stroke="none"/>
<line x1="605.30" y1="277.60" x2="605.30" y2="288.30" stroke="#222" stroke-width="0.5"/>
<line x1="605.30" y1="309.40" x2="605.30" y2="340.30" stroke="#222" stroke-width="0.5"/>
<rect x="602.15" y="288.30" width="6.30" height="21.10" fill="#fff" fill-opacity="0.7" stroke="#222" stroke-width="0.5"/>
<line x1="602.15" y1="292.70" x2="608.45" y2="292.70" stroke="#111" stroke-width="0.8"/>
<circle cx="603.62" cy="277.60" r="1.05" fill="#E74C3C" fill-opacity="0.8"/>
<circle cx="605.86" cy="281.00" r="1.05" fill="#E74C3C" fill-opacity="0.8"/>
<circle cx="604.97" cy="284.00" r="1.05" fill="#E74C3C" fill-opacity="0.8"/>
<circle cx="605.36" cy="287.00" r="1.05" fill="#E74C3C" fill-opacity="0.8"/>
<circle cx="607.20" cy="290.00" r="1.05" fill="#E74C3C" fill-opacity="0.8"/>
<circle cx="603.53" cy="292.00" r="1.05" fill="#E74C3C" fill-opacity="0.8"/>
<circle cx="603.99" cy="295.00" r="1.05" fill="#E74C3C" fill-opacity="0.8"/>
<circle cx="606.03" cy="297.00" r="1.05" fill="#E74C3C" fill-opacity="0.8"/>
<circle cx="603.01" cy="300.00" r="1.05" fill="#E74C3C" fill-opacity="0.8"/>
<circle cx="602.91" cy="303.00" r="1.05" fill="#E74C3C" fill-opacity="0.8"/>
<circle cx="604.60" cy="306.00" r="1.05" fill="#E74C3C" fill-opacity="0.8"/>
<circle cx="603.41" cy="311.00" r="1.05" fill="#E74C3C" fill-opacity="0.8"/>
<circle cx="604.61" cy="313.00" r="1.05" fill="#E74C3C" fill-opacity="0.8"/>
<circle cx="603.98" cy="340.30" r="1.05" fill="#E74C3C" fill-opacity="0.8"/>
<path d="M605.30,296.80 L607.50,299.00 L605.30,301.20 L603.10,299.00 Z" fill="#E8120C" stroke="#3a0a0a" stroke-width="0.45"/>
<line x1="645.60" y1="254.70" x2="645.60" y2="260.50" stroke="#222" stroke-width="0.5"/>
<line x1="645.60" y1="276.20" x2="645.60" y2="276.20" stroke="#222" stroke-width="0.5"/>
<rect x="641.95" y="260.50" width="7.30" height="15.70" fill="#fff" fill-opacity="0.7" stroke="#222" stroke-width="0.5"/>
<line x1="641.95" y1="264.70" x2="649.25" y2="264.70" stroke="#111" stroke-width="0.8"/>
<circle cx="646.00" cy="254.70" r="1.05" fill="#3498DB" fill-opacity="0.8"/>
<circle cx="646.03" cy="264.70" r="1.05" fill="#3498DB" fill-opacity="0.8"/>
<circle cx="644.18" cy="264.70" r="1.05" fill="#3498DB" fill-opacity="0.8"/>
<circle cx="646.19" cy="270.00" r="1.05" fill="#3498DB" fill-opacity="0.8"/>
<circle cx="645.48" cy="276.00" r="1.05" fill="#3498DB" fill-opacity="0.8"/>
<path d="M645.60,263.60 L647.80,265.80 L645.60,268.00 L643.40,265.80 Z" fill="#E8120C" stroke="#3a0a0a" stroke-width="0.45"/>
<rect x="581.3" y="238.1" width="88.40" height="132.30" fill="none" stroke="#BDBDBD" stroke-width="0.8"/>
<line x1="581.3" y1="238.1" x2="581.3" y2="370.4" stroke="#333" stroke-width="0.8"/>
<line x1="580.9" y1="370.4" x2="670.1" y2="370.4" stroke="#333" stroke-width="0.8"/>
<rect x="581.3" y="230.5" width="88.40" height="7.60" fill="#E4E4E4" stroke="#555" stroke-width="0.6"/>
<line x1="581.3" y1="238.1" x2="669.7" y2="238.1" stroke="#333" stroke-width="0.8"/>
<text x="625.50" y="235.89" font-size="4.42" font-weight="bold" text-anchor="middle" fill="#1a1a1a" stroke="#1a1a1a" stroke-width="0.2" font-family="Liberation Sans, sans-serif" >Precision</text>
<text x="625.50" y="242.66" font-size="4.33" font-weight="bold" text-anchor="middle" fill="#1a1a1a" stroke="#1a1a1a" stroke-width="0.2" font-family="Liberation Sans, sans-serif" >p &lt; 0.001</text>
<line x1="579.6999999999999" y1="251.80" x2="581.3" y2="251.80" stroke="#333" stroke-width="0.5"/>
<text x="579.10" y="253.40" font-size="3.9" font-weight="normal" text-anchor="end" fill="#333" stroke="#333" stroke-width="0.11" font-family="Liberation Sans, sans-serif" >100%</text>
<line x1="579.6999999999999" y1="283.40" x2="581.3" y2="283.40" stroke="#333" stroke-width="0.5"/>
<text x="579.10" y="285.00" font-size="3.9" font-weight="normal" text-anchor="end" fill="#333" stroke="#333" stroke-width="0.11" font-family="Liberation Sans, sans-serif" >80%</text>
<line x1="579.6999999999999" y1="315.20" x2="581.3" y2="315.20" stroke="#333" stroke-width="0.5"/>
<text x="579.10" y="316.80" font-size="3.9" font-weight="normal" text-anchor="end" fill="#333" stroke="#333" stroke-width="0.11" font-family="Liberation Sans, sans-serif" >60%</text>
<line x1="579.6999999999999" y1="346.70" x2="581.3" y2="346.70" stroke="#333" stroke-width="0.5"/>
<text x="579.10" y="348.30" font-size="3.9" font-weight="normal" text-anchor="end" fill="#333" stroke="#333" stroke-width="0.11" font-family="Liberation Sans, sans-serif" >40%</text>
<line x1="605.30" y1="370.4" x2="605.30" y2="372.0" stroke="#333" stroke-width="0.5"/>
<text x="605.30" y="375.94" font-size="4.0" font-weight="normal" text-anchor="middle" fill="#333" stroke="#333" stroke-width="0.11" font-family="Liberation Sans, sans-serif" >Other</text>
<line x1="645.60" y1="370.4" x2="645.60" y2="372.0" stroke="#333" stroke-width="0.5"/>
<text x="645.60" y="375.94" font-size="4.0" font-weight="normal" text-anchor="middle" fill="#333" stroke="#333" stroke-width="0.11" font-family="Liberation Sans, sans-serif" >Fronto-Parietal</text>
<text x="122.90" y="25.56" font-size="4.6" font-weight="bold" text-anchor="start" fill="#1a1a1a" stroke="#1a1a1a" stroke-width="0.2" font-family="Liberation Sans, sans-serif" >EEG Protocol</text>
<rect x="155.2" y="21.099999999999998" width="5.7" height="5.6" fill="#EC9E9A"/>
<circle cx="158.04999999999998" cy="23.9" r="0.8" fill="#E74C3C"/>
<text x="163.80" y="25.47" font-size="3.8" font-weight="normal" text-anchor="start" fill="#383838" stroke="#383838" stroke-width="0.11" font-family="Liberation Sans, sans-serif" >Single</text>
<rect x="177.0" y="21.099999999999998" width="5.8" height="5.6" fill="#A0CEEC"/>
<circle cx="179.9" cy="23.9" r="0.8" fill="#3498DB"/>
<text x="185.20" y="25.47" font-size="3.8" font-weight="normal" text-anchor="start" fill="#383838" stroke="#383838" stroke-width="0.11" font-family="Liberation Sans, sans-serif" >Multi-Domain</text>
<text x="486.20" y="8.83" font-size="5.07" font-weight="bold" text-anchor="start" fill="#1a1a1a" stroke="#1a1a1a" stroke-width="0.2" font-family="Liberation Sans, sans-serif" >Multi-Domain Feature</text>
<rect x="541.1" y="4.2" width="5.8" height="5.6" fill="#EC9E9A"/>
<circle cx="544.0" cy="7.0" r="0.8" fill="#E74C3C"/>
<text x="550.00" y="8.77" font-size="4.35" font-weight="normal" text-anchor="start" fill="#383838" stroke="#383838" stroke-width="0.11" font-family="Liberation Sans, sans-serif" >No</text>
<rect x="558.6" y="4.2" width="6.4" height="5.6" fill="#ABDFA9"/>
<circle cx="561.8000000000001" cy="7.0" r="0.8" fill="#4DB04A"/>
<text x="568.00" y="8.77" font-size="4.35" font-weight="normal" text-anchor="start" fill="#383838" stroke="#383838" stroke-width="0.11" font-family="Liberation Sans, sans-serif" >Yes</text>
<text x="113.10" y="213.08" font-size="5.5" font-weight="bold" text-anchor="start" fill="#1a1a1a" stroke="#1a1a1a" stroke-width="0.2" font-family="Liberation Sans, sans-serif" >Channel Category</text>
<rect x="164.0" y="208.29999999999998" width="7" height="5.6" fill="#EC9E9A"/>
<circle cx="167.5" cy="211.1" r="0.8" fill="#E74C3C"/>
<text x="174.40" y="212.88" font-size="4.4" font-weight="normal" text-anchor="start" fill="#383838" stroke="#383838" stroke-width="0.11" font-family="Liberation Sans, sans-serif" >1-3</text>
<rect x="184.1" y="208.29999999999998" width="6.9" height="5.6" fill="#A0CEEC"/>
<circle cx="187.54999999999998" cy="211.1" r="0.8" fill="#3498DB"/>
<text x="194.60" y="212.88" font-size="4.4" font-weight="normal" text-anchor="start" fill="#383838" stroke="#383838" stroke-width="0.11" font-family="Liberation Sans, sans-serif" >4-8</text>
<rect x="204.2" y="208.29999999999998" width="7.1" height="5.6" fill="#A5EEBF"/>
<circle cx="207.75" cy="211.1" r="0.8" fill="#2ECC71"/>
<text x="214.70" y="212.88" font-size="4.4" font-weight="normal" text-anchor="start" fill="#383838" stroke="#383838" stroke-width="0.11" font-family="Liberation Sans, sans-serif" >9-20</text>
<text x="471.10" y="222.81" font-size="4.75" font-weight="bold" text-anchor="start" fill="#1a1a1a" stroke="#1a1a1a" stroke-width="0.2" font-family="Liberation Sans, sans-serif" >Electrode Category</text>
<rect x="518.0" y="218.29999999999998" width="6" height="5.6" fill="#EC9E9A"/>
<circle cx="521.0" cy="221.1" r="0.8" fill="#E74C3C"/>
<text x="526.80" y="222.73" font-size="3.96" font-weight="normal" text-anchor="start" fill="#383838" stroke="#383838" stroke-width="0.11" font-family="Liberation Sans, sans-serif" >Other</text>
<rect x="540.1" y="218.29999999999998" width="6" height="5.6" fill="#A0CEEC"/>
<circle cx="543.1" cy="221.1" r="0.8" fill="#3498DB"/>
<text x="548.90" y="222.73" font-size="3.96" font-weight="normal" text-anchor="start" fill="#383838" stroke="#383838" stroke-width="0.11" font-family="Liberation Sans, sans-serif" >Fronto-Parietal</text>
<text x="165.50" y="185.98" font-size="4.1" font-weight="bold" text-anchor="middle" fill="#1a1a1a" stroke="#1a1a1a" stroke-width="0.2" font-family="Liberation Sans, sans-serif" >EEG Protocol Type</text>
<text x="530.40" y="187.06" font-size="4.6" font-weight="bold" text-anchor="middle" fill="#1a1a1a" stroke="#1a1a1a" stroke-width="0.2" font-family="Liberation Sans, sans-serif" >Feature Type</text>
<text x="168.50" y="381.84" font-size="5.1" font-weight="bold" text-anchor="middle" fill="#1a1a1a" stroke="#1a1a1a" stroke-width="0.2" font-family="Liberation Sans, sans-serif" >Number of Channels</text>
<text x="522.70" y="380.55" font-size="4.3" font-weight="bold" text-anchor="middle" fill="#1a1a1a" stroke="#1a1a1a" stroke-width="0.2" font-family="Liberation Sans, sans-serif" >Electrode Category</text>
<text x="0" y="0" font-size="4.07" font-weight="bold" text-anchor="middle" fill="#1a1a1a" stroke="#1a1a1a" stroke-width="0.16" font-family="Liberation Sans, sans-serif" transform="translate(13.47,108.40) rotate(-90)">Performance Score</text>
<text x="0" y="0" font-size="4.58" font-weight="bold" text-anchor="middle" fill="#1a1a1a" stroke="#1a1a1a" stroke-width="0.16" font-family="Liberation Sans, sans-serif" transform="translate(362.45,100.70) rotate(-90)">Performance Score</text>
<text x="0" y="0" font-size="4.44" font-weight="bold" text-anchor="middle" fill="#1a1a1a" stroke="#1a1a1a" stroke-width="0.16" font-family="Liberation Sans, sans-serif" transform="translate(16.80,300.60) rotate(-90)">Performance Score</text>
<text x="0" y="0" font-size="4.0" font-weight="bold" text-anchor="middle" fill="#1a1a1a" stroke="#1a1a1a" stroke-width="0.16" font-family="Liberation Sans, sans-serif" transform="translate(362.94,304.10) rotate(-90)">Performance Score</text></svg>
</body></html>
